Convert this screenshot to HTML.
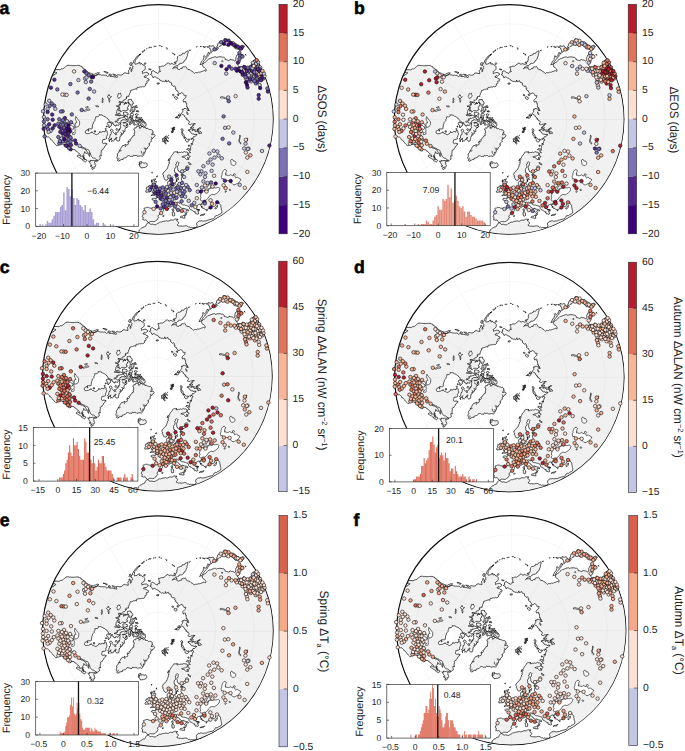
<!DOCTYPE html>
<html><head><meta charset="utf-8"><title>fig</title>
<style>html,body{margin:0;padding:0;background:#fff}svg{display:block}text{font-family:"Liberation Sans",sans-serif;fill:#222;text-rendering:geometricPrecision}</style></head>
<body>
<svg width="685" height="751" viewBox="0 0 685 751">
<rect width="685" height="751" fill="#fff"/>
<defs>
<clipPath id="cc"><circle r="115.00"/></clipPath>
<clipPath id="ce"><circle cx="-0.42" cy="-0.42" r="115.62"/></clipPath>
<g id="base">
<circle r="115.00" fill="#fff"/>
<g clip-path="url(#cc)">
<path d="M-128.6,-17.6L-135.9,-24.0L-128.4,-36.1L-122.8,-36.1L-116.4,-41.0L-111.2,-42.5L-108.2,-44.2L-104.4,-44.3L-103.7,-45.4L-102.5,-45.9L-101.5,-46.7L-102.2,-46.9L-102.7,-47.4L-107.2,-46.6L-112.0,-45.2L-114.3,-44.6L-118.3,-43.8L-120.7,-42.7L-120.9,-43.8L-115.7,-47.2L-110.0,-49.2L-107.9,-50.5L-107.3,-48.2L-103.6,-49.9L-99.7,-49.9L-98.6,-49.7L-97.7,-50.2L-96.8,-50.8L-95.7,-50.7L-94.8,-51.2L-94.0,-51.9L-93.1,-52.5L-92.4,-53.2L-91.7,-54.0L-90.5,-54.2L-89.3,-54.3L-88.1,-53.9L-86.9,-54.1L-85.7,-53.8L-84.4,-53.8L-83.2,-53.9L-82.0,-54.0L-80.8,-54.1L-79.6,-54.1L-78.4,-53.7L-77.7,-53.2L-76.6,-53.1L-76.4,-51.9L-75.5,-51.5L-74.6,-51.2L-74.0,-50.2L-72.8,-49.9L-72.2,-48.9L-71.4,-48.2L-70.5,-47.5L-69.6,-46.9L-68.6,-46.6L-67.6,-46.1L-66.6,-45.6L-65.6,-45.4L-66.4,-44.6L-67.0,-43.5L-68.1,-43.8L-69.1,-43.9L-68.5,-43.5L-68.0,-43.0L-67.2,-42.8L-66.2,-42.8L-65.3,-42.6L-64.7,-43.3L-63.8,-43.5L-63.0,-43.8L-61.8,-44.2L-60.8,-44.7L-59.7,-45.3L-58.9,-44.8L-57.9,-44.7L-57.0,-44.4L-55.9,-44.3L-54.8,-44.4L-53.9,-44.2L-53.1,-44.4L-52.2,-44.3L-51.7,-43.5L-51.0,-43.0L-50.1,-43.5L-49.3,-44.1L-48.6,-43.2L-47.4,-43.0L-46.4,-43.0L-45.5,-43.1L-44.5,-42.6L-43.4,-42.5L-42.3,-42.5L-41.4,-41.8L-40.9,-43.1L-41.8,-44.1L-41.3,-44.6L-40.6,-44.7L-39.6,-44.8L-38.7,-44.4L-37.7,-44.4L-36.4,-44.6L-35.4,-45.3L-34.6,-46.4L-33.3,-46.7L-32.3,-46.3L-31.2,-46.2L-29.6,-45.8L-29.7,-47.5L-30.0,-48.2L-30.0,-49.0L-29.2,-49.8L-28.6,-50.4L-29.0,-51.7L-27.9,-52.0L-27.5,-50.8L-27.0,-49.7L-27.5,-48.9L-27.4,-47.9L-26.7,-48.3L-26.5,-49.1L-27.0,-49.8L-26.4,-50.4L-25.4,-51.1L-26.0,-52.1L-25.5,-52.8L-25.9,-53.5L-26.9,-53.9L-26.7,-54.6L-26.6,-55.3L-25.9,-55.9L-25.2,-56.5L-25.3,-57.6L-24.7,-58.3L-24.5,-59.3L-23.9,-60.0L-23.1,-60.9L-22.6,-62.0L-21.5,-62.6L-21.0,-63.7L-20.0,-64.0L-19.4,-64.8L-18.5,-65.0L-17.8,-65.7L-18.8,-64.8L-19.5,-63.8L-20.1,-63.1L-20.6,-62.3L-21.2,-61.6L-21.7,-60.7L-22.4,-60.0L-23.5,-59.1L-23.3,-57.8L-23.8,-56.5L-23.4,-55.2L-22.7,-55.4L-21.9,-55.6L-21.0,-55.6L-20.5,-56.4L-19.5,-56.9L-18.5,-57.3L-18.8,-56.1L-18.1,-55.2L-17.5,-56.3L-16.4,-55.5L-15.7,-54.6L-14.6,-54.4L-13.9,-53.6L-13.2,-52.8L-13.3,-51.9L-13.2,-51.0L-13.4,-50.3L-13.8,-49.7L-14.6,-49.4L-15.1,-48.7L-15.7,-48.1L-16.5,-47.8L-16.0,-47.0L-16.0,-46.0L-15.3,-46.2L-14.8,-46.8L-13.9,-46.8L-13.1,-47.1L-12.2,-47.1L-11.4,-47.3L-10.8,-46.2L-9.6,-45.8L-9.9,-44.9L-10.6,-44.4L-11.3,-43.8L-12.0,-43.4L-12.9,-44.0L-13.3,-43.2L-14.2,-43.3L-14.4,-42.4L-13.5,-42.2L-12.2,-42.0L-11.5,-41.2L-10.6,-40.8L-9.5,-40.4L-9.6,-39.3L-10.1,-38.3L-11.1,-38.7L-11.9,-38.1L-11.4,-37.2L-11.3,-36.5L-11.7,-35.9L-12.9,-35.7L-12.9,-34.5L-13.3,-33.4L-14.2,-32.8L-15.0,-32.7L-15.8,-33.0L-16.4,-32.6L-17.3,-32.5L-18.0,-32.7L-18.7,-32.4L-19.4,-32.3L-20.0,-32.0L-21.0,-32.3L-21.6,-31.4L-21.5,-30.2L-22.7,-30.7L-23.6,-30.3L-24.5,-30.3L-25.1,-29.8L-25.8,-29.7L-26.6,-29.2L-27.5,-29.5L-27.9,-28.4L-28.1,-27.2L-28.8,-26.4L-28.9,-25.1L-29.6,-24.4L-29.4,-23.1L-30.1,-23.1L-30.9,-23.1L-31.8,-23.1L-32.2,-22.5L-31.4,-21.5L-32.6,-21.6L-32.1,-20.7L-33.0,-20.2L-33.5,-19.5L-34.4,-19.5L-35.3,-19.0L-35.9,-18.3L-36.5,-17.8L-36.7,-17.1L-37.5,-18.0L-38.0,-16.9L-38.4,-18.1L-39.5,-17.8L-39.3,-16.7L-37.9,-15.5L-39.7,-14.8L-40.2,-13.9L-41.1,-13.2L-42.1,-13.8L-41.7,-12.9L-40.9,-13.4L-40.1,-12.9L-39.4,-12.3L-39.8,-11.4L-39.9,-10.5L-40.8,-10.6L-41.0,-9.6L-41.6,-8.8L-41.6,-8.1L-41.8,-7.4L-42.1,-6.3L-41.0,-5.8L-41.3,-5.1L-42.3,-5.1L-43.3,-4.5L-42.7,-4.0L-42.0,-3.9L-41.3,-4.0L-40.6,-4.1L-39.9,-4.7L-39.1,-4.3L-38.2,-3.7L-37.5,-4.5L-36.6,-4.2L-35.4,-3.9L-34.7,-3.6L-34.4,-2.9L-35.0,-2.1L-35.6,-1.7L-36.4,-1.8L-37.1,-1.6L-37.7,-1.2L-38.9,-1.6L-39.3,-0.5L-40.3,-0.8L-41.2,-0.4L-40.6,0.2L-39.9,0.5L-40.6,0.6L-40.8,1.4L-41.8,1.5L-42.7,1.5L-43.7,2.1L-42.7,2.6L-41.6,2.1L-40.9,3.1L-39.8,3.6L-38.8,3.1L-37.9,3.6L-38.7,4.4L-39.2,4.9L-39.5,5.5L-40.6,6.1L-41.2,5.4L-42.3,5.4L-42.4,6.5L-43.5,6.6L-44.0,5.5L-44.9,5.3L-45.4,4.2L-45.3,3.2L-46.3,3.2L-47.0,2.9L-47.3,2.2L-48.5,2.8L-49.4,1.7L-49.5,0.8L-50.0,0.0L-51.0,-0.7L-51.3,-1.5L-52.1,-1.8L-52.9,-2.5L-53.8,-3.1L-54.9,-3.2L-55.6,-4.1L-56.5,-4.3L-57.3,-4.7L-58.4,-4.6L-59.4,-4.8L-59.3,-4.0L-59.8,-3.3L-60.6,-2.5L-61.7,-2.9L-62.6,-2.6L-63.2,-2.4L-62.6,-1.7L-62.9,-0.9L-63.5,0.0L-63.5,1.1L-64.3,2.0L-65.1,2.8L-65.3,4.1L-65.9,5.2L-66.1,6.4L-66.2,7.5L-66.3,8.2L-66.2,8.9L-67.2,9.4L-68.4,9.4L-69.3,9.3L-70.3,9.5L-71.0,10.1L-71.7,10.7L-72.7,11.1L-73.2,12.1L-73.2,13.3L-72.6,13.7L-72.2,14.3L-71.2,14.2L-70.3,14.0L-69.3,14.1L-68.6,13.5L-67.7,13.2L-66.8,13.1L-66.5,12.2L-66.0,13.2L-65.2,13.9L-64.0,14.1L-63.0,14.9L-61.9,15.1L-60.9,14.6L-60.0,14.2L-59.5,13.2L-58.7,12.8L-58.6,11.9L-57.9,12.9L-56.7,12.6L-55.9,12.0L-54.9,12.0L-53.6,12.5L-53.1,10.9L-52.0,10.9L-51.3,11.5L-51.4,12.4L-51.4,13.3L-50.7,13.9L-50.8,14.8L-51.3,15.7L-51.6,16.8L-52.3,17.5L-51.8,18.4L-52.0,19.3L-52.8,19.6L-53.5,19.9L-54.7,19.9L-55.8,20.3L-55.7,21.2L-56.1,22.2L-56.1,23.3L-55.5,23.7L-54.7,24.1L-53.6,23.6L-52.5,23.9L-51.3,24.4L-52.3,24.8L-52.5,25.8L-53.2,26.4L-54.0,27.0L-54.1,28.1L-55.2,28.9L-55.6,30.2L-56.3,30.3L-56.9,30.5L-57.4,31.4L-57.1,32.3L-57.3,33.0L-57.5,33.9L-57.5,34.7L-57.3,35.6L-57.2,36.5L-57.9,36.3L-58.5,35.9L-58.8,36.9L-58.4,37.9L-58.4,38.7L-58.2,39.5L-59.1,40.0L-59.9,40.8L-60.6,40.7L-61.4,40.6L-62.3,40.0L-63.1,39.3L-63.9,38.7L-65.0,38.6L-66.0,38.1L-66.8,37.2L-67.4,36.1L-67.8,35.3L-67.9,34.4L-68.3,33.6L-68.8,32.6L-69.2,31.6L-69.6,30.9L-70.0,30.3L-70.9,30.0L-71.8,29.9L-72.4,29.2L-73.2,28.7L-74.1,28.5L-74.8,28.1L-75.6,27.7L-76.4,27.3L-77.4,27.5L-78.1,26.9L-77.5,27.9L-76.6,28.5L-75.5,28.6L-74.5,29.0L-73.6,29.8L-72.5,30.2L-71.9,31.3L-71.4,32.1L-70.9,33.0L-71.2,34.2L-72.1,33.8L-73.1,33.6L-73.6,32.9L-73.8,32.1L-73.9,33.0L-74.3,33.9L-74.5,34.7L-75.1,35.3L-75.8,35.7L-75.6,36.4L-75.7,37.2L-75.3,38.2L-75.0,39.1L-74.7,40.0L-73.5,39.9L-72.3,40.0L-71.7,40.7L-72.1,41.7L-72.9,42.4L-73.9,41.9L-74.9,41.5L-75.8,41.0L-76.1,39.8L-77.2,39.5L-77.9,38.8L-79.0,38.3L-80.1,37.6L-81.2,37.0L-81.1,36.3L-80.8,35.7L-80.1,35.5L-79.4,35.7L-78.4,36.5L-77.3,37.0L-77.8,36.0L-78.4,34.9L-78.9,34.2L-79.7,33.9L-80.5,33.2L-81.1,32.5L-81.7,31.7L-83.0,31.3L-83.7,30.1L-84.6,30.2L-85.6,30.0L-86.6,30.0L-86.8,30.8L-86.9,31.6L-87.7,30.8L-88.1,29.8L-88.6,29.1L-88.9,28.3L-89.4,27.5L-90.1,26.8L-90.8,26.0L-91.6,26.3L-92.5,25.9L-93.4,26.1L-94.5,25.5L-94.2,24.9L-93.9,24.3L-94.0,25.1L-94.8,25.2L-96.0,24.7L-97.3,25.0L-98.3,24.5L-97.6,24.0L-96.8,23.6L-95.8,23.1L-94.6,22.9L-95.6,22.7L-96.5,22.5L-97.4,22.8L-98.0,23.5L-98.7,24.1L-99.3,24.9L-100.0,25.5L-100.7,26.1L-101.7,26.3L-102.4,25.5L-103.2,24.8L-103.9,24.1L-104.6,23.3L-105.1,22.5L-105.8,21.9L-106.3,21.1L-106.9,20.4L-107.9,20.1L-108.2,19.1L-109.1,18.2L-110.0,17.4L-111.0,17.5L-111.9,17.1L-112.9,17.1L-116.3,19.3L-121.2,21.2L-122.9,19.5L-121.2,17.5L-118.3,15.1L-116.0,14.7L-114.3,12.6L-115.2,10.1L-114.0,7.4L-114.2,5.6L-114.4,4.0L-114.6,1.2L-116.7,1.4L-116.6,-1.0L-115.7,-4.0L-115.3,-7.7L-115.9,-9.7L-118.3,-14.9L-121.9,-15.4ZM-40.1,41.6L-41.1,41.0L-40.7,40.0L-41.2,39.2L-41.6,38.3L-41.4,37.3L-40.7,36.5L-41.3,35.5L-41.1,34.4L-40.4,33.5L-39.6,32.6L-39.4,31.4L-38.4,31.1L-38.3,30.0L-37.7,28.9L-37.1,27.8L-36.5,26.8L-35.6,26.0L-34.2,25.9L-33.3,24.9L-32.4,25.6L-31.3,25.3L-30.5,25.1L-30.1,24.4L-30.2,23.3L-31.0,22.5L-29.8,22.5L-30.2,21.4L-29.5,21.7L-28.9,22.2L-28.1,21.2L-28.9,20.2L-27.6,19.7L-27.1,18.4L-26.5,17.7L-25.6,17.2L-25.4,16.2L-24.1,15.9L-24.1,14.6L-24.4,13.5L-23.6,12.8L-23.9,11.7L-23.9,10.8L-24.7,10.5L-24.3,9.3L-24.1,8.6L-23.6,8.1L-22.5,8.7L-22.1,8.1L-22.0,7.4L-21.4,6.6L-20.7,7.1L-19.8,7.2L-18.9,7.2L-18.8,8.2L-18.1,8.5L-17.4,8.1L-16.8,7.0L-15.9,6.7L-15.2,7.4L-14.6,8.4L-13.7,7.6L-13.2,7.9L-12.5,8.1L-12.6,9.1L-11.6,9.1L-10.8,8.8L-10.2,9.5L-9.5,10.1L-8.7,9.7L-8.1,10.3L-7.3,10.0L-6.2,10.7L-5.5,11.8L-6.1,12.8L-5.1,13.2L-5.8,13.6L-6.5,13.9L-6.9,15.2L-5.5,15.1L-4.5,14.5L-3.8,15.4L-3.4,16.1L-3.7,17.0L-4.4,17.5L-4.9,17.8L-5.5,18.1L-5.7,19.0L-6.5,19.4L-7.3,19.9L-7.5,20.7L-6.9,21.7L-7.7,22.5L-8.4,23.0L-9.1,23.6L-9.1,24.5L-9.0,25.3L-9.2,26.2L-9.8,27.0L-10.3,27.6L-11.0,28.0L-11.1,29.1L-12.0,29.7L-12.9,29.8L-13.6,30.5L-12.9,30.9L-13.0,31.7L-13.3,32.9L-14.1,32.7L-14.9,32.6L-14.2,33.6L-14.3,34.8L-15.0,34.5L-15.6,35.0L-15.3,36.0L-16.2,37.0L-17.3,36.3L-18.4,36.4L-19.4,36.6L-20.7,36.9L-21.6,36.0L-22.6,35.9L-23.6,36.3L-25.1,35.6L-25.9,37.1L-26.9,36.8L-27.9,37.0L-28.8,36.4L-29.9,36.2L-31.0,36.3L-31.6,37.3L-32.3,38.1L-33.3,38.3L-34.3,38.6L-35.3,38.8L-35.5,40.2L-36.8,39.9L-37.5,40.5L-38.7,40.5L-39.2,41.6ZM-19.4,42.7L-18.5,42.4L-17.9,41.8L-17.0,42.0L-17.3,42.9L-17.1,43.8L-16.5,43.4L-15.9,43.1L-15.2,43.5L-14.5,43.4L-13.6,43.8L-12.8,43.2L-12.1,43.5L-11.7,44.1L-11.3,45.0L-11.2,46.0L-11.8,46.7L-12.3,47.5L-13.3,47.7L-14.2,48.1L-15.3,48.1L-16.3,48.3L-17.4,48.4L-17.7,47.4L-18.5,46.9L-19.3,46.3L-18.9,45.7L-18.2,45.3L-19.6,45.3L-19.4,44.0L-18.7,44.0L-18.0,43.8L-19.1,43.7ZM-7.6,76.1L-6.6,75.9L-5.6,75.8L-4.5,75.8L-3.8,75.8L-3.2,75.5L-2.3,75.1L-1.3,75.2L-0.5,75.1L0.4,75.2L1.0,74.6L1.8,74.4L0.9,73.9L1.4,73.2L2.0,72.8L1.9,72.1L2.1,71.5L1.2,71.5L0.4,71.0L0.2,70.0L-0.1,68.8L-0.9,68.4L-1.4,67.7L-1.7,66.9L-1.8,66.1L-2.4,65.3L-3.4,65.1L-2.9,64.1L-2.7,63.4L-2.2,62.8L-2.1,62.0L-2.9,62.0L-3.7,61.8L-4.4,61.9L-4.1,61.0L-3.3,60.4L-3.2,60.0L-4.2,59.7L-5.2,60.0L-5.5,60.6L-5.7,61.3L-6.3,62.2L-6.6,63.0L-6.3,63.9L-6.5,64.9L-6.6,66.0L-5.6,65.5L-5.8,66.3L-6.0,67.2L-5.1,67.0L-4.2,67.1L-4.2,68.1L-3.6,69.1L-3.8,70.0L-4.7,70.1L-5.5,70.1L-5.4,70.9L-5.1,71.7L-6.0,72.1L-6.6,72.7L-5.9,73.1L-5.3,73.4L-4.6,73.6L-3.9,74.0L-4.8,74.0L-5.6,74.3L-6.1,75.0L-6.6,75.6ZM-8.6,65.9L-7.9,66.3L-7.1,66.3L-6.9,67.0L-6.5,67.5L-7.0,68.1L-7.4,68.8L-7.5,69.5L-7.5,70.1L-7.4,71.1L-7.9,71.9L-9.0,72.4L-10.2,72.5L-11.4,72.5L-12.6,72.8L-12.8,72.2L-13.0,71.5L-12.4,70.9L-11.7,70.5L-11.4,69.7L-12.3,68.9L-11.8,68.3L-11.8,67.5L-10.9,67.6L-10.1,67.6L-10.1,66.5L-9.5,66.0ZM-38.7,126.5L-34.9,121.6L-30.7,118.8L-26.8,116.0L-23.5,115.5L-20.1,114.2L-19.1,112.6L-19.6,112.2L-19.5,111.3L-19.1,110.5L-18.3,109.9L-17.7,109.2L-16.9,108.5L-15.9,108.4L-15.2,107.5L-14.3,107.2L-13.4,107.1L-12.7,106.6L-12.4,105.4L-11.7,104.4L-10.9,103.5L-9.8,103.2L-8.8,103.8L-8.2,104.7L-7.3,104.9L-6.4,104.6L-5.5,104.7L-4.6,105.0L-3.7,105.2L-2.6,105.2L-1.8,104.7L-1.1,103.9L-0.0,103.6L0.8,102.9L1.8,102.5L3.1,102.5L4.3,102.0L5.5,101.7L6.7,101.6L7.9,101.2L9.1,101.6L10.4,101.5L11.5,100.8L12.6,100.4L13.8,100.7L15.0,100.5L16.1,99.7L17.4,99.5L18.4,99.8L19.4,99.6L19.1,100.4L18.2,100.4L18.4,101.4L19.1,102.1L19.8,102.4L20.2,103.1L20.2,103.8L19.7,104.3L19.0,105.0L18.9,105.9L20.0,106.3L21.1,106.6L22.4,106.5L23.7,106.7L25.0,106.6L26.0,106.4L27.0,106.2L28.0,106.3L28.9,106.5L29.5,107.2L30.1,107.8L31.1,107.4L32.1,108.2L33.1,107.8L34.1,108.0L37.6,108.1L38.7,106.3L38.3,105.3L38.0,104.3L38.4,103.4L39.0,102.6L39.8,102.1L40.6,101.4L41.7,101.8L42.5,101.1L43.4,101.3L44.3,101.6L45.2,101.6L46.3,101.3L47.3,101.4L48.4,101.2L49.3,100.6L50.4,100.4L51.4,100.0L52.6,99.7L53.8,99.5L55.0,99.2L55.6,98.4L56.2,97.7L56.7,96.7L57.7,96.0L59.0,96.1L60.0,95.2L61.1,94.7L62.3,94.1L63.0,93.6L63.3,92.8L63.3,92.0L63.3,91.1L63.0,90.5L62.8,89.7L62.7,88.6L62.4,87.5L62.3,86.8L62.3,86.0L61.9,85.1L61.0,84.6L60.5,83.6L60.4,82.6L59.6,83.2L58.8,83.7L57.9,83.9L57.3,84.8L57.1,85.9L56.4,86.6L55.7,87.1L54.8,87.1L53.9,87.0L52.9,87.2L52.0,87.5L51.9,88.2L51.9,88.9L50.8,89.0L49.7,89.3L49.0,89.8L48.2,89.9L47.5,90.2L46.7,90.2L46.2,89.5L45.6,88.8L44.9,88.8L44.1,88.8L43.7,88.0L44.1,87.3L43.4,87.1L42.7,86.8L42.3,85.9L42.6,85.2L43.1,84.6L43.9,84.4L44.6,83.9L45.3,83.4L46.0,83.1L46.9,82.7L47.1,81.8L46.3,81.9L45.6,82.0L45.4,82.2L44.4,82.8L43.4,83.3L42.8,84.0L42.7,84.8L41.9,85.5L41.6,84.9L41.1,84.7L40.3,84.9L39.6,85.3L38.8,85.9L38.5,86.6L38.5,87.3L38.2,87.9L37.5,87.7L36.9,87.3L36.8,88.5L37.4,88.9L37.9,89.4L38.3,90.2L39.3,90.7L40.4,90.8L40.6,91.6L40.0,91.5L39.3,91.7L39.8,92.8L40.0,93.5L40.2,94.3L39.3,94.8L38.2,94.1L37.7,94.7L37.3,93.8L36.4,93.4L36.7,92.2L35.6,92.4L34.6,91.6L34.0,91.1L33.4,90.7L32.4,90.2L31.6,89.7L30.9,88.9L30.9,87.9L30.5,87.0L29.7,86.6L28.9,86.4L28.0,86.1L27.1,85.9L26.2,85.5L25.2,85.5L24.0,85.3L23.0,84.7L22.7,84.0L22.2,83.5L21.3,83.0L20.8,84.0L20.6,83.3L20.1,82.9L19.2,82.6L18.6,83.0L18.2,83.5L18.6,84.4L18.7,85.1L18.9,85.7L19.9,85.8L20.8,86.5L21.6,87.0L21.9,88.0L22.8,88.4L23.7,88.9L24.6,89.0L25.6,88.6L25.6,89.4L26.6,89.4L27.4,89.7L28.4,89.8L29.3,90.0L30.3,90.6L30.2,91.4L29.1,91.2L28.1,90.7L27.8,91.4L27.4,92.0L28.2,92.6L28.7,93.3L27.9,93.9L28.1,94.8L27.7,95.4L27.3,95.9L26.8,95.8L26.9,94.6L27.0,93.5L26.4,92.9L25.8,92.3L25.0,92.0L24.3,91.5L23.1,91.4L22.4,91.3L21.8,90.9L21.0,91.2L20.3,90.8L19.3,90.2L18.5,89.9L17.7,89.5L17.0,89.2L16.4,88.7L15.9,87.7L15.4,87.2L15.0,86.7L14.2,86.7L13.5,86.3L13.2,87.1L12.4,87.5L11.4,88.0L10.8,88.5L10.3,89.1L9.4,89.0L8.4,89.1L7.2,89.0L6.1,88.9L5.4,89.4L4.9,90.0L5.0,90.6L5.1,91.3L4.3,92.1L3.6,93.1L2.4,93.5L1.5,94.3L0.7,95.0L-0.0,95.8L-0.5,96.8L-0.2,97.6L0.3,98.2L-0.2,98.7L-0.9,99.1L-1.1,99.8L-1.4,100.4L-2.3,100.9L-3.1,101.4L-3.7,102.1L-5.0,102.2L-6.2,102.0L-7.0,102.0L-7.8,101.9L-8.7,102.4L-9.6,102.9L-10.1,103.0L-10.9,102.6L-11.2,101.8L-11.8,101.2L-12.2,100.5L-13.1,100.4L-14.0,100.6L-14.8,100.3L-15.7,100.4L-15.5,99.1L-15.2,97.9L-15.9,97.6L-16.2,96.9L-15.7,95.7L-15.3,94.8L-14.6,94.1L-14.7,93.2L-14.1,92.5L-14.2,91.5L-14.2,90.5L-14.1,89.7L-14.6,89.0L-13.8,88.6L-13.0,88.4L-12.4,88.2L-11.9,87.8L-10.9,87.9L-9.9,87.9L-9.0,88.5L-8.0,88.6L-6.9,88.7L-5.9,89.0L-4.9,89.3L-4.0,89.6L-3.0,89.4L-2.3,88.9L-2.1,87.9L-1.8,87.0L-1.6,86.1L-1.6,85.1L-1.8,83.9L-2.5,83.0L-3.1,82.0L-3.7,81.6L-4.4,81.2L-5.2,80.6L-6.2,80.5L-6.5,79.5L-5.8,78.7L-4.8,78.8L-3.8,78.8L-2.8,79.2L-2.2,79.2L-2.2,78.0L-2.6,77.2L-1.8,77.2L-1.5,77.9L-0.3,78.0L0.3,77.4L1.1,77.4L1.6,76.7L2.1,76.1L2.1,75.0L3.3,74.5L3.8,74.1L4.4,73.9L4.5,73.2L5.1,72.8L5.7,72.2L5.7,71.3L5.9,70.8L6.6,70.0L7.6,70.1L8.4,69.6L9.1,69.4L9.7,68.9L10.4,69.0L10.6,68.0L10.2,67.3L10.0,66.3L9.4,65.3L9.4,64.6L9.1,63.9L9.1,63.0L9.4,62.3L9.8,61.7L10.5,61.4L11.4,60.8L11.4,61.6L11.3,62.4L12.2,63.2L11.6,63.9L11.3,65.2L11.1,66.2L11.8,66.8L12.8,67.2L13.2,67.7L13.9,67.7L14.4,67.2L14.7,66.5L15.8,66.0L16.4,66.5L16.9,67.0L17.7,66.5L18.5,66.1L18.7,65.0L19.8,64.6L20.4,64.2L21.2,64.0L21.9,64.6L23.0,64.1L22.9,63.2L23.1,62.2L23.7,61.3L23.2,60.6L22.9,59.8L23.0,58.9L23.0,58.1L23.8,57.1L24.7,57.1L25.0,58.0L25.8,57.6L25.7,56.8L25.4,56.0L25.1,55.1L23.9,55.0L23.4,54.2L23.8,53.5L24.4,53.1L25.2,53.1L25.5,52.4L26.5,51.9L27.4,51.6L27.9,51.0L28.1,50.2L29.0,49.8L27.7,50.0L26.8,49.4L26.1,49.8L25.7,50.4L24.6,50.7L24.1,51.8L23.4,52.5L22.6,53.2L21.5,52.5L20.9,52.3L20.3,52.0L19.9,51.4L19.9,50.6L19.1,50.2L19.2,49.3L19.4,48.5L18.9,48.0L18.7,47.1L19.5,46.5L19.9,45.3L20.1,44.1L20.5,43.1L20.0,42.6L19.3,42.3L18.2,42.8L17.6,43.3L18.2,44.1L17.4,44.6L17.0,45.4L17.7,46.0L17.6,46.6L17.5,47.3L17.4,48.1L16.6,48.6L16.3,49.2L16.1,50.0L15.8,50.9L16.6,51.4L16.1,52.2L16.5,52.9L16.6,53.6L17.3,53.4L17.9,53.8L18.7,54.8L18.8,55.8L18.3,56.7L17.5,57.0L17.3,57.8L17.7,58.5L17.8,59.3L17.9,60.3L18.0,61.2L17.8,62.4L17.2,62.8L16.5,62.8L16.3,63.9L15.8,64.4L14.8,64.6L14.8,64.1L14.1,63.2L14.2,62.3L13.3,61.6L12.8,60.6L11.8,60.4L11.9,59.4L11.4,58.3L11.0,57.6L10.7,56.9L10.6,57.9L10.2,58.6L9.5,59.0L9.4,59.8L8.5,60.5L7.5,60.9L6.9,60.4L6.2,60.1L5.8,59.1L5.4,58.0L4.9,57.3L5.1,56.5L4.8,55.4L4.0,54.8L4.7,54.0L4.9,53.1L5.8,52.3L6.4,51.9L6.8,51.3L7.2,50.6L7.8,50.2L8.6,49.6L8.8,48.5L9.2,47.9L9.3,47.2L9.8,46.6L9.9,45.9L10.1,44.7L11.0,44.0L10.2,43.3L10.9,43.0L10.8,42.1L11.0,40.9L11.4,40.3L11.5,39.6L11.5,38.9L11.8,38.3L12.4,37.8L12.5,37.1L13.1,36.0L13.9,35.3L14.6,34.4L14.9,33.8L15.1,33.1L15.8,32.6L16.9,32.2L17.7,32.5L18.6,32.2L19.5,32.2L18.8,32.7L19.0,33.5L19.7,33.4L20.5,32.8L21.2,32.9L21.8,33.0L23.0,32.5L24.0,32.9L25.0,32.5L25.8,31.9L26.8,32.5L28.1,32.5L28.9,32.7L29.3,33.5L29.4,34.5L28.8,35.6L28.1,36.0L27.4,36.4L26.5,36.4L25.7,36.7L24.8,36.6L24.2,37.3L23.5,37.0L24.1,37.8L25.1,37.9L25.9,37.9L26.6,38.4L27.2,39.2L27.8,40.0L28.7,39.7L29.6,40.1L30.7,39.5L29.7,39.0L28.7,38.6L29.1,37.9L29.9,38.5L30.6,37.8L31.7,37.1L31.3,36.4L30.6,36.4L29.7,36.0L30.0,35.1L30.1,34.3L30.3,33.4L30.9,32.8L31.6,33.1L32.2,33.1L31.4,32.3L31.0,31.7L30.4,31.4L29.5,30.7L29.0,30.0L28.1,29.9L28.7,29.3L29.4,28.9L30.4,29.2L31.1,29.3L30.7,30.3L31.4,30.9L32.5,30.3L32.0,29.6L32.0,28.9L32.1,27.9L32.3,26.6L32.6,25.9L32.7,25.1L32.6,24.4L32.6,23.8L33.8,24.3L33.6,24.9L34.3,24.5L33.4,23.9L34.2,23.0L34.4,21.9L34.7,20.8L35.5,20.5L35.1,19.6L34.6,18.9L33.8,19.2L34.4,18.3L34.8,17.2L36.0,17.2L36.8,16.9L37.4,16.3L37.6,15.2L38.6,15.4L37.8,14.5L36.8,14.9L35.6,15.2L35.1,14.3L34.1,14.5L33.3,14.3L32.6,13.7L32.5,12.8L31.7,12.3L31.0,11.9L30.4,11.1L31.1,10.7L31.2,10.0L31.9,9.8L32.6,10.1L33.3,10.8L34.3,11.0L35.4,10.4L36.3,11.2L36.8,12.1L37.9,11.9L38.7,12.1L39.3,11.6L39.5,12.8L40.7,12.4L40.3,14.2L42.1,13.8L43.1,13.8L43.0,13.0L42.5,12.4L41.6,12.1L41.0,11.4L40.0,11.8L39.6,10.8L39.8,9.7L40.8,9.4L41.8,9.0L42.3,8.5L41.2,8.2L40.2,8.9L39.7,9.8L38.7,9.6L39.5,10.6L38.3,11.0L37.6,10.2L36.8,10.8L36.1,10.1L35.1,9.8L34.5,10.1L33.8,10.2L33.5,8.8L32.0,8.7L32.4,7.5L33.5,8.1L34.0,8.7L34.8,8.7L35.0,7.8L34.2,7.1L33.2,6.9L34.0,6.0L35.2,6.1L34.9,4.9L35.9,4.4L36.9,4.3L36.2,4.3L35.6,4.0L34.8,4.3L34.0,4.6L32.9,4.5L32.2,5.2L31.1,5.1L29.8,4.4L30.7,3.2L30.9,2.6L30.8,1.9L30.3,1.3L29.5,1.3L29.1,0.2L28.0,0.0L28.2,-1.2L27.0,-1.4L27.1,-2.2L26.5,-2.8L25.7,-3.2L25.7,-4.1L25.3,-4.6L24.6,-4.8L23.7,-5.1L22.8,-5.8L23.3,-6.7L23.8,-7.2L24.2,-7.9L24.5,-8.8L23.8,-9.4L24.3,-10.5L25.2,-10.0L25.5,-11.1L26.8,-11.1L28.0,-10.5L29.0,-10.8L29.6,-9.9L30.2,-9.4L30.9,-9.1L29.0,-9.0L30.0,-10.6L29.7,-11.3L28.9,-11.4L29.0,-12.6L27.9,-12.7L28.2,-13.7L28.0,-14.8L28.2,-16.0L27.2,-16.4L27.5,-17.5L26.7,-18.5L25.9,-17.5L25.0,-17.4L24.8,-18.4L24.5,-19.2L25.0,-19.9L25.7,-20.6L26.4,-21.3L27.3,-22.0L27.3,-23.0L27.8,-23.8L26.8,-24.0L25.9,-23.7L25.4,-24.3L25.4,-25.0L24.9,-25.8L24.1,-26.3L22.9,-26.8L22.5,-26.2L21.9,-25.9L20.7,-25.5L20.2,-26.7L19.3,-27.6L19.0,-28.8L17.8,-29.1L17.1,-29.9L17.7,-30.7L16.6,-31.2L16.9,-32.5L16.1,-33.7L14.7,-33.1L14.1,-33.9L13.2,-34.4L13.1,-35.5L13.0,-36.7L11.9,-37.1L10.7,-37.4L10.2,-39.0L8.8,-38.1L7.7,-37.8L7.5,-38.7L7.3,-39.6L7.1,-38.5L6.3,-37.6L5.5,-37.9L4.7,-38.4L3.6,-38.0L2.7,-38.8L1.7,-38.9L1.3,-40.0L0.4,-40.3L-0.5,-41.3L-1.8,-41.6L-2.7,-42.3L-3.7,-42.8L-5.5,-41.8L-6.1,-43.7L-7.1,-44.4L-8.2,-45.1L-6.8,-45.8L-7.1,-47.4L-6.4,-48.5L-5.2,-48.9L-4.2,-48.1L-3.3,-47.6L-2.5,-46.9L-1.5,-46.7L-0.8,-46.0L-0.2,-47.0L0.4,-47.9L1.4,-47.6L2.1,-48.4L1.1,-48.8L1.3,-49.8L1.1,-50.8L0.7,-51.8L0.6,-52.9L1.8,-52.6L2.7,-53.2L3.7,-53.5L5.1,-53.3L6.2,-54.1L7.2,-54.7L7.9,-55.6L8.9,-56.2L9.7,-56.8L10.5,-55.8L11.8,-55.3L12.7,-56.0L13.9,-55.8L14.8,-55.2L15.9,-55.5L17.2,-55.6L17.1,-56.9L18.1,-57.6L18.5,-58.7L19.0,-59.9L18.6,-61.1L19.5,-61.8L18.8,-62.4L19.5,-63.0L20.1,-63.6L20.7,-64.2L21.8,-64.1L22.6,-64.7L23.6,-64.8L23.9,-65.5L24.1,-66.3L25.1,-66.2L26.0,-66.0L26.6,-66.8L27.0,-67.6L28.0,-67.9L28.8,-68.4L29.6,-68.8L29.7,-67.7L29.6,-66.7L29.2,-65.7L28.9,-64.7L29.0,-63.7L28.5,-62.8L28.1,-61.6L27.6,-60.4L26.9,-59.3L25.9,-58.9L25.6,-57.7L24.6,-57.2L24.0,-56.3L23.2,-56.1L22.1,-56.2L21.2,-56.0L20.8,-55.0L19.9,-54.8L19.0,-53.9L17.7,-53.9L16.9,-53.5L16.4,-52.7L15.5,-52.4L14.8,-51.6L14.1,-50.8L15.1,-51.6L16.3,-51.7L17.3,-51.8L18.2,-52.1L18.7,-52.9L18.8,-51.8L18.7,-50.7L19.5,-50.4L20.3,-50.0L21.3,-50.1L22.0,-51.0L23.6,-50.9L23.8,-52.3L24.5,-52.6L25.2,-52.8L26.1,-52.6L27.1,-53.2L27.9,-52.5L28.0,-51.7L28.5,-51.0L29.4,-50.1L30.6,-50.0L31.9,-49.6L32.8,-48.6L33.6,-48.0L34.5,-47.7L35.2,-47.0L36.1,-46.0L37.1,-47.0L38.0,-46.9L39.1,-46.8L40.0,-47.4L41.1,-47.3L42.0,-47.5L42.9,-47.9L43.9,-48.2L44.8,-48.5L45.8,-49.1L46.6,-48.6L47.4,-48.3L47.8,-49.5L47.2,-50.6L46.4,-51.3L45.8,-52.1L45.0,-52.4L44.4,-52.9L44.1,-53.9L44.1,-55.0L44.9,-55.7L45.3,-56.5L46.2,-57.1L47.2,-57.5L48.0,-58.2L48.6,-59.1L49.4,-59.8L50.1,-60.5L51.3,-61.0L52.5,-61.3L53.7,-61.8L54.6,-62.1L55.5,-62.4L56.4,-62.7L57.4,-62.7L58.4,-61.9L59.4,-62.6L60.5,-62.6L61.6,-62.7L62.7,-62.7L63.8,-62.3L65.1,-62.3L66.2,-61.7L66.7,-60.9L66.8,-59.9L67.9,-59.7L69.0,-59.4L70.0,-58.9L71.0,-59.1L71.4,-60.0L72.4,-60.1L73.3,-59.6L74.4,-59.6L75.3,-59.2L76.2,-58.6L77.3,-59.2L77.4,-60.3L77.4,-61.3L77.4,-62.3L77.9,-63.1L78.3,-64.2L79.0,-65.0L79.8,-65.6L80.6,-66.2L81.8,-66.2L82.4,-65.6L83.2,-65.0L84.3,-65.0L84.6,-63.8L85.6,-63.5L84.8,-62.6L84.2,-61.9L83.2,-61.8L82.9,-61.0L82.4,-60.3L81.7,-60.4L81.0,-60.4L81.0,-59.4L81.5,-58.6L81.8,-57.7L81.2,-56.8L80.1,-56.8L79.3,-56.2L79.3,-55.2L79.2,-54.3L80.2,-53.5L81.0,-52.6L81.7,-51.9L82.5,-51.5L83.4,-51.3L82.6,-50.4L81.4,-50.3L80.2,-50.3L80.1,-49.3L80.7,-48.5L81.8,-48.4L82.6,-47.9L83.5,-47.4L84.2,-46.7L85.0,-46.1L86.0,-45.7L87.2,-45.8L87.3,-47.0L87.5,-48.1L88.0,-48.6L88.5,-49.1L87.9,-49.7L87.1,-50.3L86.5,-51.4L85.8,-52.4L85.2,-53.3L85.1,-54.4L86.1,-53.9L86.9,-53.3L87.9,-52.8L88.5,-52.1L89.5,-52.1L90.6,-51.8L91.8,-51.5L92.6,-52.0L92.4,-53.1L92.7,-54.2L93.6,-55.1L94.1,-56.3L94.4,-57.2L94.6,-58.1L94.9,-59.0L95.6,-59.1L96.0,-59.8L98.0,-58.7L97.8,-60.9L100.4,-61.8L102.2,-60.9L106.7,-60.6L110.7,-59.1L114.2,-57.4L118.4,-53.2L123.9,-46.3L138.9,-37.2L143.2,-12.5L143.2,12.5L138.9,37.2L130.3,60.8L117.8,82.5L101.6,101.6L82.5,117.8L60.8,130.3L37.2,138.9L12.5,143.2L-12.5,143.2L-42.0,137.5ZM-69.9,41.5L-69.0,41.8L-68.1,41.9L-68.3,40.8L-67.3,40.9L-66.5,41.2L-65.3,40.9L-64.2,40.9L-63.3,41.0L-62.4,40.8L-61.4,41.0L-60.7,41.6L-61.5,41.5L-62.1,42.0L-63.1,41.9L-64.0,42.2L-64.0,42.9L-63.4,43.4L-63.7,44.6L-63.1,45.4L-62.8,46.3L-63.2,46.9L-63.3,47.5L-64.1,47.5L-64.9,47.7L-64.1,48.4L-64.8,49.4L-65.6,49.7L-66.4,49.9L-66.7,48.7L-66.3,48.2L-65.7,47.8L-66.9,47.5L-67.9,47.0L-68.2,46.2L-67.5,46.6L-66.8,46.3L-67.1,45.4L-67.8,44.9L-68.3,43.9L-68.8,43.0L-69.3,42.2ZM-69.4,33.1L-69.0,34.1L-68.8,35.2L-69.0,36.1L-69.0,37.0L-69.5,36.2L-69.8,35.4L-69.8,34.5L-69.7,33.8ZM-74.6,35.9L-74.8,36.9L-74.4,37.9L-74.1,38.6L-73.7,39.2L-74.8,38.8L-74.7,37.8L-75.3,37.1L-75.0,36.5ZM-66.6,-43.9L-65.9,-44.6L-65.2,-45.3L-64.1,-45.3L-63.1,-45.9L-62.2,-46.1L-61.4,-46.6L-60.4,-46.9L-59.7,-46.7L-59.0,-46.6L-59.7,-46.1L-60.3,-45.4L-61.4,-44.9L-62.6,-44.3L-63.6,-43.8L-64.8,-43.7L-65.7,-43.5ZM-54.7,-47.8L-53.5,-47.7L-52.2,-47.7L-51.3,-47.2L-50.3,-46.9L-51.2,-46.7L-51.5,-45.9L-52.1,-46.7L-52.8,-47.4L-53.7,-47.7ZM-49.6,-45.1L-48.7,-45.4L-47.8,-45.4L-47.3,-44.9L-46.8,-44.5L-47.5,-44.0L-48.3,-44.1L-49.0,-44.4ZM-45.9,-45.4L-45.1,-45.3L-44.3,-45.1L-43.2,-45.1L-42.4,-44.3L-42.6,-43.6L-43.2,-43.2L-43.7,-44.0L-44.6,-44.3L-45.3,-44.8ZM-27.1,-57.1L-28.0,-56.8L-28.7,-56.4L-28.4,-55.5L-28.9,-54.8L-28.0,-53.9L-27.4,-54.9L-26.8,-56.0ZM-17.8,-65.5L-18.5,-64.9L-19.3,-64.8L-18.5,-64.5ZM-15.4,-68.4L-16.1,-68.2L-16.5,-67.6L-16.0,-67.1L-15.0,-67.7ZM-13.6,-69.8L-14.3,-69.5L-14.6,-68.8L-13.9,-68.6L-13.8,-69.2ZM-6.8,-72.3L-7.7,-72.0L-7.3,-71.8ZM-4.0,-73.3L-4.7,-73.0L-4.2,-72.7ZM9.1,-70.7L8.2,-70.6L8.6,-70.4ZM-7.4,-50.4L-8.2,-50.3L-8.9,-50.6L-10.0,-50.4L-9.3,-50.0L-8.2,-49.7L-7.4,-49.9ZM-12.6,-56.1L-13.3,-57.0L-14.0,-56.1L-14.1,-55.2L-13.0,-55.3ZM-2.3,-73.4L-3.1,-73.2L-2.8,-72.8ZM1.9,-74.0L0.8,-74.0L1.3,-73.4ZM3.7,-73.0L2.8,-73.0L3.3,-72.5ZM8.3,-71.8L7.7,-71.7L8.0,-71.3ZM16.5,-64.3L15.8,-64.8L15.6,-65.8L16.1,-65.4ZM14.8,-65.6L14.4,-65.9L14.0,-66.6L14.5,-66.3ZM-8.1,-72.4L-9.0,-72.2L-8.6,-71.9ZM-9.2,-71.8L-9.8,-71.6L-9.5,-71.3ZM-11.4,-70.9L-12.0,-70.7L-11.6,-70.4ZM-49.0,22.3L-49.4,21.2L-48.7,20.2L-50.2,19.3L-48.8,18.3L-48.8,17.2L-48.5,16.2L-48.5,15.2L-47.5,15.0L-47.3,14.1L-47.3,13.1L-47.1,12.1L-47.9,11.5L-48.1,10.6L-47.7,9.9L-46.9,9.7L-46.3,10.0L-45.4,10.8L-45.8,11.9L-45.4,12.5L-44.9,13.1L-44.0,14.0L-43.1,13.2L-42.3,13.6L-41.5,13.1L-40.7,12.7L-40.2,11.9L-40.0,10.7L-38.6,10.5L-39.5,9.5L-38.3,9.6L-38.5,8.6L-37.7,8.0L-38.1,7.1L-38.1,6.3L-37.7,5.6L-37.8,4.6L-38.2,3.7L-37.4,3.2L-37.7,2.3L-37.8,1.6L-37.4,1.0L-36.5,1.1L-36.2,0.3L-35.3,0.3L-34.5,0.0L-33.5,0.6L-32.4,0.3L-31.5,0.4L-31.0,1.1L-31.0,2.2L-31.8,2.2L-32.5,2.8L-33.4,2.9L-34.4,2.9L-35.3,2.8L-35.7,3.4L-34.7,3.7L-33.7,3.3L-32.8,3.4L-31.9,3.8L-31.0,4.1L-30.9,4.9L-31.6,5.4L-32.5,5.7L-32.1,6.5L-32.0,5.4L-30.8,5.2L-30.7,5.8L-30.7,6.5L-30.7,7.4L-31.4,7.8L-32.2,7.7L-32.6,8.7L-33.4,9.3L-33.6,10.1L-33.5,10.9L-33.4,11.9L-34.3,12.2L-35.3,12.7L-34.8,13.7L-35.8,14.0L-36.1,15.0L-36.9,15.3L-37.7,15.2L-37.2,16.2L-38.1,16.6L-38.6,17.7L-38.6,18.8L-38.9,19.7L-38.8,20.6L-39.4,21.5L-40.3,21.6L-41.3,21.5L-41.9,20.9L-42.4,20.2L-42.3,19.1L-41.7,18.1L-42.1,17.5L-42.5,18.3L-42.6,19.3L-43.8,19.5L-44.1,20.7L-45.0,21.5L-46.1,21.3L-46.8,22.0L-46.7,21.2L-46.9,20.4L-47.2,19.4L-46.8,18.4L-47.6,19.4L-48.2,20.4L-49.2,21.1ZM-50.5,2.6L-51.0,3.3L-51.2,4.0L-50.8,5.1L-49.7,5.7L-49.6,6.6L-50.0,7.5L-49.4,7.7L-49.1,8.4L-49.1,7.6L-48.3,7.2L-47.3,6.5L-47.0,5.4L-46.7,4.6L-46.2,4.0L-47.2,4.1L-47.8,3.3L-48.5,2.8L-49.4,3.0ZM-52.1,6.4L-52.2,7.5L-51.3,7.3L-51.3,6.5ZM-53.5,9.2L-53.1,10.0L-52.1,9.4L-52.7,9.0ZM-70.2,9.9L-70.3,10.6L-70.5,11.4L-69.8,11.6L-69.7,10.4ZM-64.2,11.3L-64.3,12.5L-63.7,12.5L-63.0,12.5L-63.0,11.3ZM-42.6,9.8L-42.2,10.7L-41.2,10.8L-40.5,10.1L-41.1,9.3L-42.0,9.0ZM-34.3,-17.5L-35.2,-17.3L-36.0,-16.8L-37.1,-17.0L-37.9,-16.1L-38.1,-15.0L-38.5,-14.0L-39.9,-13.0L-38.7,-11.8L-39.0,-11.2L-39.1,-10.5L-39.8,-9.6L-39.7,-8.4L-38.3,-9.7L-38.3,-7.8L-37.3,-7.6L-36.6,-8.3L-36.1,-8.7L-35.6,-9.2L-34.9,-9.0L-34.1,-9.0L-32.9,-8.7L-31.8,-8.8L-31.4,-9.6L-30.5,-9.6L-30.1,-10.6L-31.1,-11.0L-31.1,-12.0L-30.4,-12.5L-30.1,-13.4L-29.8,-14.4L-29.1,-15.1L-29.9,-15.6L-29.7,-16.9L-30.8,-17.1L-31.8,-16.5L-32.0,-15.6L-32.7,-16.4L-32.8,-17.5L-32.5,-16.3L-33.7,-16.1L-34.3,-15.6L-34.3,-14.9L-33.8,-15.9L-34.5,-16.8ZM-28.2,-20.1L-29.3,-20.0L-30.4,-19.7L-30.4,-19.0L-30.6,-18.4L-30.1,-17.7L-30.0,-17.0L-29.3,-16.3L-28.5,-15.6L-28.1,-14.6L-28.2,-13.8L-27.7,-13.2L-26.8,-13.2L-26.4,-14.0L-26.5,-15.2L-25.3,-15.5L-25.1,-16.6L-25.6,-17.6L-26.1,-18.5L-27.0,-18.9L-27.0,-20.1ZM-33.3,-7.4L-34.9,-7.4L-35.0,-5.9L-34.8,-5.1L-34.8,-4.3L-33.6,-4.2L-32.3,-4.0L-31.6,-4.9L-30.6,-4.3L-30.5,-5.0L-30.3,-5.6L-30.6,-6.7L-31.7,-6.7L-32.4,-7.4ZM-34.3,-3.3L-34.4,-2.1L-33.3,-1.6L-32.6,-0.6L-31.9,0.2L-30.9,-0.2L-30.4,-1.3L-30.9,-2.1L-30.9,-3.0L-31.8,-2.8L-32.6,-3.3L-33.5,-3.2ZM-39.7,-6.6L-40.0,-5.7L-40.7,-5.0L-40.3,-3.9L-39.6,-3.7L-38.9,-3.7L-38.3,-4.3L-38.2,-5.0L-38.6,-6.1ZM-25.3,-12.9L-25.5,-11.9L-26.5,-12.1L-27.3,-11.9L-27.5,-11.1L-27.4,-10.1L-28.0,-9.4L-28.9,-8.4L-27.6,-7.9L-27.1,-6.7L-26.0,-7.4L-24.9,-7.4L-24.8,-8.5L-24.2,-8.1L-24.1,-8.9L-24.2,-9.8L-23.2,-10.1L-23.6,-11.0L-24.2,-11.7L-24.1,-12.6ZM-22.3,-14.2L-22.6,-13.1L-23.7,-13.4L-23.4,-12.6L-23.0,-11.9L-22.0,-12.5L-21.4,-11.6L-21.6,-12.4L-21.4,-13.1L-22.0,-13.6ZM-26.9,-6.0L-28.1,-5.8L-28.4,-4.7L-28.4,-3.9L-27.6,-3.6L-26.6,-3.7L-25.6,-3.6L-25.1,-4.6L-25.1,-5.4L-25.6,-5.9L-26.2,-6.5ZM-28.2,-3.2L-28.9,-2.8L-29.3,-2.0L-28.4,-2.5L-27.9,-1.7L-27.5,-2.6ZM-25.5,-2.7L-25.8,-1.8L-25.9,-0.9L-27.2,-0.7L-27.8,0.5L-26.9,1.3L-27.5,2.4L-27.3,3.4L-27.1,4.3L-27.9,4.5L-28.3,5.2L-29.1,4.9L-28.9,3.6L-29.6,2.6L-29.5,1.7L-29.7,0.8L-29.9,-0.2L-29.3,-1.0L-28.7,-1.9L-27.8,-1.5L-27.2,-2.0L-26.7,-2.6ZM-26.1,0.2L-25.4,1.1L-26.2,1.8L-25.8,2.7L-25.8,3.6L-25.3,4.0L-24.9,4.6L-24.4,5.9L-23.4,5.0L-22.7,5.3L-22.0,5.3L-21.2,5.4L-20.4,5.5L-19.6,6.0L-18.8,6.1L-18.0,6.1L-17.2,6.4L-16.7,7.3L-15.8,7.0L-14.8,6.4L-13.8,7.0L-12.8,6.6L-12.4,5.5L-12.5,4.3L-12.7,3.6L-13.1,3.0L-13.6,2.5L-14.0,2.0L-15.3,2.0L-15.1,0.8L-16.1,0.7L-16.1,-0.3L-16.9,1.1L-18.0,0.0L-18.1,0.7L-18.4,1.3L-19.1,1.5L-19.9,1.6L-20.7,1.7L-21.1,0.9L-21.9,1.0L-22.4,1.8L-23.2,0.8L-23.8,1.1L-24.5,1.3L-25.0,0.3ZM-22.3,-2.0L-22.4,-0.8L-22.9,-0.1L-22.4,0.6L-21.3,2.0L-19.9,0.9L-19.5,-0.2L-18.4,0.0L-17.5,-0.2L-16.8,-0.9L-16.7,-2.1L-17.9,-1.7L-19.1,-1.9L-20.3,-1.6L-21.2,-2.1ZM-21.7,-5.8L-22.8,-5.6L-23.0,-4.5L-22.4,-4.0L-21.7,-3.6L-21.0,-4.2L-20.2,-4.7L-20.7,-5.4ZM-22.6,-3.2L-23.1,-2.0L-22.4,-2.7L-21.6,-2.1L-21.3,-2.8L-22.0,-2.8ZM-22.2,-9.0L-22.2,-7.9L-21.4,-8.0L-20.8,-8.8L-21.6,-8.1ZM-20.6,-8.9L-21.0,-7.9L-20.2,-7.3L-19.7,-8.1ZM3.9,19.3L4.0,20.4L4.5,21.3L5.3,22.0L6.2,22.2L6.0,23.2L6.6,24.0L7.3,24.6L7.6,24.1L7.2,23.2L7.4,22.2L7.3,21.2L8.0,20.3L7.8,19.2L6.7,19.6L6.7,18.5L5.7,18.5L4.7,19.0ZM6.0,17.8L6.3,18.5L6.9,18.9L7.6,18.5L8.3,18.7L9.3,18.2L8.8,17.2L8.3,16.4L7.5,16.8L6.5,17.0ZM8.5,21.6L9.3,21.6L9.7,22.3L9.7,21.3L8.7,20.9ZM12.7,12.7L13.4,13.0L14.1,12.7L14.6,12.1L13.9,11.2L13.0,11.7ZM14.6,10.6L15.1,9.5L15.9,10.3L15.9,9.2L15.6,8.3L14.8,7.7L14.3,8.6L14.3,9.6ZM14.7,11.7L15.3,11.3L14.5,11.0L14.3,11.3ZM13.9,10.9L14.5,10.4L14.0,9.8L13.5,10.4ZM14.6,9.5L15.5,9.1L15.0,8.5L14.3,8.9ZM13.7,9.2L13.9,8.5L13.3,8.3L13.3,8.8ZM13.6,12.9L14.5,12.8L14.0,12.2ZM16.1,8.5L16.1,7.7L15.4,7.8ZM7.7,20.5L8.7,20.9L8.1,20.1ZM9.9,16.2L10.3,15.8L10.0,15.7ZM9.9,19.0L10.5,18.6L10.1,18.5ZM4.0,21.7L4.5,22.2L4.4,21.2ZM27.4,21.8L28.2,22.3L29.0,22.3L29.8,21.8L30.5,21.3L30.3,20.3L31.3,20.1L30.7,19.4L29.9,19.8L28.8,19.8L28.0,19.2L27.5,18.2L26.5,18.0L25.9,18.8L26.4,19.4L27.0,20.0L26.9,20.7ZM25.7,18.4L26.7,17.7L25.8,17.1L25.7,16.0L25.3,15.0L24.7,14.0L23.6,13.1L24.3,11.8L24.6,10.7L24.3,9.6L23.4,9.1L22.5,9.9L23.3,10.9L23.4,11.8L23.0,12.7L23.7,13.6L23.4,14.6L23.8,15.7L24.3,16.7L25.2,17.4ZM30.1,26.8L31.0,26.5L30.8,25.6L29.7,25.7ZM33.0,20.2L33.7,19.5L33.0,18.8L32.2,19.3ZM30.2,11.3L30.7,10.3L29.9,10.3L29.7,10.8ZM20.8,-1.8L21.3,-2.5L21.2,-3.4L20.1,-3.9L19.4,-3.7L18.9,-3.2L18.7,-2.0L19.5,-1.2L20.2,-1.5ZM22.7,-4.0L21.7,-4.3L22.0,-5.3L20.7,-5.6L20.1,-5.1L19.8,-4.4L20.3,-3.7L21.1,-3.9L21.9,-4.1ZM18.5,-1.5L18.6,-2.5L17.5,-2.5L16.8,-1.6L17.7,-2.0ZM19.3,-21.1L18.8,-21.7L18.8,-22.5L17.8,-22.4L17.1,-23.1L16.0,-22.5L16.0,-21.4L16.8,-20.7L17.8,-20.1L18.6,-20.4ZM15.7,-24.1L15.2,-25.0L14.3,-25.2L13.8,-24.4L14.7,-23.6ZM20.5,-24.4L19.6,-24.8L19.4,-25.7L18.7,-25.0L19.3,-24.7L19.4,-24.0ZM1.0,-36.4L-0.3,-36.6L-1.5,-36.2L-1.2,-35.4L0.0,-35.4L0.6,-35.6ZM17.1,-57.7L16.2,-57.6L15.7,-56.9L16.5,-56.9ZM52.0,-66.6L51.2,-66.5L50.3,-66.3L49.8,-67.3L49.5,-66.2L48.8,-65.2L48.8,-64.0L47.8,-63.3L46.8,-62.6L46.1,-63.2L45.6,-64.0L45.2,-63.1L45.5,-62.2L45.0,-61.3L44.8,-60.1L44.1,-59.2L43.2,-58.3L42.7,-57.1L42.2,-56.3L42.0,-55.3L41.4,-54.5L42.0,-55.0L42.8,-55.1L43.8,-55.5L44.4,-56.5L44.8,-57.4L45.2,-58.3L45.9,-59.0L46.4,-59.8L47.2,-60.4L47.7,-61.3L48.5,-62.0L49.3,-62.9L49.7,-63.9L50.4,-64.7L51.0,-65.9ZM59.8,-71.2L59.0,-71.6L58.1,-71.8L58.1,-71.0L58.2,-70.3L57.1,-70.4L56.4,-71.2L56.2,-72.2L55.5,-72.9L55.0,-73.8L53.9,-73.7L52.8,-73.2L51.7,-73.6L50.6,-73.9L50.5,-72.9L50.1,-72.1L50.7,-71.6L51.4,-71.6L51.4,-70.3L52.4,-69.5L52.3,-68.3L52.6,-67.1L53.6,-67.6L54.0,-68.4L55.2,-68.9L56.0,-69.9L56.7,-69.5L57.3,-69.0L58.2,-69.3L59.0,-69.8L59.4,-70.5ZM81.1,-70.3L80.5,-71.1L79.9,-71.9L79.3,-72.4L78.6,-72.3L77.7,-73.1L76.8,-73.9L75.8,-74.4L75.0,-75.2L75.4,-75.9L75.8,-76.4L76.3,-76.8L75.6,-77.7L74.7,-77.8L73.8,-77.7L72.9,-78.0L72.4,-77.4L71.5,-78.2L70.7,-79.1L69.7,-79.9L68.8,-80.1L67.9,-80.1L68.0,-80.7L66.8,-80.8L65.6,-80.8L65.3,-80.0L65.1,-79.2L64.2,-78.7L63.3,-78.2L62.4,-78.1L61.7,-77.5L60.6,-76.9L59.6,-76.3L59.2,-75.3L59.1,-74.2L58.8,-73.4L58.1,-72.8L58.9,-72.4L59.7,-72.0L60.5,-72.9L61.6,-73.4L62.6,-73.8L63.1,-74.7L64.0,-74.8L64.9,-74.8L65.8,-75.1L66.6,-74.8L67.5,-74.4L68.2,-74.0L68.9,-73.8L69.5,-74.1L70.0,-74.6L70.6,-74.9L71.4,-75.1L72.3,-74.9L73.3,-74.1L74.6,-73.7L75.1,-72.6L76.1,-71.7L76.9,-70.7L78.2,-70.6L79.4,-70.2L80.1,-70.2L80.7,-69.9ZM83.9,-69.9L84.0,-71.0L85.0,-71.8L85.9,-72.6L85.7,-73.7L85.0,-74.0L84.2,-74.3L83.4,-73.7L82.5,-73.4L81.6,-73.2L81.0,-72.6L80.8,-71.8L81.3,-71.2L81.3,-70.4L82.2,-70.1L83.0,-69.6ZM80.0,-73.0L80.4,-73.6L80.6,-74.3L79.8,-74.3L79.1,-74.5L78.4,-75.0L77.9,-75.8L77.2,-76.2L76.6,-75.8L76.7,-74.9L76.7,-74.1L77.8,-74.0L78.5,-73.2L79.2,-73.0ZM49.8,-72.7L49.0,-72.7L48.2,-72.9L48.8,-72.3ZM47.2,-72.7L46.2,-72.2L45.3,-72.9L44.3,-72.9L45.3,-72.5L46.2,-72.5ZM42.9,-73.1L42.2,-73.0L41.5,-73.0L42.1,-72.9ZM38.8,-72.9L37.9,-72.5L38.5,-72.4ZM32.2,-69.6L31.6,-69.1L30.8,-69.2L31.3,-68.7ZM87.7,-64.2L87.3,-64.7L86.9,-65.3L86.9,-64.5ZM21.6,97.5L22.3,96.9L23.2,96.6L24.4,96.7L25.3,95.6L26.5,95.6L26.2,96.5L26.3,97.5L26.6,98.6L25.6,98.6L24.6,98.6L23.4,98.2L22.1,98.1ZM13.4,93.1L14.2,92.7L15.0,92.3L15.6,92.9L16.1,93.5L16.2,94.7L16.2,96.0L15.3,96.5L14.2,96.3L13.9,95.3L13.9,94.2ZM13.6,90.2L14.1,89.4L14.7,88.9L14.9,89.8L15.2,90.7L14.9,92.0L14.0,91.5L13.9,90.8ZM41.8,95.7L42.6,95.6L43.4,95.2L44.4,94.8L45.5,94.7L46.5,94.2L46.2,94.7L45.3,95.5L44.1,95.9L43.0,95.6L42.0,96.2ZM56.3,89.0L56.7,88.5L57.0,87.8L57.6,87.1L58.4,86.5L59.1,85.8L59.0,86.6L58.9,87.4L58.5,88.3L57.8,89.1L56.7,89.4ZM4.0,96.6L4.6,96.2L5.2,95.9L5.7,96.4L5.1,97.0ZM38.2,90.0L39.3,89.9L40.4,90.0L41.4,90.4L40.4,90.3L39.7,89.9L38.9,89.8ZM48.0,91.4L48.5,90.5L48.7,91.2ZM42.5,87.5L43.3,86.9L43.5,87.6ZM12.8,64.5L13.5,63.6L14.3,63.8L14.3,65.0L14.0,65.7L13.1,65.4ZM11.3,65.3L12.0,64.9L12.5,65.5L11.9,65.9ZM12.9,66.2L13.9,65.7L14.2,66.2L13.4,66.4ZM19.5,59.6L19.2,58.8L19.8,58.2L20.2,58.1L19.5,58.8L20.2,59.5L19.8,60.2ZM18.3,62.1L18.2,60.8L18.4,59.8L18.4,61.1ZM22.7,56.4L22.7,55.9L23.7,55.3L23.7,55.9L23.2,56.8ZM22.4,55.2L22.8,54.7L23.3,55.0L23.0,55.4ZM16.9,64.6L17.4,64.3L17.5,64.8ZM-6.9,53.2L-6.1,52.7L-6.3,53.7ZM-1.5,57.7L-1.8,56.8L-1.0,56.3L-1.4,56.5ZM-3.4,59.5L-2.8,59.2L-3.0,59.6ZM-7.5,61.3L-6.7,61.0L-6.5,60.1L-6.7,61.0ZM-7.2,62.1L-6.7,61.6L-6.4,62.5ZM9.5,41.3L10.2,41.0L10.4,40.3L10.4,39.6L10.8,39.0L10.3,39.7L9.8,40.6ZM128.7,-44.3L127.9,-46.5L126.1,-45.9Z" fill="#f1f1f1" stroke="#000" stroke-width="0.68" stroke-linejoin="round"/>
<path d="M45.5,81.7L44.4,81.5L43.3,81.4L42.6,81.3L42.0,80.8L41.9,80.0L42.0,79.3L42.7,78.3L42.1,77.7L42.0,76.9L42.2,75.7L42.5,74.6L42.5,73.7L42.5,72.7L42.7,71.8L43.5,70.9L44.2,70.8L45.4,71.0L46.1,70.7L46.6,70.1L46.2,71.1L45.9,72.1L46.7,72.2L47.3,71.7L48.0,72.6L48.7,72.5L49.6,71.5L49.9,70.2L50.8,69.8L50.9,68.8L50.0,69.3L49.2,69.7L48.6,69.3L48.2,68.8L48.5,67.8L49.3,67.3L49.7,66.4L50.1,65.2L50.7,64.4L51.5,63.8L52.1,63.6L51.7,64.3L51.4,65.1L51.8,66.3L51.9,67.4L52.0,68.1L51.3,68.8L52.4,68.8L53.2,68.6L54.4,68.6L55.5,68.3L56.2,68.2L56.8,68.4L58.0,68.3L59.1,68.0L60.1,68.0L61.0,68.5L61.5,69.3L61.0,70.2L60.9,71.3L60.4,71.7L60.0,72.3L59.2,73.0L58.4,73.7L57.7,74.1L56.9,74.6L56.2,75.1L55.3,75.2L54.4,74.9L53.6,74.9L52.9,75.1L51.9,75.6L51.2,76.5L50.6,77.0L50.0,77.6L49.8,78.5L49.0,79.1L48.2,80.0L47.2,80.8L46.3,81.2ZM63.3,56.0L63.6,55.2L63.5,54.3L63.9,53.1L64.2,52.0L64.8,51.1L65.5,50.3L66.8,49.9L67.6,50.6L68.3,51.4L67.6,51.9L67.4,52.6L67.2,53.5L67.0,54.3L67.8,54.5L67.0,54.9L67.1,55.7L67.8,55.6L68.6,55.7L69.3,56.0L70.0,56.1L71.1,55.9L71.9,55.2L72.8,55.6L73.6,56.1L74.8,56.5L75.1,55.6L75.0,54.5L75.8,54.3L76.6,54.3L77.0,55.3L76.3,56.1L76.4,56.9L76.5,57.7L77.4,58.5L78.1,57.9L79.0,57.6L79.7,58.4L80.6,59.0L81.5,59.3L82.3,59.8L82.2,60.8L81.4,61.4L80.9,62.1L80.3,62.8L80.1,63.7L78.8,63.9L77.7,64.5L77.0,64.8L76.5,65.4L75.4,65.2L74.5,65.0L73.9,64.4L73.3,63.8L72.7,63.1L72.6,62.2L72.9,61.4L73.3,60.7L72.2,61.2L71.4,61.4L70.6,61.1L69.6,61.3L68.6,61.1L67.5,61.3L66.5,60.8L65.9,60.4L65.4,60.0L65.1,59.2L64.2,59.2L63.4,59.6L63.3,58.6L63.0,58.0L62.9,57.3L62.9,56.6ZM74.0,45.7L73.2,45.2L72.5,44.6L72.6,43.8L72.5,43.1L72.3,42.4L72.2,41.7L72.2,40.9L72.6,40.2L73.7,39.7L74.4,40.4L74.6,41.4L75.5,41.6L76.5,41.5L76.9,42.3L77.4,42.9L77.3,43.9L77.0,44.8L76.5,45.3L76.0,45.8L75.0,45.9ZM82.3,24.5L81.4,23.9L80.7,23.1L80.7,22.1L80.5,21.1L80.3,20.0L80.9,19.0L81.1,17.8L81.1,16.7L81.3,15.5L81.7,16.1L82.1,16.7L81.6,17.7L81.4,18.8L81.2,19.8L80.9,20.7L80.7,21.6L81.5,22.6L82.5,23.2L82.4,23.9ZM71.5,-17.4L71.7,-18.2L71.4,-18.9L70.8,-19.5L70.0,-20.1L69.2,-20.9L68.0,-21.2L67.1,-21.8L66.1,-22.1L65.1,-22.4L64.1,-22.8L62.9,-22.8L61.8,-22.4L62.2,-21.4L63.3,-21.6L64.5,-21.6L65.6,-21.1L66.7,-21.0L67.6,-20.3L68.5,-19.7L69.7,-19.2L70.5,-18.2ZM29.7,49.4L30.3,48.4L30.6,47.3L29.7,46.5L28.7,46.4L27.8,46.6L27.4,47.3L27.5,48.1L28.2,48.2L28.8,48.7ZM32.4,45.4L32.6,44.3L31.4,44.1L30.9,43.0L29.7,42.9L30.2,43.7L30.5,44.6L31.6,45.1ZM13.0,59.0L13.8,59.0L14.4,57.8L13.8,57.1L13.2,57.5L13.0,58.2ZM-82.8,-3.0L-82.9,-1.9L-83.2,-0.7L-82.9,0.3L-82.4,1.2L-82.0,2.1L-81.5,3.0L-82.4,3.2L-83.3,3.6L-83.1,4.8L-83.3,6.1L-82.9,7.2L-83.0,8.0L-82.1,7.6L-81.1,7.4L-80.3,7.2L-79.7,6.4L-79.3,5.7L-78.9,4.8L-79.0,3.6L-78.7,2.5L-79.2,1.7L-79.7,1.1L-80.4,0.2L-81.1,-0.7L-81.5,-1.6L-82.4,-2.2ZM-92.6,3.9L-92.2,4.6L-92.0,5.5L-91.0,5.6L-89.9,5.8L-88.9,5.8L-88.0,5.4L-86.8,5.9L-85.8,6.8L-85.1,7.2L-84.4,7.7L-84.1,6.5L-84.1,5.8L-84.4,5.2L-84.8,4.4L-85.6,4.1L-86.4,3.6L-87.1,3.0L-86.4,3.9L-87.0,3.9L-87.7,3.7L-88.9,3.6L-90.0,3.3L-90.9,3.4L-91.7,3.9ZM-84.4,7.8L-84.8,8.7L-85.1,9.7L-85.9,9.9L-87.0,9.3L-88.2,9.4L-87.9,10.3L-87.5,11.1L-88.2,11.8L-89.3,11.9L-88.6,12.9L-87.7,12.9L-86.9,12.7L-85.8,12.6L-84.9,13.0L-85.9,13.8L-86.1,14.5L-85.9,15.1L-85.1,14.9L-84.3,15.0L-83.4,14.3L-83.3,13.2L-83.6,12.1L-83.3,11.0L-83.5,9.9L-83.7,8.8ZM-92.0,10.6L-91.8,11.5L-92.4,12.2L-92.1,12.8L-92.0,13.4L-91.5,14.2L-90.7,14.8L-90.3,15.8L-89.5,16.6L-88.7,17.4L-89.0,16.5L-89.5,15.6L-90.0,14.6L-89.9,13.4L-90.6,12.8L-91.2,12.0L-91.3,11.1ZM-88.1,15.9L-87.3,16.3L-86.9,17.4L-86.3,18.4L-85.9,19.4L-85.4,20.5L-86.4,21.2L-86.9,20.2L-87.5,19.2L-87.8,18.1L-88.0,17.0ZM-75.4,-9.0L-74.7,-8.6L-74.1,-8.2L-73.2,-8.2L-72.3,-8.6L-71.3,-9.0L-70.3,-9.1L-69.5,-9.3L-68.7,-9.5L-68.8,-10.2L-69.3,-10.7L-70.4,-10.4L-71.5,-10.3L-72.6,-10.0L-73.4,-9.3L-74.4,-9.0ZM-73.0,-12.1L-71.9,-11.4L-71.0,-11.9L-70.0,-12.3L-70.5,-13.1L-71.3,-12.6L-72.3,-12.5ZM-49.6,-25.1L-49.6,-24.0L-50.6,-23.6L-51.5,-22.8L-50.6,-22.0L-49.5,-21.4L-49.9,-20.2L-49.5,-19.1L-49.3,-18.0L-49.1,-17.2L-48.9,-18.2L-48.5,-19.1L-49.1,-20.3L-48.8,-21.5L-48.1,-21.8L-47.6,-22.4L-46.9,-22.9L-47.7,-22.5L-48.4,-23.1L-49.1,-23.6L-48.9,-24.4ZM-37.7,-26.4L-38.7,-25.7L-39.8,-26.3L-40.6,-25.5L-40.0,-24.5L-40.8,-24.1L-41.2,-23.3L-40.5,-22.5L-40.3,-21.4L-39.7,-20.9L-39.3,-21.6L-38.5,-21.8L-38.0,-22.4L-37.6,-23.0L-37.2,-23.9L-37.6,-24.9L-38.3,-25.6ZM-55.9,-21.7L-56.3,-20.5L-56.0,-19.3L-56.7,-18.5L-56.1,-17.5L-56.4,-16.7L-55.7,-17.2L-55.4,-18.0L-55.7,-19.1L-55.3,-20.1L-55.6,-20.9ZM-62.7,-13.9L-62.5,-13.2L-62.0,-12.6L-61.0,-12.8L-60.0,-12.5L-60.1,-13.4L-60.7,-13.8L-61.7,-13.6ZM-43.3,14.5L-42.7,15.5L-41.7,14.9L-42.2,14.0ZM29.5,-4.9L29.6,-5.8L29.2,-6.5L28.5,-7.0L28.3,-7.8L28.4,-6.6L28.8,-5.3ZM64.7,-58.2L63.8,-59.1L63.1,-58.2L63.7,-57.6ZM88.6,21.8L88.5,20.6L89.4,19.8L89.2,19.1L89.0,18.4L88.7,19.2L88.3,19.9L88.7,20.8ZM66.7,72.8L67.6,72.5L68.1,71.7L67.4,71.0L66.7,71.7ZM71.7,71.2L72.3,70.3L71.7,69.9L71.1,69.6L70.5,70.5L71.2,70.7Z" fill="#fff" stroke="#000" stroke-width="0.6" stroke-linejoin="round"/>
<path d="M4.7,19.0L5.2,19.6L5.5,20.4L6.2,21.0L6.4,20.3M5.3,22.0L6.0,21.6L6.5,21.3M6.0,23.2L6.6,22.8L6.8,22.2M7.3,21.2L6.4,21.0L6.5,20.1L5.6,19.5M6.9,18.9L7.3,17.9L8.0,17.9M15.9,10.3L15.4,9.6L15.0,9.0M14.1,12.7L13.7,11.9L13.5,11.3M-25.9,0.9L-24.7,0.7L-23.9,1.7L-23.0,1.8L-22.3,2.3L-21.5,2.8L-21.1,3.7L-20.5,4.4L-19.6,4.5M-19.9,1.6L-19.8,2.8L-18.6,2.6L-18.0,3.3L-17.2,3.7L-16.6,4.3L-15.9,4.9L-15.4,5.4L-14.9,6.0M-18.4,1.3L-17.9,2.4L-16.7,2.1L-16.2,3.0L-15.2,3.2L-13.7,3.0L-13.9,4.5M-25.8,3.6L-25.0,3.5L-24.2,3.8L-23.3,4.5M-24.5,1.3L-24.8,1.9L-24.8,2.6L-24.2,2.9L-23.9,3.6M-16.1,-0.3L-16.3,0.6L-17.2,0.6L-16.6,1.5L-15.6,2.2M-20.4,5.5L-19.9,4.8L-19.5,4.1L-19.3,3.1L-20.2,2.1M-17.2,6.4L-17.2,5.3L-18.2,5.1L-17.9,4.1M-21.1,-1.1L-20.1,-0.4L-20.7,0.4M-20.3,-1.6L-19.3,-1.4L-18.8,-0.7L-18.0,-0.8L-17.4,-0.2M-25.9,-0.9L-26.8,-0.9L-26.8,0.0L-27.0,0.9L-27.7,1.2L-28.1,2.0M-27.5,2.4L-28.6,3.0L-27.9,3.7M-28.0,-9.4L-27.2,-9.2L-26.4,-9.3L-25.6,-9.8L-25.6,-10.5L-25.8,-11.2M-26.0,-7.4L-25.9,-8.4L-25.2,-9.2M-31.4,7.8L-32.3,8.0L-32.9,7.3L-33.6,7.2L-34.1,6.6L-34.5,5.5L-35.5,5.9M-34.3,12.2L-34.7,11.5L-35.5,11.5L-35.7,10.6M-37.7,15.2L-36.8,14.6L-37.1,13.5L-37.8,12.6M-40.0,40.0L-39.6,39.2L-39.7,38.3M-39.4,31.4L-38.6,31.0L-37.8,31.5L-36.9,30.9M-33.3,24.9L-33.5,25.9L-32.8,26.5L-33.4,27.6M-15.6,35.0L-16.2,34.3L-16.8,33.6L-16.9,32.8L-17.6,32.3L-17.0,32.0L-16.5,31.6M-12.0,29.7L-12.5,28.5L-13.6,29.2L-14.4,28.8L-14.3,28.0M-9.2,25.2L-10.1,24.4M-6.5,19.4L-7.0,18.3L-7.3,17.3M-18.8,8.2L-19.1,9.3" fill="none" stroke="#000" stroke-width="0.6" stroke-linejoin="round"/>
<g fill="none" stroke="#000" stroke-opacity="0.07" stroke-width="0.5"><circle r="95.83"/><circle r="57.50"/><circle r="19.17"/><path d="M0.0,0.0L0.0,115.0"/><path d="M9.6,16.6L57.5,99.6"/><path d="M16.6,9.6L99.6,57.5"/><path d="M0.0,0.0L115.0,0.0"/><path d="M16.6,-9.6L99.6,-57.5"/><path d="M9.6,-16.6L57.5,-99.6"/><path d="M0.0,0.0L0.0,-115.0"/><path d="M-9.6,-16.6L-57.5,-99.6"/><path d="M-16.6,-9.6L-99.6,-57.5"/><path d="M0.0,0.0L-115.0,-0.0"/><path d="M-16.6,9.6L-99.6,57.5"/><path d="M-9.6,16.6L-57.5,99.6"/></g>
</g>
</g>
<g id="rim" clip-path="url(#ce)"><circle r="115.00" fill="none" stroke="#111" stroke-width="1.25"/></g>
</defs>
<g transform="translate(158.5,119.5)">
<g transform="scale(1.0000)"><use href="#base"/></g>
<g transform="scale(1.0000)"><use href="#rim"/></g>
<g stroke="#111" stroke-width="0.6"><circle cx="96.1" cy="-45.6" r="1.75" fill="#fee0d2"/><circle cx="2.2" cy="79.2" r="1.75" fill="#54278f"/><circle cx="-91.0" cy="16.4" r="1.75" fill="#54278f"/><circle cx="52.1" cy="87.9" r="1.75" fill="#3f007d"/><circle cx="101.1" cy="-42.8" r="1.75" fill="#e2735b"/><circle cx="102.8" cy="-43.9" r="1.75" fill="#54278f"/><circle cx="21.0" cy="64.5" r="1.75" fill="#c5c5e6"/><circle cx="-92.1" cy="8.8" r="1.75" fill="#3f007d"/><circle cx="-82.4" cy="24.1" r="1.75" fill="#54278f"/><circle cx="4.2" cy="80.2" r="1.75" fill="#7c70b6"/><circle cx="54.1" cy="67.0" r="1.75" fill="#fee0d2"/><circle cx="-105.8" cy="0.2" r="1.75" fill="#54278f"/><circle cx="-80.1" cy="-39.4" r="1.75" fill="#c5c5e6"/><circle cx="-92.6" cy="21.5" r="1.75" fill="#7c70b6"/><circle cx="83.4" cy="-72.2" r="1.75" fill="#54278f"/><circle cx="91.2" cy="-50.0" r="1.75" fill="#c5c5e6"/><circle cx="-72.0" cy="-46.1" r="1.75" fill="#7c70b6"/><circle cx="94.1" cy="-44.5" r="1.75" fill="#7c70b6"/><circle cx="10.9" cy="85.3" r="1.75" fill="#7c70b6"/><circle cx="-107.6" cy="-31.8" r="1.75" fill="#54278f"/><circle cx="1.2" cy="72.1" r="1.75" fill="#54278f"/><circle cx="73.3" cy="-50.8" r="1.75" fill="#7c70b6"/><circle cx="17.5" cy="69.1" r="1.75" fill="#7c70b6"/><circle cx="-96.1" cy="13.9" r="1.75" fill="#54278f"/><circle cx="69.7" cy="-22.0" r="1.75" fill="#c5c5e6"/><circle cx="12.4" cy="83.3" r="1.75" fill="#7c70b6"/><circle cx="-93.9" cy="-24.8" r="1.75" fill="#c5c5e6"/><circle cx="-66.9" cy="-42.5" r="1.75" fill="#54278f"/><circle cx="-91.0" cy="26.6" r="1.75" fill="#54278f"/><circle cx="23.4" cy="91.4" r="1.75" fill="#e2735b"/><circle cx="-91.0" cy="12.4" r="1.75" fill="#3f007d"/><circle cx="55.6" cy="56.3" r="1.75" fill="#fee0d2"/><circle cx="106.0" cy="-43.3" r="1.75" fill="#fee0d2"/><circle cx="-64.4" cy="-28.0" r="1.75" fill="#c5c5e6"/><circle cx="-110.9" cy="-10.5" r="1.75" fill="#c5c5e6"/><circle cx="-105.8" cy="8.8" r="1.75" fill="#54278f"/><circle cx="50.9" cy="34.0" r="1.75" fill="#c5c5e6"/><circle cx="95.3" cy="-43.7" r="1.75" fill="#f9b596"/><circle cx="70.2" cy="-78.8" r="1.75" fill="#54278f"/><circle cx="26.6" cy="77.2" r="1.75" fill="#c5c5e6"/><circle cx="-93.1" cy="4.2" r="1.75" fill="#7c70b6"/><circle cx="68.0" cy="-50.3" r="1.75" fill="#3f007d"/><circle cx="1.7" cy="69.1" r="1.75" fill="#7c70b6"/><circle cx="65.1" cy="-3.1" r="1.75" fill="#7c70b6"/><circle cx="22.6" cy="68.5" r="1.75" fill="#7c70b6"/><circle cx="63.3" cy="38.8" r="1.75" fill="#c5c5e6"/><circle cx="86.0" cy="-45.2" r="1.75" fill="#54278f"/><circle cx="9.3" cy="82.3" r="1.75" fill="#7c70b6"/><circle cx="92.5" cy="-52.8" r="1.75" fill="#7c70b6"/><circle cx="-100.2" cy="4.2" r="1.75" fill="#7c70b6"/><circle cx="88.5" cy="-34.5" r="1.75" fill="#3f007d"/><circle cx="44.9" cy="69.6" r="1.75" fill="#fee0d2"/><circle cx="-88.0" cy="29.7" r="1.75" fill="#54278f"/><circle cx="13.9" cy="79.7" r="1.75" fill="#c5c5e6"/><circle cx="-80.9" cy="-27.0" r="1.75" fill="#7c70b6"/><circle cx="13.9" cy="75.2" r="1.75" fill="#c5c5e6"/><circle cx="-91.8" cy="-24.6" r="1.75" fill="#fee0d2"/><circle cx="-87.5" cy="2.7" r="1.75" fill="#7c70b6"/><circle cx="-95.6" cy="22.0" r="1.75" fill="#7c70b6"/><circle cx="29.2" cy="67.5" r="1.75" fill="#7c70b6"/><circle cx="92.9" cy="-42.8" r="1.75" fill="#7c70b6"/><circle cx="-89.5" cy="28.6" r="1.75" fill="#7c70b6"/><circle cx="89.0" cy="-32.0" r="1.75" fill="#54278f"/><circle cx="24.6" cy="74.1" r="1.75" fill="#7c70b6"/><circle cx="87.3" cy="20.3" r="1.75" fill="#fee0d2"/><circle cx="-99.2" cy="-0.3" r="1.75" fill="#7c70b6"/><circle cx="67.7" cy="-45.9" r="1.75" fill="#c5c5e6"/><circle cx="99.1" cy="-46.8" r="1.75" fill="#54278f"/><circle cx="81.4" cy="-64.1" r="1.75" fill="#7c70b6"/><circle cx="-109.3" cy="-18.7" r="1.75" fill="#c5c5e6"/><circle cx="80.9" cy="-66.6" r="1.75" fill="#7c70b6"/><circle cx="11.9" cy="69.1" r="1.75" fill="#7c70b6"/><circle cx="84.2" cy="-44.8" r="1.75" fill="#54278f"/><circle cx="100.2" cy="-20.8" r="1.75" fill="#54278f"/><circle cx="-78.8" cy="26.4" r="1.75" fill="#c5c5e6"/><circle cx="16.5" cy="78.7" r="1.75" fill="#c5c5e6"/><circle cx="88.6" cy="-41.9" r="1.75" fill="#54278f"/><circle cx="88.0" cy="-40.1" r="1.75" fill="#c5c5e6"/><circle cx="-94.6" cy="8.3" r="1.75" fill="#7c70b6"/><circle cx="21.5" cy="71.6" r="1.75" fill="#7c70b6"/><circle cx="100.2" cy="-24.4" r="1.75" fill="#54278f"/><circle cx="92.4" cy="-38.1" r="1.75" fill="#c5c5e6"/><circle cx="-7.2" cy="68.0" r="1.75" fill="#54278f"/><circle cx="10.6" cy="57.1" r="1.75" fill="#c5c5e6"/><circle cx="42.9" cy="51.8" r="1.75" fill="#c5c5e6"/><circle cx="9.3" cy="71.1" r="1.75" fill="#fee0d2"/><circle cx="-69.9" cy="-20.9" r="1.75" fill="#7c70b6"/><circle cx="66.4" cy="61.2" r="1.75" fill="#54278f"/><circle cx="-92.1" cy="5.8" r="1.75" fill="#7c70b6"/><circle cx="-90.0" cy="5.8" r="1.75" fill="#3f007d"/><circle cx="93.0" cy="-45.2" r="1.75" fill="#f9b596"/><circle cx="87.5" cy="-50.8" r="1.75" fill="#54278f"/><circle cx="17.0" cy="84.3" r="1.75" fill="#f9b596"/><circle cx="13.9" cy="64.5" r="1.75" fill="#54278f"/><circle cx="81.9" cy="-70.7" r="1.75" fill="#54278f"/><circle cx="96.4" cy="-57.3" r="1.75" fill="#fee0d2"/><circle cx="72.2" cy="61.5" r="1.75" fill="#3f007d"/><circle cx="5.8" cy="77.7" r="1.75" fill="#7c70b6"/><circle cx="70.7" cy="23.9" r="1.75" fill="#7c70b6"/><circle cx="14.9" cy="76.7" r="1.75" fill="#7c70b6"/><circle cx="80.9" cy="-60.5" r="1.75" fill="#7c70b6"/><circle cx="77.3" cy="-73.2" r="1.75" fill="#3f007d"/><circle cx="18.0" cy="75.2" r="1.75" fill="#fee0d2"/><circle cx="33.2" cy="85.8" r="1.75" fill="#7c70b6"/><circle cx="74.8" cy="13.0" r="1.75" fill="#c5c5e6"/><circle cx="60.0" cy="36.1" r="1.75" fill="#c5c5e6"/><circle cx="95.9" cy="-52.8" r="1.75" fill="#54278f"/><circle cx="-93.6" cy="-1.4" r="1.75" fill="#54278f"/><circle cx="-1.4" cy="86.9" r="1.75" fill="#3f007d"/><circle cx="97.0" cy="-45.7" r="1.75" fill="#7c70b6"/><circle cx="5.3" cy="72.6" r="1.75" fill="#7c70b6"/><circle cx="98.9" cy="-47.6" r="1.75" fill="#7c70b6"/><circle cx="100.4" cy="-45.5" r="1.75" fill="#7c70b6"/><circle cx="80.4" cy="-50.8" r="1.75" fill="#54278f"/><circle cx="46.5" cy="66.0" r="1.75" fill="#fee0d2"/><circle cx="-2.9" cy="82.3" r="1.75" fill="#7c70b6"/><circle cx="-99.2" cy="24.1" r="1.75" fill="#7c70b6"/><circle cx="6.8" cy="84.3" r="1.75" fill="#7c70b6"/><circle cx="-0.3" cy="76.2" r="1.75" fill="#7c70b6"/><circle cx="67.1" cy="-79.0" r="1.75" fill="#54278f"/><circle cx="5.3" cy="87.4" r="1.75" fill="#54278f"/><circle cx="-0.6" cy="72.0" r="1.75" fill="#54278f"/><circle cx="-94.6" cy="16.4" r="1.75" fill="#7c70b6"/><circle cx="92.4" cy="-46.2" r="1.75" fill="#c5c5e6"/><circle cx="58.7" cy="82.8" r="1.75" fill="#3f007d"/><circle cx="-3.5" cy="70.2" r="1.75" fill="#7c70b6"/><circle cx="104.6" cy="-41.0" r="1.75" fill="#7c70b6"/><circle cx="62.6" cy="-77.3" r="1.75" fill="#7c70b6"/><circle cx="41.9" cy="54.8" r="1.75" fill="#c5c5e6"/><circle cx="-88.5" cy="11.4" r="1.75" fill="#3f007d"/><circle cx="100.5" cy="-48.0" r="1.75" fill="#c5c5e6"/><circle cx="-90.5" cy="23.1" r="1.75" fill="#7c70b6"/><circle cx="30.2" cy="81.3" r="1.75" fill="#c5c5e6"/><circle cx="7.3" cy="69.6" r="1.75" fill="#7c70b6"/><circle cx="80.7" cy="-50.6" r="1.75" fill="#54278f"/><circle cx="103.4" cy="-41.6" r="1.75" fill="#54278f"/><circle cx="-101.2" cy="-30.1" r="1.75" fill="#7c70b6"/><circle cx="10.9" cy="80.2" r="1.75" fill="#c5c5e6"/><circle cx="53.6" cy="84.3" r="1.75" fill="#f9b596"/><circle cx="97.9" cy="-48.6" r="1.75" fill="#e2735b"/><circle cx="66.6" cy="8.3" r="1.75" fill="#c5c5e6"/><circle cx="47.0" cy="53.8" r="1.75" fill="#c5c5e6"/><circle cx="39.9" cy="51.8" r="1.75" fill="#c5c5e6"/><circle cx="-109.3" cy="4.7" r="1.75" fill="#54278f"/><circle cx="81.9" cy="-48.6" r="1.75" fill="#c5c5e6"/><circle cx="-92.6" cy="26.1" r="1.75" fill="#54278f"/><circle cx="52.6" cy="63.0" r="1.75" fill="#7c70b6"/><circle cx="12.4" cy="73.6" r="1.75" fill="#c5c5e6"/><circle cx="14.9" cy="70.1" r="1.75" fill="#c5c5e6"/><circle cx="64.1" cy="19.3" r="1.75" fill="#7c70b6"/><circle cx="79.4" cy="-56.9" r="1.75" fill="#54278f"/><circle cx="83.6" cy="-47.3" r="1.75" fill="#54278f"/><circle cx="9.8" cy="75.2" r="1.75" fill="#fee0d2"/><circle cx="35.8" cy="83.3" r="1.75" fill="#c5c5e6"/><circle cx="-98.2" cy="12.4" r="1.75" fill="#54278f"/><circle cx="-93.6" cy="11.4" r="1.75" fill="#54278f"/><circle cx="38.3" cy="65.5" r="1.75" fill="#c5c5e6"/><circle cx="95.3" cy="-41.0" r="1.75" fill="#fee0d2"/><circle cx="70.7" cy="-52.9" r="1.75" fill="#54278f"/><circle cx="102.4" cy="-45.5" r="1.75" fill="#54278f"/><circle cx="-73.5" cy="-41.0" r="1.75" fill="#c5c5e6"/><circle cx="-96.1" cy="-25.0" r="1.75" fill="#fee0d2"/><circle cx="88.0" cy="-37.5" r="1.75" fill="#7c70b6"/><circle cx="-97.1" cy="19.0" r="1.75" fill="#c5c5e6"/><circle cx="99.6" cy="-40.1" r="1.75" fill="#c5c5e6"/><circle cx="27.6" cy="65.5" r="1.75" fill="#c5c5e6"/><circle cx="90.0" cy="29.2" r="1.75" fill="#fee0d2"/><circle cx="78.3" cy="-48.8" r="1.75" fill="#3f007d"/><circle cx="-84.4" cy="-48.1" r="1.75" fill="#fee0d2"/><circle cx="57.2" cy="64.0" r="1.75" fill="#3f007d"/><circle cx="52.1" cy="80.8" r="1.75" fill="#fee0d2"/><circle cx="98.2" cy="-53.5" r="1.75" fill="#7c70b6"/><circle cx="-96.6" cy="3.2" r="1.75" fill="#7c70b6"/><circle cx="-103.2" cy="-10.7" r="1.75" fill="#c5c5e6"/><circle cx="101.7" cy="-52.1" r="1.75" fill="#c5c5e6"/><circle cx="23.6" cy="51.8" r="1.75" fill="#c5c5e6"/><circle cx="-91.5" cy="1.7" r="1.75" fill="#c5c5e6"/><circle cx="-65.6" cy="-42.3" r="1.75" fill="#3f007d"/><circle cx="90.0" cy="-48.9" r="1.75" fill="#54278f"/><circle cx="85.5" cy="-52.3" r="1.75" fill="#7c70b6"/><circle cx="96.4" cy="-49.4" r="1.75" fill="#c5c5e6"/><circle cx="38.3" cy="78.7" r="1.75" fill="#fee0d2"/><circle cx="98.2" cy="-52.2" r="1.75" fill="#c5c5e6"/><circle cx="-104.3" cy="-13.9" r="1.75" fill="#7c70b6"/><circle cx="100.6" cy="-42.5" r="1.75" fill="#c5c5e6"/><circle cx="86.3" cy="68.3" r="1.75" fill="#fee0d2"/><circle cx="75.3" cy="-74.7" r="1.75" fill="#54278f"/><circle cx="87.5" cy="-37.1" r="1.75" fill="#3f007d"/><circle cx="26.1" cy="72.1" r="1.75" fill="#7c70b6"/><circle cx="98.9" cy="-49.2" r="1.75" fill="#54278f"/><circle cx="7.3" cy="74.1" r="1.75" fill="#7c70b6"/><circle cx="-74.2" cy="-48.1" r="1.75" fill="#54278f"/><circle cx="79.4" cy="-72.7" r="1.75" fill="#54278f"/><circle cx="44.9" cy="46.7" r="1.75" fill="#c5c5e6"/><circle cx="39.3" cy="72.1" r="1.75" fill="#c5c5e6"/><circle cx="101.4" cy="-40.4" r="1.75" fill="#54278f"/><circle cx="7.3" cy="81.3" r="1.75" fill="#7c70b6"/><circle cx="54.1" cy="45.1" r="1.75" fill="#c5c5e6"/><circle cx="102.2" cy="-46.2" r="1.75" fill="#fee0d2"/><circle cx="-87.5" cy="25.6" r="1.75" fill="#54278f"/><circle cx="31.2" cy="70.6" r="1.75" fill="#7c70b6"/><circle cx="99.9" cy="-45.1" r="1.75" fill="#f9b596"/><circle cx="-4.6" cy="65.1" r="1.75" fill="#7c70b6"/><circle cx="23.6" cy="63.5" r="1.75" fill="#7c70b6"/><circle cx="2.7" cy="93.5" r="1.75" fill="#f9b596"/><circle cx="99.6" cy="-57.3" r="1.75" fill="#c5c5e6"/><circle cx="-104.1" cy="-39.8" r="1.75" fill="#54278f"/><circle cx="-100.2" cy="17.5" r="1.75" fill="#7c70b6"/><circle cx="-90.0" cy="13.9" r="1.75" fill="#54278f"/><circle cx="96.3" cy="-53.9" r="1.75" fill="#7c70b6"/><circle cx="8.8" cy="85.8" r="1.75" fill="#7c70b6"/><circle cx="98.2" cy="-42.2" r="1.75" fill="#c5c5e6"/><circle cx="-88.1" cy="-35.4" r="1.75" fill="#7c70b6"/><circle cx="102.5" cy="-39.3" r="1.75" fill="#54278f"/><circle cx="42.4" cy="72.1" r="1.75" fill="#3f007d"/><circle cx="103.5" cy="31.5" r="1.75" fill="#c5c5e6"/><circle cx="88.8" cy="38.1" r="1.75" fill="#fee0d2"/><circle cx="-113.9" cy="16.9" r="1.75" fill="#7c70b6"/><circle cx="-67.3" cy="-37.9" r="1.75" fill="#7c70b6"/><circle cx="-111.4" cy="7.3" r="1.75" fill="#7c70b6"/><circle cx="-99.2" cy="7.3" r="1.75" fill="#54278f"/><circle cx="-8.6" cy="70.5" r="1.75" fill="#7c70b6"/><circle cx="86.8" cy="-44.8" r="1.75" fill="#54278f"/><circle cx="-94.1" cy="19.5" r="1.75" fill="#3f007d"/><circle cx="2.2" cy="88.9" r="1.75" fill="#7c70b6"/><circle cx="44.9" cy="61.9" r="1.75" fill="#c5c5e6"/><circle cx="109.4" cy="-27.9" r="1.75" fill="#54278f"/><circle cx="70.0" cy="-74.7" r="1.75" fill="#3f007d"/><circle cx="110.9" cy="26.1" r="1.75" fill="#54278f"/><circle cx="12.9" cy="60.4" r="1.75" fill="#54278f"/><circle cx="70.0" cy="7.9" r="1.75" fill="#fee0d2"/><circle cx="94.4" cy="-39.8" r="1.75" fill="#c5c5e6"/><circle cx="56.0" cy="38.1" r="1.75" fill="#c5c5e6"/><circle cx="-88.0" cy="18.0" r="1.75" fill="#7c70b6"/><circle cx="25.6" cy="68.5" r="1.75" fill="#c5c5e6"/><circle cx="-14.1" cy="92.7" r="1.75" fill="#fee0d2"/><circle cx="101.1" cy="-50.3" r="1.75" fill="#7c70b6"/><circle cx="-110.4" cy="9.8" r="1.75" fill="#7c70b6"/><circle cx="101.2" cy="-34.5" r="1.75" fill="#c5c5e6"/><circle cx="90.3" cy="-48.3" r="1.75" fill="#7c70b6"/><circle cx="58.8" cy="32.0" r="1.75" fill="#c5c5e6"/><circle cx="81.2" cy="65.3" r="1.75" fill="#c5c5e6"/><circle cx="-3.5" cy="73.8" r="1.75" fill="#54278f"/><circle cx="-0.3" cy="74.5" r="1.75" fill="#54278f"/><circle cx="95.9" cy="-43.0" r="1.75" fill="#c5c5e6"/><circle cx="46.0" cy="82.3" r="1.75" fill="#54278f"/><circle cx="81.9" cy="-48.3" r="1.75" fill="#3f007d"/><circle cx="97.3" cy="-36.1" r="1.75" fill="#7c70b6"/><circle cx="4.2" cy="68.0" r="1.75" fill="#7c70b6"/><circle cx="-95.6" cy="5.2" r="1.75" fill="#7c70b6"/><circle cx="-69.7" cy="-44.3" r="1.75" fill="#7c70b6"/><circle cx="8.8" cy="78.2" r="1.75" fill="#54278f"/><circle cx="94.3" cy="-40.2" r="1.75" fill="#7c70b6"/><circle cx="8.3" cy="89.4" r="1.75" fill="#b81d2f"/><circle cx="-107.8" cy="11.4" r="1.75" fill="#c5c5e6"/><circle cx="49.0" cy="63.5" r="1.75" fill="#c5c5e6"/><circle cx="56.0" cy="-70.2" r="1.75" fill="#7c70b6"/><circle cx="-68.7" cy="-30.5" r="1.75" fill="#7c70b6"/><circle cx="53.1" cy="51.3" r="1.75" fill="#c5c5e6"/><circle cx="8.3" cy="67.5" r="1.75" fill="#c5c5e6"/><circle cx="23.1" cy="76.7" r="1.75" fill="#7c70b6"/><circle cx="89.3" cy="29.4" r="1.75" fill="#c5c5e6"/><circle cx="19.5" cy="90.4" r="1.75" fill="#7c70b6"/><circle cx="97.3" cy="-55.5" r="1.75" fill="#c5c5e6"/><circle cx="-110.9" cy="-0.3" r="1.75" fill="#7c70b6"/><circle cx="72.7" cy="-76.3" r="1.75" fill="#3f007d"/><circle cx="19.5" cy="68.0" r="1.75" fill="#7c70b6"/><circle cx="-95.9" cy="-8.2" r="1.75" fill="#7c70b6"/><circle cx="94.6" cy="-48.2" r="1.75" fill="#7c70b6"/><circle cx="67.1" cy="68.6" r="1.75" fill="#f9b596"/><circle cx="90.3" cy="-44.2" r="1.75" fill="#c5c5e6"/><circle cx="46.5" cy="57.4" r="1.75" fill="#c5c5e6"/><circle cx="49.5" cy="43.1" r="1.75" fill="#c5c5e6"/><circle cx="96.7" cy="-51.5" r="1.75" fill="#54278f"/><circle cx="-103.8" cy="5.8" r="1.75" fill="#54278f"/><circle cx="-72.7" cy="-37.4" r="1.75" fill="#c5c5e6"/><circle cx="85.7" cy="28.9" r="1.75" fill="#c5c5e6"/><circle cx="83.9" cy="-63.0" r="1.75" fill="#7c70b6"/><circle cx="97.8" cy="-47.3" r="1.75" fill="#c5c5e6"/><circle cx="89.2" cy="-51.8" r="1.75" fill="#7c70b6"/><circle cx="-83.4" cy="21.0" r="1.75" fill="#54278f"/><circle cx="100.9" cy="-48.8" r="1.75" fill="#54278f"/><circle cx="82.4" cy="-51.3" r="1.75" fill="#7c70b6"/><circle cx="98.8" cy="-37.8" r="1.75" fill="#54278f"/><circle cx="94.8" cy="-48.2" r="1.75" fill="#7c70b6"/><circle cx="21.5" cy="74.1" r="1.75" fill="#c5c5e6"/><circle cx="88.8" cy="52.4" r="1.75" fill="#fee0d2"/><circle cx="52.1" cy="40.1" r="1.75" fill="#c5c5e6"/><circle cx="56.2" cy="-56.4" r="1.75" fill="#c5c5e6"/><circle cx="108.9" cy="-31.0" r="1.75" fill="#7c70b6"/><circle cx="94.7" cy="-54.7" r="1.75" fill="#7c70b6"/><circle cx="-114.9" cy="9.3" r="1.75" fill="#54278f"/><circle cx="3.2" cy="75.7" r="1.75" fill="#54278f"/><circle cx="91.5" cy="-39.8" r="1.75" fill="#54278f"/><circle cx="11.9" cy="77.7" r="1.75" fill="#c5c5e6"/><circle cx="14.4" cy="83.8" r="1.75" fill="#54278f"/><circle cx="43.4" cy="68.0" r="1.75" fill="#c5c5e6"/><circle cx="65.1" cy="65.8" r="1.75" fill="#fee0d2"/><circle cx="65.6" cy="-75.8" r="1.75" fill="#3f007d"/><circle cx="23.1" cy="81.8" r="1.75" fill="#7c70b6"/><circle cx="91.9" cy="35.8" r="1.75" fill="#f9b596"/><circle cx="77.1" cy="-23.4" r="1.75" fill="#fee0d2"/><circle cx="62.9" cy="-53.6" r="1.75" fill="#3f007d"/><circle cx="-4.9" cy="89.4" r="1.75" fill="#fee0d2"/><circle cx="105.4" cy="-46.0" r="1.75" fill="#c5c5e6"/><circle cx="92.4" cy="-52.1" r="1.75" fill="#7c70b6"/><circle cx="-114.6" cy="-2.4" r="1.75" fill="#c5c5e6"/><circle cx="87.0" cy="-42.2" r="1.75" fill="#7c70b6"/><circle cx="-76.8" cy="-9.5" r="1.75" fill="#7c70b6"/><circle cx="46.3" cy="84.0" r="1.75" fill="#7c70b6"/><circle cx="-2.1" cy="67.6" r="1.75" fill="#54278f"/><circle cx="95.9" cy="-38.4" r="1.75" fill="#7c70b6"/><circle cx="99.3" cy="-50.3" r="1.75" fill="#54278f"/><circle cx="-95.6" cy="0.7" r="1.75" fill="#7c70b6"/><circle cx="-90.0" cy="20.0" r="1.75" fill="#7c70b6"/><circle cx="86.0" cy="-52.3" r="1.75" fill="#54278f"/><circle cx="16.5" cy="86.9" r="1.75" fill="#7c70b6"/><circle cx="82.8" cy="-50.9" r="1.75" fill="#c5c5e6"/><circle cx="-97.1" cy="9.3" r="1.75" fill="#54278f"/><circle cx="101.7" cy="-31.5" r="1.75" fill="#3f007d"/><circle cx="-98.7" cy="21.5" r="1.75" fill="#7c70b6"/><circle cx="95.2" cy="-49.0" r="1.75" fill="#c5c5e6"/><circle cx="4.2" cy="84.8" r="1.75" fill="#7c70b6"/><circle cx="-93.1" cy="14.4" r="1.75" fill="#54278f"/><circle cx="94.4" cy="-56.7" r="1.75" fill="#c5c5e6"/><circle cx="-106.8" cy="-16.1" r="1.75" fill="#7c70b6"/><circle cx="28.7" cy="49.2" r="1.75" fill="#7c70b6"/><circle cx="-108.8" cy="-13.6" r="1.75" fill="#7c70b6"/><circle cx="18.0" cy="78.2" r="1.75" fill="#7c70b6"/><circle cx="83.6" cy="-47.4" r="1.75" fill="#54278f"/><circle cx="93.5" cy="-48.9" r="1.75" fill="#54278f"/><circle cx="-106.3" cy="-4.9" r="1.75" fill="#54278f"/><circle cx="97.8" cy="-43.5" r="1.75" fill="#54278f"/><circle cx="94.1" cy="-51.5" r="1.75" fill="#c5c5e6"/><circle cx="95.9" cy="-47.4" r="1.75" fill="#7c70b6"/><circle cx="25.6" cy="57.4" r="1.75" fill="#c5c5e6"/><circle cx="-89.5" cy="9.3" r="1.75" fill="#3f007d"/><circle cx="95.3" cy="-53.5" r="1.75" fill="#fee0d2"/><circle cx="-110.9" cy="-7.5" r="1.75" fill="#54278f"/><circle cx="87.3" cy="33.0" r="1.75" fill="#fee0d2"/><circle cx="98.2" cy="-59.3" r="1.75" fill="#e2735b"/><circle cx="-97.6" cy="-8.0" r="1.75" fill="#7c70b6"/><circle cx="15.9" cy="73.1" r="1.75" fill="#fee0d2"/><circle cx="-114.6" cy="2.2" r="1.75" fill="#7c70b6"/><circle cx="87.0" cy="24.2" r="1.75" fill="#c5c5e6"/><circle cx="55.2" cy="31.3" r="1.75" fill="#c5c5e6"/><circle cx="-109.9" cy="12.4" r="1.75" fill="#c5c5e6"/><circle cx="-72.0" cy="-42.0" r="1.75" fill="#c5c5e6"/><circle cx="18.0" cy="55.8" r="1.75" fill="#54278f"/><circle cx="77.1" cy="-50.8" r="1.75" fill="#54278f"/><circle cx="-115.5" cy="-8.2" r="1.75" fill="#c5c5e6"/><circle cx="104.0" cy="-48.6" r="1.75" fill="#f9b596"/><circle cx="48.0" cy="72.1" r="1.75" fill="#fee0d2"/><circle cx="-86.7" cy="-5.1" r="1.75" fill="#7c70b6"/><circle cx="70.2" cy="-18.3" r="1.75" fill="#7c70b6"/><circle cx="-114.4" cy="5.8" r="1.75" fill="#c5c5e6"/><circle cx="-112.9" cy="-15.1" r="1.75" fill="#c5c5e6"/><circle cx="88.3" cy="-48.6" r="1.75" fill="#54278f"/><circle cx="18.5" cy="72.1" r="1.75" fill="#c5c5e6"/><circle cx="-88.0" cy="22.0" r="1.75" fill="#7c70b6"/><circle cx="36.8" cy="87.4" r="1.75" fill="#fee0d2"/></g>
</g>
<g transform="translate(509.3,119.6)">
<g transform="scale(1.0000)"><use href="#base"/></g>
<g transform="scale(1.0000)"><use href="#rim"/></g>
<g stroke="#111" stroke-width="0.6"><circle cx="96.1" cy="-45.6" r="1.75" fill="#f9b596"/><circle cx="2.2" cy="79.2" r="1.75" fill="#e2735b"/><circle cx="-91.0" cy="16.4" r="1.75" fill="#fee0d2"/><circle cx="52.1" cy="87.9" r="1.75" fill="#b81d2f"/><circle cx="101.1" cy="-42.8" r="1.75" fill="#b81d2f"/><circle cx="102.8" cy="-43.9" r="1.75" fill="#f9b596"/><circle cx="21.0" cy="64.5" r="1.75" fill="#f9b596"/><circle cx="-92.1" cy="8.8" r="1.75" fill="#f9b596"/><circle cx="-82.4" cy="24.1" r="1.75" fill="#f9b596"/><circle cx="4.2" cy="80.2" r="1.75" fill="#f9b596"/><circle cx="54.1" cy="67.0" r="1.75" fill="#b81d2f"/><circle cx="-105.8" cy="0.2" r="1.75" fill="#fee0d2"/><circle cx="-80.1" cy="-39.4" r="1.75" fill="#b81d2f"/><circle cx="-92.6" cy="21.5" r="1.75" fill="#f9b596"/><circle cx="83.4" cy="-72.2" r="1.75" fill="#c5c5e6"/><circle cx="91.2" cy="-50.0" r="1.75" fill="#fee0d2"/><circle cx="-72.0" cy="-46.1" r="1.75" fill="#fee0d2"/><circle cx="94.1" cy="-44.5" r="1.75" fill="#b81d2f"/><circle cx="10.9" cy="85.3" r="1.75" fill="#f9b596"/><circle cx="-107.6" cy="-31.8" r="1.75" fill="#fee0d2"/><circle cx="1.2" cy="72.1" r="1.75" fill="#f9b596"/><circle cx="73.3" cy="-50.8" r="1.75" fill="#fee0d2"/><circle cx="17.5" cy="69.1" r="1.75" fill="#fee0d2"/><circle cx="-96.1" cy="13.9" r="1.75" fill="#f9b596"/><circle cx="69.7" cy="-22.0" r="1.75" fill="#fee0d2"/><circle cx="12.4" cy="83.3" r="1.75" fill="#fee0d2"/><circle cx="-93.9" cy="-24.8" r="1.75" fill="#b81d2f"/><circle cx="-66.9" cy="-42.5" r="1.75" fill="#c5c5e6"/><circle cx="-91.0" cy="26.6" r="1.75" fill="#f9b596"/><circle cx="23.4" cy="91.4" r="1.75" fill="#7c70b6"/><circle cx="-91.0" cy="12.4" r="1.75" fill="#f9b596"/><circle cx="55.6" cy="56.3" r="1.75" fill="#fee0d2"/><circle cx="106.0" cy="-43.3" r="1.75" fill="#b81d2f"/><circle cx="-64.4" cy="-28.0" r="1.75" fill="#f9b596"/><circle cx="-110.9" cy="-10.5" r="1.75" fill="#e2735b"/><circle cx="-105.8" cy="8.8" r="1.75" fill="#fee0d2"/><circle cx="50.9" cy="34.0" r="1.75" fill="#f9b596"/><circle cx="95.3" cy="-43.7" r="1.75" fill="#f9b596"/><circle cx="70.2" cy="-78.8" r="1.75" fill="#fee0d2"/><circle cx="26.6" cy="77.2" r="1.75" fill="#f9b596"/><circle cx="-93.1" cy="4.2" r="1.75" fill="#e2735b"/><circle cx="68.0" cy="-50.3" r="1.75" fill="#c5c5e6"/><circle cx="1.7" cy="69.1" r="1.75" fill="#e2735b"/><circle cx="65.1" cy="-3.1" r="1.75" fill="#f9b596"/><circle cx="22.6" cy="68.5" r="1.75" fill="#c5c5e6"/><circle cx="63.3" cy="38.8" r="1.75" fill="#f9b596"/><circle cx="86.0" cy="-45.2" r="1.75" fill="#c5c5e6"/><circle cx="9.3" cy="82.3" r="1.75" fill="#f9b596"/><circle cx="92.5" cy="-52.8" r="1.75" fill="#e2735b"/><circle cx="-100.2" cy="4.2" r="1.75" fill="#fee0d2"/><circle cx="88.5" cy="-34.5" r="1.75" fill="#fee0d2"/><circle cx="44.9" cy="69.6" r="1.75" fill="#e2735b"/><circle cx="-88.0" cy="29.7" r="1.75" fill="#f9b596"/><circle cx="13.9" cy="79.7" r="1.75" fill="#fee0d2"/><circle cx="-80.9" cy="-27.0" r="1.75" fill="#e2735b"/><circle cx="13.9" cy="75.2" r="1.75" fill="#fee0d2"/><circle cx="-91.8" cy="-24.6" r="1.75" fill="#e2735b"/><circle cx="-87.5" cy="2.7" r="1.75" fill="#f9b596"/><circle cx="-95.6" cy="22.0" r="1.75" fill="#f9b596"/><circle cx="29.2" cy="67.5" r="1.75" fill="#fee0d2"/><circle cx="92.9" cy="-42.8" r="1.75" fill="#fee0d2"/><circle cx="-89.5" cy="28.6" r="1.75" fill="#f9b596"/><circle cx="89.0" cy="-32.0" r="1.75" fill="#c5c5e6"/><circle cx="24.6" cy="74.1" r="1.75" fill="#f9b596"/><circle cx="87.3" cy="20.3" r="1.75" fill="#b81d2f"/><circle cx="-99.2" cy="-0.3" r="1.75" fill="#fee0d2"/><circle cx="67.7" cy="-45.9" r="1.75" fill="#fee0d2"/><circle cx="99.1" cy="-46.8" r="1.75" fill="#fee0d2"/><circle cx="81.4" cy="-64.1" r="1.75" fill="#c5c5e6"/><circle cx="-109.3" cy="-18.7" r="1.75" fill="#f9b596"/><circle cx="80.9" cy="-66.6" r="1.75" fill="#c5c5e6"/><circle cx="11.9" cy="69.1" r="1.75" fill="#f9b596"/><circle cx="84.2" cy="-44.8" r="1.75" fill="#fee0d2"/><circle cx="100.2" cy="-20.8" r="1.75" fill="#f9b596"/><circle cx="-78.8" cy="26.4" r="1.75" fill="#f9b596"/><circle cx="16.5" cy="78.7" r="1.75" fill="#fee0d2"/><circle cx="88.6" cy="-41.9" r="1.75" fill="#fee0d2"/><circle cx="88.0" cy="-40.1" r="1.75" fill="#fee0d2"/><circle cx="-94.6" cy="8.3" r="1.75" fill="#f9b596"/><circle cx="21.5" cy="71.6" r="1.75" fill="#f9b596"/><circle cx="100.2" cy="-24.4" r="1.75" fill="#c5c5e6"/><circle cx="92.4" cy="-38.1" r="1.75" fill="#f9b596"/><circle cx="-7.2" cy="68.0" r="1.75" fill="#e2735b"/><circle cx="10.6" cy="57.1" r="1.75" fill="#e2735b"/><circle cx="42.9" cy="51.8" r="1.75" fill="#fee0d2"/><circle cx="9.3" cy="71.1" r="1.75" fill="#fee0d2"/><circle cx="-69.9" cy="-20.9" r="1.75" fill="#fee0d2"/><circle cx="66.4" cy="61.2" r="1.75" fill="#b81d2f"/><circle cx="-92.1" cy="5.8" r="1.75" fill="#f9b596"/><circle cx="-90.0" cy="5.8" r="1.75" fill="#b81d2f"/><circle cx="93.0" cy="-45.2" r="1.75" fill="#f9b596"/><circle cx="87.5" cy="-50.8" r="1.75" fill="#fee0d2"/><circle cx="17.0" cy="84.3" r="1.75" fill="#f9b596"/><circle cx="13.9" cy="64.5" r="1.75" fill="#e2735b"/><circle cx="81.9" cy="-70.7" r="1.75" fill="#f9b596"/><circle cx="96.4" cy="-57.3" r="1.75" fill="#f9b596"/><circle cx="72.2" cy="61.5" r="1.75" fill="#b81d2f"/><circle cx="5.8" cy="77.7" r="1.75" fill="#fee0d2"/><circle cx="70.7" cy="23.9" r="1.75" fill="#c5c5e6"/><circle cx="14.9" cy="76.7" r="1.75" fill="#fee0d2"/><circle cx="80.9" cy="-60.5" r="1.75" fill="#fee0d2"/><circle cx="77.3" cy="-73.2" r="1.75" fill="#f9b596"/><circle cx="18.0" cy="75.2" r="1.75" fill="#e2735b"/><circle cx="33.2" cy="85.8" r="1.75" fill="#e2735b"/><circle cx="74.8" cy="13.0" r="1.75" fill="#c5c5e6"/><circle cx="60.0" cy="36.1" r="1.75" fill="#fee0d2"/><circle cx="95.9" cy="-52.8" r="1.75" fill="#fee0d2"/><circle cx="-93.6" cy="-1.4" r="1.75" fill="#e2735b"/><circle cx="-1.4" cy="86.9" r="1.75" fill="#7c70b6"/><circle cx="97.0" cy="-45.7" r="1.75" fill="#b81d2f"/><circle cx="5.3" cy="72.6" r="1.75" fill="#f9b596"/><circle cx="98.9" cy="-47.6" r="1.75" fill="#e2735b"/><circle cx="100.4" cy="-45.5" r="1.75" fill="#fee0d2"/><circle cx="80.4" cy="-50.8" r="1.75" fill="#fee0d2"/><circle cx="46.5" cy="66.0" r="1.75" fill="#fee0d2"/><circle cx="-2.9" cy="82.3" r="1.75" fill="#c5c5e6"/><circle cx="-99.2" cy="24.1" r="1.75" fill="#fee0d2"/><circle cx="6.8" cy="84.3" r="1.75" fill="#f9b596"/><circle cx="-0.3" cy="76.2" r="1.75" fill="#fee0d2"/><circle cx="67.1" cy="-79.0" r="1.75" fill="#fee0d2"/><circle cx="5.3" cy="87.4" r="1.75" fill="#b81d2f"/><circle cx="-0.6" cy="72.0" r="1.75" fill="#f9b596"/><circle cx="-94.6" cy="16.4" r="1.75" fill="#b81d2f"/><circle cx="92.4" cy="-46.2" r="1.75" fill="#b81d2f"/><circle cx="58.7" cy="82.8" r="1.75" fill="#e2735b"/><circle cx="-3.5" cy="70.2" r="1.75" fill="#b81d2f"/><circle cx="104.6" cy="-41.0" r="1.75" fill="#e2735b"/><circle cx="62.6" cy="-77.3" r="1.75" fill="#f9b596"/><circle cx="41.9" cy="54.8" r="1.75" fill="#f9b596"/><circle cx="-88.5" cy="11.4" r="1.75" fill="#fee0d2"/><circle cx="100.5" cy="-48.0" r="1.75" fill="#f9b596"/><circle cx="-90.5" cy="23.1" r="1.75" fill="#e2735b"/><circle cx="30.2" cy="81.3" r="1.75" fill="#f9b596"/><circle cx="7.3" cy="69.6" r="1.75" fill="#f9b596"/><circle cx="80.7" cy="-50.6" r="1.75" fill="#fee0d2"/><circle cx="103.4" cy="-41.6" r="1.75" fill="#f9b596"/><circle cx="-101.2" cy="-30.1" r="1.75" fill="#f9b596"/><circle cx="10.9" cy="80.2" r="1.75" fill="#fee0d2"/><circle cx="53.6" cy="84.3" r="1.75" fill="#b81d2f"/><circle cx="97.9" cy="-48.6" r="1.75" fill="#b81d2f"/><circle cx="66.6" cy="8.3" r="1.75" fill="#fee0d2"/><circle cx="47.0" cy="53.8" r="1.75" fill="#fee0d2"/><circle cx="39.9" cy="51.8" r="1.75" fill="#e2735b"/><circle cx="-109.3" cy="4.7" r="1.75" fill="#f9b596"/><circle cx="81.9" cy="-48.6" r="1.75" fill="#f9b596"/><circle cx="-92.6" cy="26.1" r="1.75" fill="#f9b596"/><circle cx="52.6" cy="63.0" r="1.75" fill="#e2735b"/><circle cx="12.4" cy="73.6" r="1.75" fill="#e2735b"/><circle cx="14.9" cy="70.1" r="1.75" fill="#c5c5e6"/><circle cx="64.1" cy="19.3" r="1.75" fill="#f9b596"/><circle cx="79.4" cy="-56.9" r="1.75" fill="#c5c5e6"/><circle cx="83.6" cy="-47.3" r="1.75" fill="#fee0d2"/><circle cx="9.8" cy="75.2" r="1.75" fill="#f9b596"/><circle cx="35.8" cy="83.3" r="1.75" fill="#b81d2f"/><circle cx="-98.2" cy="12.4" r="1.75" fill="#e2735b"/><circle cx="-93.6" cy="11.4" r="1.75" fill="#fee0d2"/><circle cx="38.3" cy="65.5" r="1.75" fill="#fee0d2"/><circle cx="95.3" cy="-41.0" r="1.75" fill="#e2735b"/><circle cx="70.7" cy="-52.9" r="1.75" fill="#c5c5e6"/><circle cx="102.4" cy="-45.5" r="1.75" fill="#e2735b"/><circle cx="-73.5" cy="-41.0" r="1.75" fill="#b81d2f"/><circle cx="-96.1" cy="-25.0" r="1.75" fill="#f9b596"/><circle cx="88.0" cy="-37.5" r="1.75" fill="#f9b596"/><circle cx="-97.1" cy="19.0" r="1.75" fill="#fee0d2"/><circle cx="99.6" cy="-40.1" r="1.75" fill="#b81d2f"/><circle cx="27.6" cy="65.5" r="1.75" fill="#f9b596"/><circle cx="90.0" cy="29.2" r="1.75" fill="#7c70b6"/><circle cx="78.3" cy="-48.8" r="1.75" fill="#c5c5e6"/><circle cx="-84.4" cy="-48.1" r="1.75" fill="#b81d2f"/><circle cx="57.2" cy="64.0" r="1.75" fill="#fee0d2"/><circle cx="52.1" cy="80.8" r="1.75" fill="#b81d2f"/><circle cx="98.2" cy="-53.5" r="1.75" fill="#b81d2f"/><circle cx="-96.6" cy="3.2" r="1.75" fill="#e2735b"/><circle cx="-103.2" cy="-10.7" r="1.75" fill="#f9b596"/><circle cx="101.7" cy="-52.1" r="1.75" fill="#e2735b"/><circle cx="23.6" cy="51.8" r="1.75" fill="#f9b596"/><circle cx="-91.5" cy="1.7" r="1.75" fill="#f9b596"/><circle cx="-65.6" cy="-42.3" r="1.75" fill="#fee0d2"/><circle cx="90.0" cy="-48.9" r="1.75" fill="#fee0d2"/><circle cx="85.5" cy="-52.3" r="1.75" fill="#fee0d2"/><circle cx="96.4" cy="-49.4" r="1.75" fill="#b81d2f"/><circle cx="38.3" cy="78.7" r="1.75" fill="#e2735b"/><circle cx="98.2" cy="-52.2" r="1.75" fill="#b81d2f"/><circle cx="-104.3" cy="-13.9" r="1.75" fill="#f9b596"/><circle cx="100.6" cy="-42.5" r="1.75" fill="#f9b596"/><circle cx="86.3" cy="68.3" r="1.75" fill="#f9b596"/><circle cx="75.3" cy="-74.7" r="1.75" fill="#c5c5e6"/><circle cx="87.5" cy="-37.1" r="1.75" fill="#c5c5e6"/><circle cx="26.1" cy="72.1" r="1.75" fill="#f9b596"/><circle cx="98.9" cy="-49.2" r="1.75" fill="#fee0d2"/><circle cx="7.3" cy="74.1" r="1.75" fill="#c5c5e6"/><circle cx="-74.2" cy="-48.1" r="1.75" fill="#c5c5e6"/><circle cx="79.4" cy="-72.7" r="1.75" fill="#f9b596"/><circle cx="44.9" cy="46.7" r="1.75" fill="#e2735b"/><circle cx="39.3" cy="72.1" r="1.75" fill="#e2735b"/><circle cx="101.4" cy="-40.4" r="1.75" fill="#b81d2f"/><circle cx="7.3" cy="81.3" r="1.75" fill="#f9b596"/><circle cx="54.1" cy="45.1" r="1.75" fill="#fee0d2"/><circle cx="102.2" cy="-46.2" r="1.75" fill="#b81d2f"/><circle cx="-87.5" cy="25.6" r="1.75" fill="#f9b596"/><circle cx="31.2" cy="70.6" r="1.75" fill="#c5c5e6"/><circle cx="99.9" cy="-45.1" r="1.75" fill="#b81d2f"/><circle cx="-4.6" cy="65.1" r="1.75" fill="#e2735b"/><circle cx="23.6" cy="63.5" r="1.75" fill="#e2735b"/><circle cx="2.7" cy="93.5" r="1.75" fill="#b81d2f"/><circle cx="99.6" cy="-57.3" r="1.75" fill="#e2735b"/><circle cx="-104.1" cy="-39.8" r="1.75" fill="#b81d2f"/><circle cx="-100.2" cy="17.5" r="1.75" fill="#f9b596"/><circle cx="-90.0" cy="13.9" r="1.75" fill="#f9b596"/><circle cx="96.3" cy="-53.9" r="1.75" fill="#fee0d2"/><circle cx="8.8" cy="85.8" r="1.75" fill="#fee0d2"/><circle cx="98.2" cy="-42.2" r="1.75" fill="#e2735b"/><circle cx="-88.1" cy="-35.4" r="1.75" fill="#b81d2f"/><circle cx="102.5" cy="-39.3" r="1.75" fill="#b81d2f"/><circle cx="42.4" cy="72.1" r="1.75" fill="#b81d2f"/><circle cx="103.5" cy="31.5" r="1.75" fill="#e2735b"/><circle cx="88.8" cy="38.1" r="1.75" fill="#f9b596"/><circle cx="-113.9" cy="16.9" r="1.75" fill="#fee0d2"/><circle cx="-67.3" cy="-37.9" r="1.75" fill="#fee0d2"/><circle cx="-111.4" cy="7.3" r="1.75" fill="#f9b596"/><circle cx="-99.2" cy="7.3" r="1.75" fill="#fee0d2"/><circle cx="-8.6" cy="70.5" r="1.75" fill="#fee0d2"/><circle cx="86.8" cy="-44.8" r="1.75" fill="#fee0d2"/><circle cx="-94.1" cy="19.5" r="1.75" fill="#f9b596"/><circle cx="2.2" cy="88.9" r="1.75" fill="#c5c5e6"/><circle cx="44.9" cy="61.9" r="1.75" fill="#f9b596"/><circle cx="109.4" cy="-27.9" r="1.75" fill="#f9b596"/><circle cx="70.0" cy="-74.7" r="1.75" fill="#f9b596"/><circle cx="110.9" cy="26.1" r="1.75" fill="#b81d2f"/><circle cx="12.9" cy="60.4" r="1.75" fill="#f9b596"/><circle cx="70.0" cy="7.9" r="1.75" fill="#fee0d2"/><circle cx="94.4" cy="-39.8" r="1.75" fill="#e2735b"/><circle cx="56.0" cy="38.1" r="1.75" fill="#f9b596"/><circle cx="-88.0" cy="18.0" r="1.75" fill="#fee0d2"/><circle cx="25.6" cy="68.5" r="1.75" fill="#c5c5e6"/><circle cx="-14.1" cy="92.7" r="1.75" fill="#c5c5e6"/><circle cx="101.1" cy="-50.3" r="1.75" fill="#b81d2f"/><circle cx="-110.4" cy="9.8" r="1.75" fill="#f9b596"/><circle cx="101.2" cy="-34.5" r="1.75" fill="#b81d2f"/><circle cx="90.3" cy="-48.3" r="1.75" fill="#fee0d2"/><circle cx="58.8" cy="32.0" r="1.75" fill="#fee0d2"/><circle cx="81.2" cy="65.3" r="1.75" fill="#f9b596"/><circle cx="-3.5" cy="73.8" r="1.75" fill="#f9b596"/><circle cx="-0.3" cy="74.5" r="1.75" fill="#f9b596"/><circle cx="95.9" cy="-43.0" r="1.75" fill="#f9b596"/><circle cx="46.0" cy="82.3" r="1.75" fill="#b81d2f"/><circle cx="81.9" cy="-48.3" r="1.75" fill="#c5c5e6"/><circle cx="97.3" cy="-36.1" r="1.75" fill="#b81d2f"/><circle cx="4.2" cy="68.0" r="1.75" fill="#fee0d2"/><circle cx="-95.6" cy="5.2" r="1.75" fill="#f9b596"/><circle cx="-69.7" cy="-44.3" r="1.75" fill="#fee0d2"/><circle cx="8.8" cy="78.2" r="1.75" fill="#e2735b"/><circle cx="94.3" cy="-40.2" r="1.75" fill="#e2735b"/><circle cx="8.3" cy="89.4" r="1.75" fill="#f9b596"/><circle cx="-107.8" cy="11.4" r="1.75" fill="#e2735b"/><circle cx="49.0" cy="63.5" r="1.75" fill="#e2735b"/><circle cx="56.0" cy="-70.2" r="1.75" fill="#f9b596"/><circle cx="-68.7" cy="-30.5" r="1.75" fill="#fee0d2"/><circle cx="53.1" cy="51.3" r="1.75" fill="#e2735b"/><circle cx="8.3" cy="67.5" r="1.75" fill="#e2735b"/><circle cx="23.1" cy="76.7" r="1.75" fill="#f9b596"/><circle cx="89.3" cy="29.4" r="1.75" fill="#7c70b6"/><circle cx="19.5" cy="90.4" r="1.75" fill="#fee0d2"/><circle cx="97.3" cy="-55.5" r="1.75" fill="#e2735b"/><circle cx="-110.9" cy="-0.3" r="1.75" fill="#e2735b"/><circle cx="72.7" cy="-76.3" r="1.75" fill="#c5c5e6"/><circle cx="19.5" cy="68.0" r="1.75" fill="#f9b596"/><circle cx="-95.9" cy="-8.2" r="1.75" fill="#f9b596"/><circle cx="94.6" cy="-48.2" r="1.75" fill="#f9b596"/><circle cx="67.1" cy="68.6" r="1.75" fill="#b81d2f"/><circle cx="90.3" cy="-44.2" r="1.75" fill="#fee0d2"/><circle cx="46.5" cy="57.4" r="1.75" fill="#fee0d2"/><circle cx="49.5" cy="43.1" r="1.75" fill="#e2735b"/><circle cx="96.7" cy="-51.5" r="1.75" fill="#b81d2f"/><circle cx="-103.8" cy="5.8" r="1.75" fill="#e2735b"/><circle cx="-72.7" cy="-37.4" r="1.75" fill="#b81d2f"/><circle cx="85.7" cy="28.9" r="1.75" fill="#54278f"/><circle cx="83.9" cy="-63.0" r="1.75" fill="#fee0d2"/><circle cx="97.8" cy="-47.3" r="1.75" fill="#b81d2f"/><circle cx="89.2" cy="-51.8" r="1.75" fill="#fee0d2"/><circle cx="-83.4" cy="21.0" r="1.75" fill="#e2735b"/><circle cx="100.9" cy="-48.8" r="1.75" fill="#e2735b"/><circle cx="82.4" cy="-51.3" r="1.75" fill="#fee0d2"/><circle cx="98.8" cy="-37.8" r="1.75" fill="#f9b596"/><circle cx="94.8" cy="-48.2" r="1.75" fill="#b81d2f"/><circle cx="21.5" cy="74.1" r="1.75" fill="#f9b596"/><circle cx="88.8" cy="52.4" r="1.75" fill="#f9b596"/><circle cx="52.1" cy="40.1" r="1.75" fill="#f9b596"/><circle cx="56.2" cy="-56.4" r="1.75" fill="#fee0d2"/><circle cx="108.9" cy="-31.0" r="1.75" fill="#f9b596"/><circle cx="94.7" cy="-54.7" r="1.75" fill="#f9b596"/><circle cx="-114.9" cy="9.3" r="1.75" fill="#f9b596"/><circle cx="3.2" cy="75.7" r="1.75" fill="#f9b596"/><circle cx="91.5" cy="-39.8" r="1.75" fill="#fee0d2"/><circle cx="11.9" cy="77.7" r="1.75" fill="#e2735b"/><circle cx="14.4" cy="83.8" r="1.75" fill="#fee0d2"/><circle cx="43.4" cy="68.0" r="1.75" fill="#e2735b"/><circle cx="65.1" cy="65.8" r="1.75" fill="#b81d2f"/><circle cx="65.6" cy="-75.8" r="1.75" fill="#c5c5e6"/><circle cx="23.1" cy="81.8" r="1.75" fill="#e2735b"/><circle cx="91.9" cy="35.8" r="1.75" fill="#f9b596"/><circle cx="77.1" cy="-23.4" r="1.75" fill="#c5c5e6"/><circle cx="62.9" cy="-53.6" r="1.75" fill="#c5c5e6"/><circle cx="-4.9" cy="89.4" r="1.75" fill="#c5c5e6"/><circle cx="105.4" cy="-46.0" r="1.75" fill="#e2735b"/><circle cx="92.4" cy="-52.1" r="1.75" fill="#fee0d2"/><circle cx="-114.6" cy="-2.4" r="1.75" fill="#f9b596"/><circle cx="87.0" cy="-42.2" r="1.75" fill="#fee0d2"/><circle cx="-76.8" cy="-9.5" r="1.75" fill="#f9b596"/><circle cx="46.3" cy="84.0" r="1.75" fill="#b81d2f"/><circle cx="-2.1" cy="67.6" r="1.75" fill="#b81d2f"/><circle cx="95.9" cy="-38.4" r="1.75" fill="#e2735b"/><circle cx="99.3" cy="-50.3" r="1.75" fill="#b81d2f"/><circle cx="-95.6" cy="0.7" r="1.75" fill="#fee0d2"/><circle cx="-90.0" cy="20.0" r="1.75" fill="#e2735b"/><circle cx="86.0" cy="-52.3" r="1.75" fill="#e2735b"/><circle cx="16.5" cy="86.9" r="1.75" fill="#b81d2f"/><circle cx="82.8" cy="-50.9" r="1.75" fill="#fee0d2"/><circle cx="-97.1" cy="9.3" r="1.75" fill="#f9b596"/><circle cx="101.7" cy="-31.5" r="1.75" fill="#b81d2f"/><circle cx="-98.7" cy="21.5" r="1.75" fill="#e2735b"/><circle cx="95.2" cy="-49.0" r="1.75" fill="#b81d2f"/><circle cx="4.2" cy="84.8" r="1.75" fill="#c5c5e6"/><circle cx="-93.1" cy="14.4" r="1.75" fill="#fee0d2"/><circle cx="94.4" cy="-56.7" r="1.75" fill="#f9b596"/><circle cx="-106.8" cy="-16.1" r="1.75" fill="#f9b596"/><circle cx="28.7" cy="49.2" r="1.75" fill="#f9b596"/><circle cx="-108.8" cy="-13.6" r="1.75" fill="#e2735b"/><circle cx="18.0" cy="78.2" r="1.75" fill="#f9b596"/><circle cx="83.6" cy="-47.4" r="1.75" fill="#f9b596"/><circle cx="93.5" cy="-48.9" r="1.75" fill="#b81d2f"/><circle cx="-106.3" cy="-4.9" r="1.75" fill="#fee0d2"/><circle cx="97.8" cy="-43.5" r="1.75" fill="#f9b596"/><circle cx="94.1" cy="-51.5" r="1.75" fill="#e2735b"/><circle cx="95.9" cy="-47.4" r="1.75" fill="#b81d2f"/><circle cx="25.6" cy="57.4" r="1.75" fill="#e2735b"/><circle cx="-89.5" cy="9.3" r="1.75" fill="#e2735b"/><circle cx="95.3" cy="-53.5" r="1.75" fill="#f9b596"/><circle cx="-110.9" cy="-7.5" r="1.75" fill="#e2735b"/><circle cx="87.3" cy="33.0" r="1.75" fill="#7c70b6"/><circle cx="98.2" cy="-59.3" r="1.75" fill="#e2735b"/><circle cx="-97.6" cy="-8.0" r="1.75" fill="#f9b596"/><circle cx="15.9" cy="73.1" r="1.75" fill="#fee0d2"/><circle cx="-114.6" cy="2.2" r="1.75" fill="#e2735b"/><circle cx="87.0" cy="24.2" r="1.75" fill="#fee0d2"/><circle cx="55.2" cy="31.3" r="1.75" fill="#fee0d2"/><circle cx="-109.9" cy="12.4" r="1.75" fill="#f9b596"/><circle cx="-72.0" cy="-42.0" r="1.75" fill="#b81d2f"/><circle cx="18.0" cy="55.8" r="1.75" fill="#e2735b"/><circle cx="77.1" cy="-50.8" r="1.75" fill="#fee0d2"/><circle cx="-115.5" cy="-8.2" r="1.75" fill="#c5c5e6"/><circle cx="104.0" cy="-48.6" r="1.75" fill="#b81d2f"/><circle cx="48.0" cy="72.1" r="1.75" fill="#b81d2f"/><circle cx="-86.7" cy="-5.1" r="1.75" fill="#f9b596"/><circle cx="70.2" cy="-18.3" r="1.75" fill="#fee0d2"/><circle cx="-114.4" cy="5.8" r="1.75" fill="#f9b596"/><circle cx="-112.9" cy="-15.1" r="1.75" fill="#c5c5e6"/><circle cx="88.3" cy="-48.6" r="1.75" fill="#f9b596"/><circle cx="18.5" cy="72.1" r="1.75" fill="#e2735b"/><circle cx="-88.0" cy="22.0" r="1.75" fill="#fee0d2"/><circle cx="36.8" cy="87.4" r="1.75" fill="#b81d2f"/></g>
</g>
<g transform="translate(157.5,376.4)">
<g transform="scale(1.0000)"><use href="#base"/></g>
<g transform="scale(1.0000)"><use href="#rim"/></g>
<g stroke="#111" stroke-width="0.6"><circle cx="96.1" cy="-45.6" r="1.75" fill="#fee0d2"/><circle cx="2.2" cy="79.2" r="1.75" fill="#f9b596"/><circle cx="-91.0" cy="16.4" r="1.75" fill="#f9b596"/><circle cx="52.1" cy="87.9" r="1.75" fill="#e2735b"/><circle cx="101.1" cy="-42.8" r="1.75" fill="#f9b596"/><circle cx="102.8" cy="-43.9" r="1.75" fill="#f9b596"/><circle cx="21.0" cy="64.5" r="1.75" fill="#b81d2f"/><circle cx="-92.1" cy="8.8" r="1.75" fill="#f9b596"/><circle cx="-82.4" cy="24.1" r="1.75" fill="#b81d2f"/><circle cx="4.2" cy="80.2" r="1.75" fill="#fee0d2"/><circle cx="54.1" cy="67.0" r="1.75" fill="#e2735b"/><circle cx="-105.8" cy="0.2" r="1.75" fill="#b81d2f"/><circle cx="-80.1" cy="-39.4" r="1.75" fill="#f9b596"/><circle cx="-92.6" cy="21.5" r="1.75" fill="#e2735b"/><circle cx="83.4" cy="-72.2" r="1.75" fill="#f9b596"/><circle cx="91.2" cy="-50.0" r="1.75" fill="#fee0d2"/><circle cx="-72.0" cy="-46.1" r="1.75" fill="#fee0d2"/><circle cx="94.1" cy="-44.5" r="1.75" fill="#f9b596"/><circle cx="10.9" cy="85.3" r="1.75" fill="#e2735b"/><circle cx="-107.6" cy="-31.8" r="1.75" fill="#f9b596"/><circle cx="1.2" cy="72.1" r="1.75" fill="#f9b596"/><circle cx="73.3" cy="-50.8" r="1.75" fill="#f9b596"/><circle cx="17.5" cy="69.1" r="1.75" fill="#f9b596"/><circle cx="-96.1" cy="13.9" r="1.75" fill="#e2735b"/><circle cx="69.7" cy="-22.0" r="1.75" fill="#f9b596"/><circle cx="12.4" cy="83.3" r="1.75" fill="#e2735b"/><circle cx="-93.9" cy="-24.8" r="1.75" fill="#f9b596"/><circle cx="-66.9" cy="-42.5" r="1.75" fill="#f9b596"/><circle cx="-91.0" cy="26.6" r="1.75" fill="#e2735b"/><circle cx="23.4" cy="91.4" r="1.75" fill="#f9b596"/><circle cx="-91.0" cy="12.4" r="1.75" fill="#b81d2f"/><circle cx="55.6" cy="56.3" r="1.75" fill="#b81d2f"/><circle cx="106.0" cy="-43.3" r="1.75" fill="#fee0d2"/><circle cx="-64.4" cy="-28.0" r="1.75" fill="#b81d2f"/><circle cx="-110.9" cy="-10.5" r="1.75" fill="#f9b596"/><circle cx="-105.8" cy="8.8" r="1.75" fill="#f9b596"/><circle cx="50.9" cy="34.0" r="1.75" fill="#b81d2f"/><circle cx="95.3" cy="-43.7" r="1.75" fill="#fee0d2"/><circle cx="70.2" cy="-78.8" r="1.75" fill="#f9b596"/><circle cx="26.6" cy="77.2" r="1.75" fill="#e2735b"/><circle cx="-93.1" cy="4.2" r="1.75" fill="#e2735b"/><circle cx="68.0" cy="-50.3" r="1.75" fill="#f9b596"/><circle cx="1.7" cy="69.1" r="1.75" fill="#e2735b"/><circle cx="65.1" cy="-3.1" r="1.75" fill="#b81d2f"/><circle cx="22.6" cy="68.5" r="1.75" fill="#e2735b"/><circle cx="63.3" cy="38.8" r="1.75" fill="#e2735b"/><circle cx="86.0" cy="-45.2" r="1.75" fill="#fee0d2"/><circle cx="9.3" cy="82.3" r="1.75" fill="#f9b596"/><circle cx="92.5" cy="-52.8" r="1.75" fill="#fee0d2"/><circle cx="-100.2" cy="4.2" r="1.75" fill="#f9b596"/><circle cx="88.5" cy="-34.5" r="1.75" fill="#e2735b"/><circle cx="44.9" cy="69.6" r="1.75" fill="#fee0d2"/><circle cx="-88.0" cy="29.7" r="1.75" fill="#e2735b"/><circle cx="13.9" cy="79.7" r="1.75" fill="#e2735b"/><circle cx="-80.9" cy="-27.0" r="1.75" fill="#e2735b"/><circle cx="13.9" cy="75.2" r="1.75" fill="#f9b596"/><circle cx="-91.8" cy="-24.6" r="1.75" fill="#e2735b"/><circle cx="-87.5" cy="2.7" r="1.75" fill="#e2735b"/><circle cx="-95.6" cy="22.0" r="1.75" fill="#f9b596"/><circle cx="29.2" cy="67.5" r="1.75" fill="#e2735b"/><circle cx="92.9" cy="-42.8" r="1.75" fill="#fee0d2"/><circle cx="-89.5" cy="28.6" r="1.75" fill="#e2735b"/><circle cx="89.0" cy="-32.0" r="1.75" fill="#f9b596"/><circle cx="24.6" cy="74.1" r="1.75" fill="#b81d2f"/><circle cx="87.3" cy="20.3" r="1.75" fill="#f9b596"/><circle cx="-99.2" cy="-0.3" r="1.75" fill="#f9b596"/><circle cx="67.7" cy="-45.9" r="1.75" fill="#f9b596"/><circle cx="99.1" cy="-46.8" r="1.75" fill="#f9b596"/><circle cx="81.4" cy="-64.1" r="1.75" fill="#e2735b"/><circle cx="-109.3" cy="-18.7" r="1.75" fill="#f9b596"/><circle cx="80.9" cy="-66.6" r="1.75" fill="#e2735b"/><circle cx="11.9" cy="69.1" r="1.75" fill="#f9b596"/><circle cx="84.2" cy="-44.8" r="1.75" fill="#fee0d2"/><circle cx="100.2" cy="-20.8" r="1.75" fill="#f9b596"/><circle cx="-78.8" cy="26.4" r="1.75" fill="#b81d2f"/><circle cx="16.5" cy="78.7" r="1.75" fill="#f9b596"/><circle cx="88.6" cy="-41.9" r="1.75" fill="#fee0d2"/><circle cx="88.0" cy="-40.1" r="1.75" fill="#fee0d2"/><circle cx="-94.6" cy="8.3" r="1.75" fill="#e2735b"/><circle cx="21.5" cy="71.6" r="1.75" fill="#e2735b"/><circle cx="100.2" cy="-24.4" r="1.75" fill="#f9b596"/><circle cx="92.4" cy="-38.1" r="1.75" fill="#f9b596"/><circle cx="-7.2" cy="68.0" r="1.75" fill="#f9b596"/><circle cx="10.6" cy="57.1" r="1.75" fill="#b81d2f"/><circle cx="42.9" cy="51.8" r="1.75" fill="#e2735b"/><circle cx="9.3" cy="71.1" r="1.75" fill="#f9b596"/><circle cx="-69.9" cy="-20.9" r="1.75" fill="#b81d2f"/><circle cx="66.4" cy="61.2" r="1.75" fill="#f9b596"/><circle cx="-92.1" cy="5.8" r="1.75" fill="#e2735b"/><circle cx="-90.0" cy="5.8" r="1.75" fill="#e2735b"/><circle cx="93.0" cy="-45.2" r="1.75" fill="#fee0d2"/><circle cx="87.5" cy="-50.8" r="1.75" fill="#fee0d2"/><circle cx="17.0" cy="84.3" r="1.75" fill="#e2735b"/><circle cx="13.9" cy="64.5" r="1.75" fill="#fee0d2"/><circle cx="81.9" cy="-70.7" r="1.75" fill="#f9b596"/><circle cx="96.4" cy="-57.3" r="1.75" fill="#f9b596"/><circle cx="72.2" cy="61.5" r="1.75" fill="#fee0d2"/><circle cx="5.8" cy="77.7" r="1.75" fill="#f9b596"/><circle cx="70.7" cy="23.9" r="1.75" fill="#b81d2f"/><circle cx="14.9" cy="76.7" r="1.75" fill="#fee0d2"/><circle cx="80.9" cy="-60.5" r="1.75" fill="#e2735b"/><circle cx="77.3" cy="-73.2" r="1.75" fill="#fee0d2"/><circle cx="18.0" cy="75.2" r="1.75" fill="#f9b596"/><circle cx="33.2" cy="85.8" r="1.75" fill="#b81d2f"/><circle cx="74.8" cy="13.0" r="1.75" fill="#fee0d2"/><circle cx="60.0" cy="36.1" r="1.75" fill="#b81d2f"/><circle cx="95.9" cy="-52.8" r="1.75" fill="#fee0d2"/><circle cx="-93.6" cy="-1.4" r="1.75" fill="#e2735b"/><circle cx="-1.4" cy="86.9" r="1.75" fill="#f9b596"/><circle cx="97.0" cy="-45.7" r="1.75" fill="#fee0d2"/><circle cx="5.3" cy="72.6" r="1.75" fill="#f9b596"/><circle cx="98.9" cy="-47.6" r="1.75" fill="#fee0d2"/><circle cx="100.4" cy="-45.5" r="1.75" fill="#fee0d2"/><circle cx="80.4" cy="-50.8" r="1.75" fill="#fee0d2"/><circle cx="46.5" cy="66.0" r="1.75" fill="#fee0d2"/><circle cx="-2.9" cy="82.3" r="1.75" fill="#f9b596"/><circle cx="-99.2" cy="24.1" r="1.75" fill="#e2735b"/><circle cx="6.8" cy="84.3" r="1.75" fill="#f9b596"/><circle cx="-0.3" cy="76.2" r="1.75" fill="#f9b596"/><circle cx="67.1" cy="-79.0" r="1.75" fill="#f9b596"/><circle cx="5.3" cy="87.4" r="1.75" fill="#e2735b"/><circle cx="-0.6" cy="72.0" r="1.75" fill="#f9b596"/><circle cx="-94.6" cy="16.4" r="1.75" fill="#e2735b"/><circle cx="92.4" cy="-46.2" r="1.75" fill="#fee0d2"/><circle cx="58.7" cy="82.8" r="1.75" fill="#e2735b"/><circle cx="-3.5" cy="70.2" r="1.75" fill="#f9b596"/><circle cx="104.6" cy="-41.0" r="1.75" fill="#fee0d2"/><circle cx="62.6" cy="-77.3" r="1.75" fill="#f9b596"/><circle cx="41.9" cy="54.8" r="1.75" fill="#f9b596"/><circle cx="-88.5" cy="11.4" r="1.75" fill="#e2735b"/><circle cx="100.5" cy="-48.0" r="1.75" fill="#fee0d2"/><circle cx="-90.5" cy="23.1" r="1.75" fill="#e2735b"/><circle cx="30.2" cy="81.3" r="1.75" fill="#b81d2f"/><circle cx="7.3" cy="69.6" r="1.75" fill="#f9b596"/><circle cx="80.7" cy="-50.6" r="1.75" fill="#f9b596"/><circle cx="103.4" cy="-41.6" r="1.75" fill="#fee0d2"/><circle cx="-101.2" cy="-30.1" r="1.75" fill="#f9b596"/><circle cx="10.9" cy="80.2" r="1.75" fill="#f9b596"/><circle cx="53.6" cy="84.3" r="1.75" fill="#f9b596"/><circle cx="97.9" cy="-48.6" r="1.75" fill="#fee0d2"/><circle cx="66.6" cy="8.3" r="1.75" fill="#f9b596"/><circle cx="47.0" cy="53.8" r="1.75" fill="#f9b596"/><circle cx="39.9" cy="51.8" r="1.75" fill="#b81d2f"/><circle cx="-109.3" cy="4.7" r="1.75" fill="#f9b596"/><circle cx="81.9" cy="-48.6" r="1.75" fill="#fee0d2"/><circle cx="-92.6" cy="26.1" r="1.75" fill="#e2735b"/><circle cx="52.6" cy="63.0" r="1.75" fill="#f9b596"/><circle cx="12.4" cy="73.6" r="1.75" fill="#e2735b"/><circle cx="14.9" cy="70.1" r="1.75" fill="#f9b596"/><circle cx="64.1" cy="19.3" r="1.75" fill="#e2735b"/><circle cx="79.4" cy="-56.9" r="1.75" fill="#fee0d2"/><circle cx="83.6" cy="-47.3" r="1.75" fill="#f9b596"/><circle cx="9.8" cy="75.2" r="1.75" fill="#f9b596"/><circle cx="35.8" cy="83.3" r="1.75" fill="#f9b596"/><circle cx="-98.2" cy="12.4" r="1.75" fill="#e2735b"/><circle cx="-93.6" cy="11.4" r="1.75" fill="#e2735b"/><circle cx="38.3" cy="65.5" r="1.75" fill="#f9b596"/><circle cx="95.3" cy="-41.0" r="1.75" fill="#f9b596"/><circle cx="70.7" cy="-52.9" r="1.75" fill="#f9b596"/><circle cx="102.4" cy="-45.5" r="1.75" fill="#fee0d2"/><circle cx="-73.5" cy="-41.0" r="1.75" fill="#f9b596"/><circle cx="-96.1" cy="-25.0" r="1.75" fill="#f9b596"/><circle cx="88.0" cy="-37.5" r="1.75" fill="#fee0d2"/><circle cx="-97.1" cy="19.0" r="1.75" fill="#b81d2f"/><circle cx="99.6" cy="-40.1" r="1.75" fill="#fee0d2"/><circle cx="27.6" cy="65.5" r="1.75" fill="#f9b596"/><circle cx="90.0" cy="29.2" r="1.75" fill="#fee0d2"/><circle cx="78.3" cy="-48.8" r="1.75" fill="#fee0d2"/><circle cx="-84.4" cy="-48.1" r="1.75" fill="#e2735b"/><circle cx="57.2" cy="64.0" r="1.75" fill="#f9b596"/><circle cx="52.1" cy="80.8" r="1.75" fill="#e2735b"/><circle cx="98.2" cy="-53.5" r="1.75" fill="#fee0d2"/><circle cx="-96.6" cy="3.2" r="1.75" fill="#f9b596"/><circle cx="-103.2" cy="-10.7" r="1.75" fill="#f9b596"/><circle cx="101.7" cy="-52.1" r="1.75" fill="#fee0d2"/><circle cx="23.6" cy="51.8" r="1.75" fill="#b81d2f"/><circle cx="-91.5" cy="1.7" r="1.75" fill="#e2735b"/><circle cx="-65.6" cy="-42.3" r="1.75" fill="#f9b596"/><circle cx="90.0" cy="-48.9" r="1.75" fill="#f9b596"/><circle cx="85.5" cy="-52.3" r="1.75" fill="#fee0d2"/><circle cx="96.4" cy="-49.4" r="1.75" fill="#fee0d2"/><circle cx="38.3" cy="78.7" r="1.75" fill="#e2735b"/><circle cx="98.2" cy="-52.2" r="1.75" fill="#fee0d2"/><circle cx="-104.3" cy="-13.9" r="1.75" fill="#b81d2f"/><circle cx="100.6" cy="-42.5" r="1.75" fill="#fee0d2"/><circle cx="86.3" cy="68.3" r="1.75" fill="#f9b596"/><circle cx="75.3" cy="-74.7" r="1.75" fill="#f9b596"/><circle cx="87.5" cy="-37.1" r="1.75" fill="#f9b596"/><circle cx="26.1" cy="72.1" r="1.75" fill="#f9b596"/><circle cx="98.9" cy="-49.2" r="1.75" fill="#fee0d2"/><circle cx="7.3" cy="74.1" r="1.75" fill="#f9b596"/><circle cx="-74.2" cy="-48.1" r="1.75" fill="#fee0d2"/><circle cx="79.4" cy="-72.7" r="1.75" fill="#fee0d2"/><circle cx="44.9" cy="46.7" r="1.75" fill="#e2735b"/><circle cx="39.3" cy="72.1" r="1.75" fill="#f9b596"/><circle cx="101.4" cy="-40.4" r="1.75" fill="#fee0d2"/><circle cx="7.3" cy="81.3" r="1.75" fill="#f9b596"/><circle cx="54.1" cy="45.1" r="1.75" fill="#e2735b"/><circle cx="102.2" cy="-46.2" r="1.75" fill="#fee0d2"/><circle cx="-87.5" cy="25.6" r="1.75" fill="#e2735b"/><circle cx="31.2" cy="70.6" r="1.75" fill="#e2735b"/><circle cx="99.9" cy="-45.1" r="1.75" fill="#fee0d2"/><circle cx="-4.6" cy="65.1" r="1.75" fill="#f9b596"/><circle cx="23.6" cy="63.5" r="1.75" fill="#e2735b"/><circle cx="2.7" cy="93.5" r="1.75" fill="#b81d2f"/><circle cx="99.6" cy="-57.3" r="1.75" fill="#fee0d2"/><circle cx="-104.1" cy="-39.8" r="1.75" fill="#f9b596"/><circle cx="-100.2" cy="17.5" r="1.75" fill="#f9b596"/><circle cx="-90.0" cy="13.9" r="1.75" fill="#f9b596"/><circle cx="96.3" cy="-53.9" r="1.75" fill="#fee0d2"/><circle cx="8.8" cy="85.8" r="1.75" fill="#f9b596"/><circle cx="98.2" cy="-42.2" r="1.75" fill="#fee0d2"/><circle cx="-88.1" cy="-35.4" r="1.75" fill="#f9b596"/><circle cx="102.5" cy="-39.3" r="1.75" fill="#fee0d2"/><circle cx="42.4" cy="72.1" r="1.75" fill="#f9b596"/><circle cx="103.5" cy="31.5" r="1.75" fill="#fee0d2"/><circle cx="88.8" cy="38.1" r="1.75" fill="#fee0d2"/><circle cx="-113.9" cy="16.9" r="1.75" fill="#f9b596"/><circle cx="-67.3" cy="-37.9" r="1.75" fill="#f9b596"/><circle cx="-111.4" cy="7.3" r="1.75" fill="#f9b596"/><circle cx="-99.2" cy="7.3" r="1.75" fill="#e2735b"/><circle cx="-8.6" cy="70.5" r="1.75" fill="#f9b596"/><circle cx="86.8" cy="-44.8" r="1.75" fill="#fee0d2"/><circle cx="-94.1" cy="19.5" r="1.75" fill="#e2735b"/><circle cx="2.2" cy="88.9" r="1.75" fill="#f9b596"/><circle cx="44.9" cy="61.9" r="1.75" fill="#f9b596"/><circle cx="109.4" cy="-27.9" r="1.75" fill="#f9b596"/><circle cx="70.0" cy="-74.7" r="1.75" fill="#f9b596"/><circle cx="110.9" cy="26.1" r="1.75" fill="#f9b596"/><circle cx="12.9" cy="60.4" r="1.75" fill="#e2735b"/><circle cx="70.0" cy="7.9" r="1.75" fill="#e2735b"/><circle cx="94.4" cy="-39.8" r="1.75" fill="#fee0d2"/><circle cx="56.0" cy="38.1" r="1.75" fill="#e2735b"/><circle cx="-88.0" cy="18.0" r="1.75" fill="#e2735b"/><circle cx="25.6" cy="68.5" r="1.75" fill="#f9b596"/><circle cx="-14.1" cy="92.7" r="1.75" fill="#b81d2f"/><circle cx="101.1" cy="-50.3" r="1.75" fill="#fee0d2"/><circle cx="-110.4" cy="9.8" r="1.75" fill="#f9b596"/><circle cx="101.2" cy="-34.5" r="1.75" fill="#fee0d2"/><circle cx="90.3" cy="-48.3" r="1.75" fill="#fee0d2"/><circle cx="58.8" cy="32.0" r="1.75" fill="#c5c5e6"/><circle cx="81.2" cy="65.3" r="1.75" fill="#f9b596"/><circle cx="-3.5" cy="73.8" r="1.75" fill="#fee0d2"/><circle cx="-0.3" cy="74.5" r="1.75" fill="#f9b596"/><circle cx="95.9" cy="-43.0" r="1.75" fill="#fee0d2"/><circle cx="46.0" cy="82.3" r="1.75" fill="#e2735b"/><circle cx="81.9" cy="-48.3" r="1.75" fill="#fee0d2"/><circle cx="97.3" cy="-36.1" r="1.75" fill="#f9b596"/><circle cx="4.2" cy="68.0" r="1.75" fill="#f9b596"/><circle cx="-95.6" cy="5.2" r="1.75" fill="#f9b596"/><circle cx="-69.7" cy="-44.3" r="1.75" fill="#fee0d2"/><circle cx="8.8" cy="78.2" r="1.75" fill="#f9b596"/><circle cx="94.3" cy="-40.2" r="1.75" fill="#fee0d2"/><circle cx="8.3" cy="89.4" r="1.75" fill="#f9b596"/><circle cx="-107.8" cy="11.4" r="1.75" fill="#b81d2f"/><circle cx="49.0" cy="63.5" r="1.75" fill="#fee0d2"/><circle cx="56.0" cy="-70.2" r="1.75" fill="#b81d2f"/><circle cx="-68.7" cy="-30.5" r="1.75" fill="#b81d2f"/><circle cx="53.1" cy="51.3" r="1.75" fill="#e2735b"/><circle cx="8.3" cy="67.5" r="1.75" fill="#f9b596"/><circle cx="23.1" cy="76.7" r="1.75" fill="#f9b596"/><circle cx="89.3" cy="29.4" r="1.75" fill="#fee0d2"/><circle cx="19.5" cy="90.4" r="1.75" fill="#f9b596"/><circle cx="97.3" cy="-55.5" r="1.75" fill="#fee0d2"/><circle cx="-110.9" cy="-0.3" r="1.75" fill="#b81d2f"/><circle cx="72.7" cy="-76.3" r="1.75" fill="#f9b596"/><circle cx="19.5" cy="68.0" r="1.75" fill="#f9b596"/><circle cx="-95.9" cy="-8.2" r="1.75" fill="#e2735b"/><circle cx="94.6" cy="-48.2" r="1.75" fill="#fee0d2"/><circle cx="67.1" cy="68.6" r="1.75" fill="#fee0d2"/><circle cx="90.3" cy="-44.2" r="1.75" fill="#f9b596"/><circle cx="46.5" cy="57.4" r="1.75" fill="#e2735b"/><circle cx="49.5" cy="43.1" r="1.75" fill="#b81d2f"/><circle cx="96.7" cy="-51.5" r="1.75" fill="#f9b596"/><circle cx="-103.8" cy="5.8" r="1.75" fill="#f9b596"/><circle cx="-72.7" cy="-37.4" r="1.75" fill="#e2735b"/><circle cx="85.7" cy="28.9" r="1.75" fill="#fee0d2"/><circle cx="83.9" cy="-63.0" r="1.75" fill="#e2735b"/><circle cx="97.8" cy="-47.3" r="1.75" fill="#fee0d2"/><circle cx="89.2" cy="-51.8" r="1.75" fill="#fee0d2"/><circle cx="-83.4" cy="21.0" r="1.75" fill="#b81d2f"/><circle cx="100.9" cy="-48.8" r="1.75" fill="#fee0d2"/><circle cx="82.4" cy="-51.3" r="1.75" fill="#fee0d2"/><circle cx="98.8" cy="-37.8" r="1.75" fill="#fee0d2"/><circle cx="94.8" cy="-48.2" r="1.75" fill="#fee0d2"/><circle cx="21.5" cy="74.1" r="1.75" fill="#e2735b"/><circle cx="88.8" cy="52.4" r="1.75" fill="#f9b596"/><circle cx="52.1" cy="40.1" r="1.75" fill="#b81d2f"/><circle cx="56.2" cy="-56.4" r="1.75" fill="#e2735b"/><circle cx="108.9" cy="-31.0" r="1.75" fill="#f9b596"/><circle cx="94.7" cy="-54.7" r="1.75" fill="#fee0d2"/><circle cx="-114.9" cy="9.3" r="1.75" fill="#e2735b"/><circle cx="3.2" cy="75.7" r="1.75" fill="#f9b596"/><circle cx="91.5" cy="-39.8" r="1.75" fill="#fee0d2"/><circle cx="11.9" cy="77.7" r="1.75" fill="#f9b596"/><circle cx="14.4" cy="83.8" r="1.75" fill="#f9b596"/><circle cx="43.4" cy="68.0" r="1.75" fill="#fee0d2"/><circle cx="65.1" cy="65.8" r="1.75" fill="#f9b596"/><circle cx="65.6" cy="-75.8" r="1.75" fill="#fee0d2"/><circle cx="23.1" cy="81.8" r="1.75" fill="#b81d2f"/><circle cx="91.9" cy="35.8" r="1.75" fill="#f9b596"/><circle cx="77.1" cy="-23.4" r="1.75" fill="#f9b596"/><circle cx="62.9" cy="-53.6" r="1.75" fill="#f9b596"/><circle cx="-4.9" cy="89.4" r="1.75" fill="#b81d2f"/><circle cx="105.4" cy="-46.0" r="1.75" fill="#fee0d2"/><circle cx="92.4" cy="-52.1" r="1.75" fill="#f9b596"/><circle cx="-114.6" cy="-2.4" r="1.75" fill="#b81d2f"/><circle cx="87.0" cy="-42.2" r="1.75" fill="#fee0d2"/><circle cx="-76.8" cy="-9.5" r="1.75" fill="#b81d2f"/><circle cx="46.3" cy="84.0" r="1.75" fill="#e2735b"/><circle cx="-2.1" cy="67.6" r="1.75" fill="#fee0d2"/><circle cx="95.9" cy="-38.4" r="1.75" fill="#fee0d2"/><circle cx="99.3" cy="-50.3" r="1.75" fill="#fee0d2"/><circle cx="-95.6" cy="0.7" r="1.75" fill="#e2735b"/><circle cx="-90.0" cy="20.0" r="1.75" fill="#e2735b"/><circle cx="86.0" cy="-52.3" r="1.75" fill="#f9b596"/><circle cx="16.5" cy="86.9" r="1.75" fill="#f9b596"/><circle cx="82.8" cy="-50.9" r="1.75" fill="#fee0d2"/><circle cx="-97.1" cy="9.3" r="1.75" fill="#e2735b"/><circle cx="101.7" cy="-31.5" r="1.75" fill="#fee0d2"/><circle cx="-98.7" cy="21.5" r="1.75" fill="#f9b596"/><circle cx="95.2" cy="-49.0" r="1.75" fill="#fee0d2"/><circle cx="4.2" cy="84.8" r="1.75" fill="#f9b596"/><circle cx="-93.1" cy="14.4" r="1.75" fill="#e2735b"/><circle cx="94.4" cy="-56.7" r="1.75" fill="#fee0d2"/><circle cx="-106.8" cy="-16.1" r="1.75" fill="#f9b596"/><circle cx="28.7" cy="49.2" r="1.75" fill="#b81d2f"/><circle cx="-108.8" cy="-13.6" r="1.75" fill="#f9b596"/><circle cx="18.0" cy="78.2" r="1.75" fill="#e2735b"/><circle cx="83.6" cy="-47.4" r="1.75" fill="#f9b596"/><circle cx="93.5" cy="-48.9" r="1.75" fill="#f9b596"/><circle cx="-106.3" cy="-4.9" r="1.75" fill="#f9b596"/><circle cx="97.8" cy="-43.5" r="1.75" fill="#fee0d2"/><circle cx="94.1" cy="-51.5" r="1.75" fill="#fee0d2"/><circle cx="95.9" cy="-47.4" r="1.75" fill="#fee0d2"/><circle cx="25.6" cy="57.4" r="1.75" fill="#e2735b"/><circle cx="-89.5" cy="9.3" r="1.75" fill="#b81d2f"/><circle cx="95.3" cy="-53.5" r="1.75" fill="#f9b596"/><circle cx="-110.9" cy="-7.5" r="1.75" fill="#f9b596"/><circle cx="87.3" cy="33.0" r="1.75" fill="#f9b596"/><circle cx="98.2" cy="-59.3" r="1.75" fill="#f9b596"/><circle cx="-97.6" cy="-8.0" r="1.75" fill="#e2735b"/><circle cx="15.9" cy="73.1" r="1.75" fill="#f9b596"/><circle cx="-114.6" cy="2.2" r="1.75" fill="#b81d2f"/><circle cx="87.0" cy="24.2" r="1.75" fill="#fee0d2"/><circle cx="55.2" cy="31.3" r="1.75" fill="#b81d2f"/><circle cx="-109.9" cy="12.4" r="1.75" fill="#f9b596"/><circle cx="-72.0" cy="-42.0" r="1.75" fill="#f9b596"/><circle cx="18.0" cy="55.8" r="1.75" fill="#b81d2f"/><circle cx="77.1" cy="-50.8" r="1.75" fill="#f9b596"/><circle cx="-115.5" cy="-8.2" r="1.75" fill="#f9b596"/><circle cx="104.0" cy="-48.6" r="1.75" fill="#fee0d2"/><circle cx="48.0" cy="72.1" r="1.75" fill="#fee0d2"/><circle cx="-86.7" cy="-5.1" r="1.75" fill="#e2735b"/><circle cx="70.2" cy="-18.3" r="1.75" fill="#b81d2f"/><circle cx="-114.4" cy="5.8" r="1.75" fill="#e2735b"/><circle cx="-112.9" cy="-15.1" r="1.75" fill="#e2735b"/><circle cx="88.3" cy="-48.6" r="1.75" fill="#fee0d2"/><circle cx="18.5" cy="72.1" r="1.75" fill="#f9b596"/><circle cx="-88.0" cy="22.0" r="1.75" fill="#e2735b"/><circle cx="36.8" cy="87.4" r="1.75" fill="#e2735b"/></g>
</g>
<g transform="translate(509.5,377.3)">
<g transform="scale(0.9991)"><use href="#base"/></g>
<g transform="scale(0.9991)"><use href="#rim"/></g>
<g stroke="#111" stroke-width="0.6"><circle cx="96.1" cy="-45.6" r="1.75" fill="#fee0d2"/><circle cx="2.2" cy="79.2" r="1.75" fill="#f9b596"/><circle cx="-91.0" cy="16.4" r="1.75" fill="#f9b596"/><circle cx="52.0" cy="87.8" r="1.75" fill="#e2735b"/><circle cx="101.0" cy="-42.7" r="1.75" fill="#fee0d2"/><circle cx="102.7" cy="-43.9" r="1.75" fill="#fee0d2"/><circle cx="21.0" cy="64.4" r="1.75" fill="#e2735b"/><circle cx="-92.0" cy="8.8" r="1.75" fill="#f9b596"/><circle cx="-82.3" cy="24.0" r="1.75" fill="#e2735b"/><circle cx="4.2" cy="80.2" r="1.75" fill="#f9b596"/><circle cx="54.1" cy="67.0" r="1.75" fill="#e2735b"/><circle cx="-105.7" cy="0.2" r="1.75" fill="#b81d2f"/><circle cx="-80.1" cy="-39.4" r="1.75" fill="#f9b596"/><circle cx="-92.5" cy="21.5" r="1.75" fill="#f9b596"/><circle cx="83.4" cy="-72.1" r="1.75" fill="#f9b596"/><circle cx="91.1" cy="-50.0" r="1.75" fill="#f9b596"/><circle cx="-71.9" cy="-46.0" r="1.75" fill="#fee0d2"/><circle cx="94.0" cy="-44.5" r="1.75" fill="#fee0d2"/><circle cx="10.8" cy="85.3" r="1.75" fill="#e2735b"/><circle cx="-107.5" cy="-31.8" r="1.75" fill="#f9b596"/><circle cx="1.2" cy="72.0" r="1.75" fill="#fee0d2"/><circle cx="73.2" cy="-50.8" r="1.75" fill="#f9b596"/><circle cx="17.5" cy="69.0" r="1.75" fill="#fee0d2"/><circle cx="-96.0" cy="13.9" r="1.75" fill="#f9b596"/><circle cx="69.6" cy="-22.0" r="1.75" fill="#fee0d2"/><circle cx="12.4" cy="83.2" r="1.75" fill="#e2735b"/><circle cx="-93.8" cy="-24.8" r="1.75" fill="#f9b596"/><circle cx="-66.9" cy="-42.5" r="1.75" fill="#f9b596"/><circle cx="-91.0" cy="26.6" r="1.75" fill="#f9b596"/><circle cx="23.4" cy="91.4" r="1.75" fill="#f9b596"/><circle cx="-91.0" cy="12.4" r="1.75" fill="#e2735b"/><circle cx="55.6" cy="56.3" r="1.75" fill="#fee0d2"/><circle cx="105.9" cy="-43.3" r="1.75" fill="#fee0d2"/><circle cx="-64.3" cy="-27.9" r="1.75" fill="#f9b596"/><circle cx="-110.8" cy="-10.5" r="1.75" fill="#e2735b"/><circle cx="-105.7" cy="8.8" r="1.75" fill="#f9b596"/><circle cx="50.8" cy="34.0" r="1.75" fill="#fee0d2"/><circle cx="95.2" cy="-43.7" r="1.75" fill="#fee0d2"/><circle cx="70.1" cy="-78.7" r="1.75" fill="#fee0d2"/><circle cx="26.6" cy="77.1" r="1.75" fill="#f9b596"/><circle cx="-93.0" cy="4.2" r="1.75" fill="#f9b596"/><circle cx="67.9" cy="-50.3" r="1.75" fill="#fee0d2"/><circle cx="1.7" cy="69.0" r="1.75" fill="#e2735b"/><circle cx="65.1" cy="-3.1" r="1.75" fill="#f9b596"/><circle cx="22.5" cy="68.5" r="1.75" fill="#f9b596"/><circle cx="63.2" cy="38.8" r="1.75" fill="#fee0d2"/><circle cx="85.9" cy="-45.2" r="1.75" fill="#fee0d2"/><circle cx="9.3" cy="82.2" r="1.75" fill="#f9b596"/><circle cx="92.4" cy="-52.7" r="1.75" fill="#fee0d2"/><circle cx="-100.1" cy="4.2" r="1.75" fill="#f9b596"/><circle cx="88.4" cy="-34.5" r="1.75" fill="#f9b596"/><circle cx="44.9" cy="69.5" r="1.75" fill="#fee0d2"/><circle cx="-87.9" cy="29.6" r="1.75" fill="#f9b596"/><circle cx="13.9" cy="79.7" r="1.75" fill="#f9b596"/><circle cx="-80.8" cy="-27.0" r="1.75" fill="#f9b596"/><circle cx="13.9" cy="75.1" r="1.75" fill="#e2735b"/><circle cx="-91.8" cy="-24.6" r="1.75" fill="#f9b596"/><circle cx="-87.4" cy="2.7" r="1.75" fill="#f9b596"/><circle cx="-95.5" cy="22.0" r="1.75" fill="#f9b596"/><circle cx="29.1" cy="67.5" r="1.75" fill="#e2735b"/><circle cx="92.9" cy="-42.7" r="1.75" fill="#fee0d2"/><circle cx="-89.4" cy="28.6" r="1.75" fill="#f9b596"/><circle cx="88.9" cy="-32.0" r="1.75" fill="#fee0d2"/><circle cx="24.6" cy="74.1" r="1.75" fill="#fee0d2"/><circle cx="87.2" cy="20.3" r="1.75" fill="#f9b596"/><circle cx="-99.1" cy="-0.3" r="1.75" fill="#f9b596"/><circle cx="67.6" cy="-45.9" r="1.75" fill="#fee0d2"/><circle cx="99.0" cy="-46.8" r="1.75" fill="#fee0d2"/><circle cx="81.3" cy="-64.0" r="1.75" fill="#f9b596"/><circle cx="-109.3" cy="-18.6" r="1.75" fill="#f9b596"/><circle cx="80.8" cy="-66.5" r="1.75" fill="#e2735b"/><circle cx="11.9" cy="69.0" r="1.75" fill="#f9b596"/><circle cx="84.2" cy="-44.8" r="1.75" fill="#f9b596"/><circle cx="100.1" cy="-20.8" r="1.75" fill="#f9b596"/><circle cx="-78.8" cy="26.4" r="1.75" fill="#f9b596"/><circle cx="16.4" cy="78.7" r="1.75" fill="#f9b596"/><circle cx="88.5" cy="-41.8" r="1.75" fill="#fee0d2"/><circle cx="87.9" cy="-40.1" r="1.75" fill="#fee0d2"/><circle cx="-94.5" cy="8.3" r="1.75" fill="#f9b596"/><circle cx="21.5" cy="71.5" r="1.75" fill="#fee0d2"/><circle cx="100.1" cy="-24.3" r="1.75" fill="#f9b596"/><circle cx="92.3" cy="-38.1" r="1.75" fill="#fee0d2"/><circle cx="-7.2" cy="67.9" r="1.75" fill="#f9b596"/><circle cx="10.5" cy="57.0" r="1.75" fill="#e2735b"/><circle cx="42.9" cy="51.7" r="1.75" fill="#f9b596"/><circle cx="9.3" cy="71.0" r="1.75" fill="#f9b596"/><circle cx="-69.8" cy="-20.9" r="1.75" fill="#f9b596"/><circle cx="66.4" cy="61.2" r="1.75" fill="#f9b596"/><circle cx="-92.0" cy="5.8" r="1.75" fill="#f9b596"/><circle cx="-89.9" cy="5.8" r="1.75" fill="#f9b596"/><circle cx="92.9" cy="-45.2" r="1.75" fill="#f9b596"/><circle cx="87.4" cy="-50.8" r="1.75" fill="#fee0d2"/><circle cx="16.9" cy="84.2" r="1.75" fill="#f9b596"/><circle cx="13.9" cy="64.4" r="1.75" fill="#fee0d2"/><circle cx="81.8" cy="-70.6" r="1.75" fill="#f9b596"/><circle cx="96.4" cy="-57.2" r="1.75" fill="#fee0d2"/><circle cx="72.2" cy="61.5" r="1.75" fill="#fee0d2"/><circle cx="5.8" cy="77.6" r="1.75" fill="#f9b596"/><circle cx="70.6" cy="23.8" r="1.75" fill="#f9b596"/><circle cx="14.9" cy="76.6" r="1.75" fill="#f9b596"/><circle cx="80.8" cy="-60.4" r="1.75" fill="#e2735b"/><circle cx="77.3" cy="-73.1" r="1.75" fill="#fee0d2"/><circle cx="18.0" cy="75.1" r="1.75" fill="#e2735b"/><circle cx="33.2" cy="85.8" r="1.75" fill="#b81d2f"/><circle cx="74.7" cy="13.0" r="1.75" fill="#fee0d2"/><circle cx="60.0" cy="36.0" r="1.75" fill="#b81d2f"/><circle cx="95.8" cy="-52.7" r="1.75" fill="#fee0d2"/><circle cx="-93.5" cy="-1.4" r="1.75" fill="#f9b596"/><circle cx="-1.4" cy="86.8" r="1.75" fill="#f9b596"/><circle cx="96.9" cy="-45.6" r="1.75" fill="#fee0d2"/><circle cx="5.3" cy="72.6" r="1.75" fill="#f9b596"/><circle cx="98.8" cy="-47.5" r="1.75" fill="#fee0d2"/><circle cx="100.3" cy="-45.4" r="1.75" fill="#fee0d2"/><circle cx="80.3" cy="-50.8" r="1.75" fill="#fee0d2"/><circle cx="46.4" cy="65.9" r="1.75" fill="#fee0d2"/><circle cx="-2.9" cy="82.2" r="1.75" fill="#e2735b"/><circle cx="-99.1" cy="24.0" r="1.75" fill="#f9b596"/><circle cx="6.8" cy="84.2" r="1.75" fill="#e2735b"/><circle cx="-0.3" cy="76.1" r="1.75" fill="#f9b596"/><circle cx="67.1" cy="-78.9" r="1.75" fill="#f9b596"/><circle cx="5.3" cy="87.3" r="1.75" fill="#f9b596"/><circle cx="-0.6" cy="71.9" r="1.75" fill="#f9b596"/><circle cx="-94.5" cy="16.4" r="1.75" fill="#e2735b"/><circle cx="92.3" cy="-46.2" r="1.75" fill="#fee0d2"/><circle cx="58.6" cy="82.7" r="1.75" fill="#e2735b"/><circle cx="-3.5" cy="70.1" r="1.75" fill="#f9b596"/><circle cx="104.5" cy="-41.0" r="1.75" fill="#fee0d2"/><circle cx="62.5" cy="-77.2" r="1.75" fill="#fee0d2"/><circle cx="41.9" cy="54.8" r="1.75" fill="#f9b596"/><circle cx="-88.4" cy="11.3" r="1.75" fill="#f9b596"/><circle cx="100.4" cy="-47.9" r="1.75" fill="#fee0d2"/><circle cx="-90.4" cy="23.0" r="1.75" fill="#f9b596"/><circle cx="30.2" cy="81.2" r="1.75" fill="#b81d2f"/><circle cx="7.3" cy="69.5" r="1.75" fill="#e2735b"/><circle cx="80.7" cy="-50.6" r="1.75" fill="#fee0d2"/><circle cx="103.3" cy="-41.6" r="1.75" fill="#fee0d2"/><circle cx="-101.1" cy="-30.1" r="1.75" fill="#f9b596"/><circle cx="10.8" cy="80.2" r="1.75" fill="#f9b596"/><circle cx="53.5" cy="84.2" r="1.75" fill="#f9b596"/><circle cx="97.8" cy="-48.5" r="1.75" fill="#fee0d2"/><circle cx="66.6" cy="8.3" r="1.75" fill="#fee0d2"/><circle cx="46.9" cy="53.7" r="1.75" fill="#fee0d2"/><circle cx="39.8" cy="51.7" r="1.75" fill="#e2735b"/><circle cx="-109.3" cy="4.7" r="1.75" fill="#f9b596"/><circle cx="81.8" cy="-48.5" r="1.75" fill="#f9b596"/><circle cx="-92.5" cy="26.1" r="1.75" fill="#f9b596"/><circle cx="52.5" cy="62.9" r="1.75" fill="#f9b596"/><circle cx="12.4" cy="73.6" r="1.75" fill="#e2735b"/><circle cx="14.9" cy="70.0" r="1.75" fill="#f9b596"/><circle cx="64.0" cy="19.3" r="1.75" fill="#f9b596"/><circle cx="79.3" cy="-56.9" r="1.75" fill="#fee0d2"/><circle cx="83.6" cy="-47.2" r="1.75" fill="#fee0d2"/><circle cx="9.8" cy="75.1" r="1.75" fill="#f9b596"/><circle cx="35.8" cy="83.2" r="1.75" fill="#f9b596"/><circle cx="-98.1" cy="12.4" r="1.75" fill="#e2735b"/><circle cx="-93.5" cy="11.3" r="1.75" fill="#f9b596"/><circle cx="38.3" cy="65.4" r="1.75" fill="#fee0d2"/><circle cx="95.2" cy="-41.0" r="1.75" fill="#f9b596"/><circle cx="70.6" cy="-52.8" r="1.75" fill="#f9b596"/><circle cx="102.3" cy="-45.5" r="1.75" fill="#f9b596"/><circle cx="-73.5" cy="-40.9" r="1.75" fill="#f9b596"/><circle cx="-96.0" cy="-25.0" r="1.75" fill="#f9b596"/><circle cx="87.9" cy="-37.5" r="1.75" fill="#fee0d2"/><circle cx="-97.1" cy="19.0" r="1.75" fill="#f9b596"/><circle cx="99.5" cy="-40.1" r="1.75" fill="#f9b596"/><circle cx="27.6" cy="65.4" r="1.75" fill="#e2735b"/><circle cx="90.0" cy="29.2" r="1.75" fill="#fee0d2"/><circle cx="78.3" cy="-48.7" r="1.75" fill="#fee0d2"/><circle cx="-84.3" cy="-48.1" r="1.75" fill="#e2735b"/><circle cx="57.1" cy="63.9" r="1.75" fill="#e2735b"/><circle cx="52.0" cy="80.7" r="1.75" fill="#e2735b"/><circle cx="98.1" cy="-53.5" r="1.75" fill="#fee0d2"/><circle cx="-96.5" cy="3.2" r="1.75" fill="#f9b596"/><circle cx="-103.2" cy="-10.7" r="1.75" fill="#f9b596"/><circle cx="101.6" cy="-52.0" r="1.75" fill="#f9b596"/><circle cx="23.6" cy="51.7" r="1.75" fill="#e2735b"/><circle cx="-91.5" cy="1.7" r="1.75" fill="#f9b596"/><circle cx="-65.5" cy="-42.3" r="1.75" fill="#f9b596"/><circle cx="90.0" cy="-48.9" r="1.75" fill="#fee0d2"/><circle cx="85.4" cy="-52.3" r="1.75" fill="#fee0d2"/><circle cx="96.4" cy="-49.4" r="1.75" fill="#fee0d2"/><circle cx="38.3" cy="78.7" r="1.75" fill="#f9b596"/><circle cx="98.1" cy="-52.2" r="1.75" fill="#fee0d2"/><circle cx="-104.2" cy="-13.9" r="1.75" fill="#e2735b"/><circle cx="100.5" cy="-42.5" r="1.75" fill="#fee0d2"/><circle cx="86.2" cy="68.3" r="1.75" fill="#f9b596"/><circle cx="75.2" cy="-74.7" r="1.75" fill="#f9b596"/><circle cx="87.4" cy="-37.1" r="1.75" fill="#f9b596"/><circle cx="26.1" cy="72.0" r="1.75" fill="#f9b596"/><circle cx="98.8" cy="-49.2" r="1.75" fill="#fee0d2"/><circle cx="7.3" cy="74.1" r="1.75" fill="#f9b596"/><circle cx="-74.2" cy="-48.1" r="1.75" fill="#fee0d2"/><circle cx="79.3" cy="-72.6" r="1.75" fill="#fee0d2"/><circle cx="44.9" cy="46.6" r="1.75" fill="#f9b596"/><circle cx="39.3" cy="72.0" r="1.75" fill="#fee0d2"/><circle cx="101.3" cy="-40.4" r="1.75" fill="#fee0d2"/><circle cx="7.3" cy="81.2" r="1.75" fill="#f9b596"/><circle cx="54.1" cy="45.1" r="1.75" fill="#e2735b"/><circle cx="102.2" cy="-46.2" r="1.75" fill="#fee0d2"/><circle cx="-87.4" cy="25.6" r="1.75" fill="#f9b596"/><circle cx="31.2" cy="70.5" r="1.75" fill="#e2735b"/><circle cx="99.8" cy="-45.0" r="1.75" fill="#fee0d2"/><circle cx="-4.6" cy="65.0" r="1.75" fill="#f9b596"/><circle cx="23.6" cy="63.4" r="1.75" fill="#f9b596"/><circle cx="2.7" cy="93.4" r="1.75" fill="#e2735b"/><circle cx="99.5" cy="-57.2" r="1.75" fill="#fee0d2"/><circle cx="-104.0" cy="-39.7" r="1.75" fill="#f9b596"/><circle cx="-100.1" cy="17.4" r="1.75" fill="#f9b596"/><circle cx="-89.9" cy="13.9" r="1.75" fill="#f9b596"/><circle cx="96.2" cy="-53.8" r="1.75" fill="#f9b596"/><circle cx="8.8" cy="85.8" r="1.75" fill="#f9b596"/><circle cx="98.1" cy="-42.1" r="1.75" fill="#fee0d2"/><circle cx="-88.0" cy="-35.3" r="1.75" fill="#f9b596"/><circle cx="102.5" cy="-39.2" r="1.75" fill="#fee0d2"/><circle cx="42.4" cy="72.0" r="1.75" fill="#fee0d2"/><circle cx="103.4" cy="31.5" r="1.75" fill="#fee0d2"/><circle cx="88.7" cy="38.1" r="1.75" fill="#fee0d2"/><circle cx="-113.8" cy="16.9" r="1.75" fill="#e2735b"/><circle cx="-67.3" cy="-37.9" r="1.75" fill="#f9b596"/><circle cx="-111.3" cy="7.3" r="1.75" fill="#e2735b"/><circle cx="-99.1" cy="7.3" r="1.75" fill="#e2735b"/><circle cx="-8.6" cy="70.5" r="1.75" fill="#f9b596"/><circle cx="86.8" cy="-44.8" r="1.75" fill="#fee0d2"/><circle cx="-94.0" cy="19.5" r="1.75" fill="#f9b596"/><circle cx="2.2" cy="88.8" r="1.75" fill="#e2735b"/><circle cx="44.9" cy="61.9" r="1.75" fill="#fee0d2"/><circle cx="109.3" cy="-27.9" r="1.75" fill="#f9b596"/><circle cx="69.9" cy="-74.7" r="1.75" fill="#f9b596"/><circle cx="110.8" cy="26.1" r="1.75" fill="#fee0d2"/><circle cx="12.9" cy="60.4" r="1.75" fill="#fee0d2"/><circle cx="69.9" cy="7.9" r="1.75" fill="#fee0d2"/><circle cx="94.3" cy="-39.8" r="1.75" fill="#fee0d2"/><circle cx="55.9" cy="38.1" r="1.75" fill="#f9b596"/><circle cx="-87.9" cy="17.9" r="1.75" fill="#f9b596"/><circle cx="25.6" cy="68.5" r="1.75" fill="#e2735b"/><circle cx="-14.1" cy="92.6" r="1.75" fill="#e2735b"/><circle cx="101.0" cy="-50.3" r="1.75" fill="#fee0d2"/><circle cx="-110.3" cy="9.8" r="1.75" fill="#f9b596"/><circle cx="101.1" cy="-34.5" r="1.75" fill="#f9b596"/><circle cx="90.3" cy="-48.2" r="1.75" fill="#f9b596"/><circle cx="58.8" cy="32.0" r="1.75" fill="#fee0d2"/><circle cx="81.1" cy="65.2" r="1.75" fill="#f9b596"/><circle cx="-3.5" cy="73.8" r="1.75" fill="#fee0d2"/><circle cx="-0.3" cy="74.5" r="1.75" fill="#fee0d2"/><circle cx="95.8" cy="-43.0" r="1.75" fill="#fee0d2"/><circle cx="45.9" cy="82.2" r="1.75" fill="#e2735b"/><circle cx="81.8" cy="-48.2" r="1.75" fill="#fee0d2"/><circle cx="97.2" cy="-36.0" r="1.75" fill="#fee0d2"/><circle cx="4.2" cy="68.0" r="1.75" fill="#f9b596"/><circle cx="-95.5" cy="5.2" r="1.75" fill="#f9b596"/><circle cx="-69.6" cy="-44.3" r="1.75" fill="#fee0d2"/><circle cx="8.8" cy="78.1" r="1.75" fill="#f9b596"/><circle cx="94.3" cy="-40.2" r="1.75" fill="#f9b596"/><circle cx="8.3" cy="89.3" r="1.75" fill="#e2735b"/><circle cx="-107.7" cy="11.3" r="1.75" fill="#f9b596"/><circle cx="49.0" cy="63.4" r="1.75" fill="#fee0d2"/><circle cx="55.9" cy="-70.1" r="1.75" fill="#f9b596"/><circle cx="-68.6" cy="-30.5" r="1.75" fill="#f9b596"/><circle cx="53.0" cy="51.2" r="1.75" fill="#f9b596"/><circle cx="8.3" cy="67.5" r="1.75" fill="#f9b596"/><circle cx="23.0" cy="76.6" r="1.75" fill="#f9b596"/><circle cx="89.2" cy="29.4" r="1.75" fill="#fee0d2"/><circle cx="19.5" cy="90.3" r="1.75" fill="#f9b596"/><circle cx="97.2" cy="-55.5" r="1.75" fill="#fee0d2"/><circle cx="-110.8" cy="-0.3" r="1.75" fill="#b81d2f"/><circle cx="72.7" cy="-76.2" r="1.75" fill="#f9b596"/><circle cx="19.5" cy="68.0" r="1.75" fill="#f9b596"/><circle cx="-95.8" cy="-8.2" r="1.75" fill="#f9b596"/><circle cx="94.6" cy="-48.2" r="1.75" fill="#fee0d2"/><circle cx="67.1" cy="68.6" r="1.75" fill="#fee0d2"/><circle cx="90.3" cy="-44.2" r="1.75" fill="#fee0d2"/><circle cx="46.4" cy="57.3" r="1.75" fill="#fee0d2"/><circle cx="49.5" cy="43.1" r="1.75" fill="#b81d2f"/><circle cx="96.6" cy="-51.4" r="1.75" fill="#fee0d2"/><circle cx="-103.7" cy="5.8" r="1.75" fill="#f9b596"/><circle cx="-72.7" cy="-37.4" r="1.75" fill="#f9b596"/><circle cx="85.6" cy="28.9" r="1.75" fill="#fee0d2"/><circle cx="83.9" cy="-63.0" r="1.75" fill="#f9b596"/><circle cx="97.7" cy="-47.3" r="1.75" fill="#fee0d2"/><circle cx="89.1" cy="-51.7" r="1.75" fill="#fee0d2"/><circle cx="-83.3" cy="21.0" r="1.75" fill="#f9b596"/><circle cx="100.8" cy="-48.8" r="1.75" fill="#f9b596"/><circle cx="82.3" cy="-51.3" r="1.75" fill="#fee0d2"/><circle cx="98.7" cy="-37.8" r="1.75" fill="#f9b596"/><circle cx="94.7" cy="-48.2" r="1.75" fill="#fee0d2"/><circle cx="21.5" cy="74.1" r="1.75" fill="#f9b596"/><circle cx="88.7" cy="52.3" r="1.75" fill="#f9b596"/><circle cx="52.0" cy="40.0" r="1.75" fill="#f9b596"/><circle cx="56.1" cy="-56.4" r="1.75" fill="#f9b596"/><circle cx="108.8" cy="-31.0" r="1.75" fill="#f9b596"/><circle cx="94.6" cy="-54.6" r="1.75" fill="#fee0d2"/><circle cx="-114.8" cy="9.3" r="1.75" fill="#f9b596"/><circle cx="3.2" cy="75.6" r="1.75" fill="#f9b596"/><circle cx="91.4" cy="-39.8" r="1.75" fill="#fee0d2"/><circle cx="11.9" cy="77.6" r="1.75" fill="#e2735b"/><circle cx="14.4" cy="83.7" r="1.75" fill="#f9b596"/><circle cx="43.4" cy="68.0" r="1.75" fill="#fee0d2"/><circle cx="65.1" cy="65.7" r="1.75" fill="#f9b596"/><circle cx="65.6" cy="-75.7" r="1.75" fill="#fee0d2"/><circle cx="23.0" cy="81.7" r="1.75" fill="#e2735b"/><circle cx="91.8" cy="35.7" r="1.75" fill="#f9b596"/><circle cx="77.1" cy="-23.3" r="1.75" fill="#fee0d2"/><circle cx="62.8" cy="-53.5" r="1.75" fill="#fee0d2"/><circle cx="-4.9" cy="89.3" r="1.75" fill="#b81d2f"/><circle cx="105.4" cy="-45.9" r="1.75" fill="#fee0d2"/><circle cx="92.3" cy="-52.0" r="1.75" fill="#fee0d2"/><circle cx="-114.5" cy="-2.4" r="1.75" fill="#b81d2f"/><circle cx="86.9" cy="-42.1" r="1.75" fill="#fee0d2"/><circle cx="-76.7" cy="-9.5" r="1.75" fill="#f9b596"/><circle cx="46.2" cy="83.9" r="1.75" fill="#e2735b"/><circle cx="-2.1" cy="67.6" r="1.75" fill="#fee0d2"/><circle cx="95.8" cy="-38.4" r="1.75" fill="#fee0d2"/><circle cx="99.3" cy="-50.3" r="1.75" fill="#fee0d2"/><circle cx="-95.5" cy="0.7" r="1.75" fill="#f9b596"/><circle cx="-89.9" cy="20.0" r="1.75" fill="#f9b596"/><circle cx="85.9" cy="-52.3" r="1.75" fill="#fee0d2"/><circle cx="16.4" cy="86.8" r="1.75" fill="#e2735b"/><circle cx="82.7" cy="-50.9" r="1.75" fill="#fee0d2"/><circle cx="-97.1" cy="9.3" r="1.75" fill="#e2735b"/><circle cx="101.7" cy="-31.5" r="1.75" fill="#fee0d2"/><circle cx="-98.6" cy="21.5" r="1.75" fill="#f9b596"/><circle cx="95.1" cy="-49.0" r="1.75" fill="#fee0d2"/><circle cx="4.2" cy="84.8" r="1.75" fill="#f9b596"/><circle cx="-93.0" cy="14.4" r="1.75" fill="#f9b596"/><circle cx="94.3" cy="-56.7" r="1.75" fill="#fee0d2"/><circle cx="-106.7" cy="-16.1" r="1.75" fill="#f9b596"/><circle cx="28.6" cy="49.2" r="1.75" fill="#e2735b"/><circle cx="-108.7" cy="-13.6" r="1.75" fill="#f9b596"/><circle cx="18.0" cy="78.1" r="1.75" fill="#f9b596"/><circle cx="83.6" cy="-47.4" r="1.75" fill="#fee0d2"/><circle cx="93.4" cy="-48.8" r="1.75" fill="#f9b596"/><circle cx="-106.2" cy="-4.9" r="1.75" fill="#e2735b"/><circle cx="97.7" cy="-43.4" r="1.75" fill="#fee0d2"/><circle cx="94.0" cy="-51.4" r="1.75" fill="#fee0d2"/><circle cx="95.8" cy="-47.4" r="1.75" fill="#fee0d2"/><circle cx="25.6" cy="57.3" r="1.75" fill="#e2735b"/><circle cx="-89.4" cy="9.3" r="1.75" fill="#f9b596"/><circle cx="95.2" cy="-53.5" r="1.75" fill="#f9b596"/><circle cx="-110.8" cy="-7.5" r="1.75" fill="#f9b596"/><circle cx="87.2" cy="33.0" r="1.75" fill="#f9b596"/><circle cx="98.1" cy="-59.3" r="1.75" fill="#fee0d2"/><circle cx="-97.6" cy="-8.0" r="1.75" fill="#f9b596"/><circle cx="15.9" cy="73.1" r="1.75" fill="#f9b596"/><circle cx="-114.5" cy="2.2" r="1.75" fill="#f9b596"/><circle cx="86.9" cy="24.1" r="1.75" fill="#fee0d2"/><circle cx="55.2" cy="31.3" r="1.75" fill="#f9b596"/><circle cx="-109.8" cy="12.4" r="1.75" fill="#e2735b"/><circle cx="-71.9" cy="-42.0" r="1.75" fill="#fee0d2"/><circle cx="18.0" cy="55.8" r="1.75" fill="#e2735b"/><circle cx="77.1" cy="-50.8" r="1.75" fill="#f9b596"/><circle cx="-115.4" cy="-8.2" r="1.75" fill="#e2735b"/><circle cx="103.9" cy="-48.5" r="1.75" fill="#fee0d2"/><circle cx="48.0" cy="72.0" r="1.75" fill="#fee0d2"/><circle cx="-86.6" cy="-5.1" r="1.75" fill="#f9b596"/><circle cx="70.1" cy="-18.2" r="1.75" fill="#e2735b"/><circle cx="-114.3" cy="5.8" r="1.75" fill="#f9b596"/><circle cx="-112.8" cy="-15.1" r="1.75" fill="#f9b596"/><circle cx="88.2" cy="-48.5" r="1.75" fill="#fee0d2"/><circle cx="18.5" cy="72.0" r="1.75" fill="#f9b596"/><circle cx="-87.9" cy="22.0" r="1.75" fill="#f9b596"/><circle cx="36.8" cy="87.3" r="1.75" fill="#e2735b"/></g>
</g>
<g transform="translate(158.0,631.3)">
<g transform="scale(1.0043)"><use href="#base"/></g>
<g transform="scale(1.0043)"><use href="#rim"/></g>
<g stroke="#111" stroke-width="0.6"><circle cx="96.6" cy="-45.8" r="1.75" fill="#fee0d2"/><circle cx="2.2" cy="79.6" r="1.75" fill="#fee0d2"/><circle cx="-91.4" cy="16.5" r="1.75" fill="#fee0d2"/><circle cx="52.3" cy="88.3" r="1.75" fill="#fee0d2"/><circle cx="101.5" cy="-42.9" r="1.75" fill="#fee0d2"/><circle cx="103.3" cy="-44.1" r="1.75" fill="#fee0d2"/><circle cx="21.1" cy="64.8" r="1.75" fill="#fee0d2"/><circle cx="-92.5" cy="8.8" r="1.75" fill="#fee0d2"/><circle cx="-82.7" cy="24.2" r="1.75" fill="#f6a98a"/><circle cx="4.3" cy="80.6" r="1.75" fill="#fee0d2"/><circle cx="54.3" cy="67.3" r="1.75" fill="#fee0d2"/><circle cx="-106.2" cy="0.2" r="1.75" fill="#fee0d2"/><circle cx="-80.5" cy="-39.6" r="1.75" fill="#fee0d2"/><circle cx="-93.0" cy="21.6" r="1.75" fill="#fee0d2"/><circle cx="83.8" cy="-72.5" r="1.75" fill="#f6a98a"/><circle cx="91.6" cy="-50.2" r="1.75" fill="#fee0d2"/><circle cx="-72.3" cy="-46.3" r="1.75" fill="#fee0d2"/><circle cx="94.5" cy="-44.7" r="1.75" fill="#fee0d2"/><circle cx="10.9" cy="85.7" r="1.75" fill="#f6a98a"/><circle cx="-108.1" cy="-32.0" r="1.75" fill="#fee0d2"/><circle cx="1.2" cy="72.4" r="1.75" fill="#fee0d2"/><circle cx="73.6" cy="-51.0" r="1.75" fill="#fee0d2"/><circle cx="17.5" cy="69.4" r="1.75" fill="#fee0d2"/><circle cx="-96.5" cy="14.0" r="1.75" fill="#fee0d2"/><circle cx="70.0" cy="-22.1" r="1.75" fill="#fee0d2"/><circle cx="12.4" cy="83.7" r="1.75" fill="#f6a98a"/><circle cx="-94.3" cy="-24.9" r="1.75" fill="#f6a98a"/><circle cx="-67.2" cy="-42.7" r="1.75" fill="#f6a98a"/><circle cx="-91.4" cy="26.7" r="1.75" fill="#c5c5e6"/><circle cx="23.5" cy="91.8" r="1.75" fill="#d9614c"/><circle cx="-91.4" cy="12.4" r="1.75" fill="#fee0d2"/><circle cx="55.9" cy="56.6" r="1.75" fill="#fee0d2"/><circle cx="106.5" cy="-43.5" r="1.75" fill="#fee0d2"/><circle cx="-64.7" cy="-28.1" r="1.75" fill="#fee0d2"/><circle cx="-111.4" cy="-10.6" r="1.75" fill="#fee0d2"/><circle cx="-106.2" cy="8.8" r="1.75" fill="#fee0d2"/><circle cx="51.1" cy="34.2" r="1.75" fill="#fee0d2"/><circle cx="95.7" cy="-43.9" r="1.75" fill="#fee0d2"/><circle cx="70.5" cy="-79.1" r="1.75" fill="#f6a98a"/><circle cx="26.7" cy="77.5" r="1.75" fill="#fee0d2"/><circle cx="-93.5" cy="4.2" r="1.75" fill="#fee0d2"/><circle cx="68.3" cy="-50.5" r="1.75" fill="#fee0d2"/><circle cx="1.7" cy="69.4" r="1.75" fill="#fee0d2"/><circle cx="65.4" cy="-3.1" r="1.75" fill="#fee0d2"/><circle cx="22.7" cy="68.8" r="1.75" fill="#fee0d2"/><circle cx="63.6" cy="39.0" r="1.75" fill="#fee0d2"/><circle cx="86.3" cy="-45.4" r="1.75" fill="#fee0d2"/><circle cx="9.4" cy="82.6" r="1.75" fill="#fee0d2"/><circle cx="92.9" cy="-53.0" r="1.75" fill="#fee0d2"/><circle cx="-100.6" cy="4.2" r="1.75" fill="#fee0d2"/><circle cx="88.9" cy="-34.7" r="1.75" fill="#fee0d2"/><circle cx="45.1" cy="69.9" r="1.75" fill="#fee0d2"/><circle cx="-88.4" cy="29.8" r="1.75" fill="#fee0d2"/><circle cx="14.0" cy="80.1" r="1.75" fill="#fee0d2"/><circle cx="-81.2" cy="-27.2" r="1.75" fill="#fee0d2"/><circle cx="14.0" cy="75.5" r="1.75" fill="#fee0d2"/><circle cx="-92.2" cy="-24.7" r="1.75" fill="#fee0d2"/><circle cx="-87.9" cy="2.7" r="1.75" fill="#fee0d2"/><circle cx="-96.0" cy="22.1" r="1.75" fill="#fee0d2"/><circle cx="29.3" cy="67.8" r="1.75" fill="#fee0d2"/><circle cx="93.4" cy="-42.9" r="1.75" fill="#fee0d2"/><circle cx="-89.9" cy="28.8" r="1.75" fill="#fee0d2"/><circle cx="89.4" cy="-32.1" r="1.75" fill="#fee0d2"/><circle cx="24.7" cy="74.5" r="1.75" fill="#fee0d2"/><circle cx="87.7" cy="20.4" r="1.75" fill="#f6a98a"/><circle cx="-99.6" cy="-0.4" r="1.75" fill="#fee0d2"/><circle cx="67.9" cy="-46.1" r="1.75" fill="#fee0d2"/><circle cx="99.5" cy="-47.0" r="1.75" fill="#fee0d2"/><circle cx="81.7" cy="-64.3" r="1.75" fill="#f6a98a"/><circle cx="-109.8" cy="-18.7" r="1.75" fill="#fee0d2"/><circle cx="81.2" cy="-66.9" r="1.75" fill="#f6a98a"/><circle cx="11.9" cy="69.4" r="1.75" fill="#fee0d2"/><circle cx="84.6" cy="-45.0" r="1.75" fill="#fee0d2"/><circle cx="100.6" cy="-20.9" r="1.75" fill="#f6a98a"/><circle cx="-79.2" cy="26.5" r="1.75" fill="#f6a98a"/><circle cx="16.5" cy="79.1" r="1.75" fill="#fee0d2"/><circle cx="89.0" cy="-42.1" r="1.75" fill="#fee0d2"/><circle cx="88.4" cy="-40.3" r="1.75" fill="#fee0d2"/><circle cx="-95.0" cy="8.3" r="1.75" fill="#fee0d2"/><circle cx="21.6" cy="71.9" r="1.75" fill="#fee0d2"/><circle cx="100.6" cy="-24.5" r="1.75" fill="#f6a98a"/><circle cx="92.8" cy="-38.3" r="1.75" fill="#f6a98a"/><circle cx="-7.2" cy="68.3" r="1.75" fill="#fee0d2"/><circle cx="10.6" cy="57.3" r="1.75" fill="#f6a98a"/><circle cx="43.1" cy="52.0" r="1.75" fill="#fee0d2"/><circle cx="9.4" cy="71.4" r="1.75" fill="#fee0d2"/><circle cx="-70.2" cy="-21.0" r="1.75" fill="#fee0d2"/><circle cx="66.7" cy="61.5" r="1.75" fill="#fee0d2"/><circle cx="-92.5" cy="5.8" r="1.75" fill="#fee0d2"/><circle cx="-90.4" cy="5.8" r="1.75" fill="#fee0d2"/><circle cx="93.4" cy="-45.4" r="1.75" fill="#fee0d2"/><circle cx="87.9" cy="-51.0" r="1.75" fill="#fee0d2"/><circle cx="17.0" cy="84.7" r="1.75" fill="#f6a98a"/><circle cx="14.0" cy="64.8" r="1.75" fill="#fee0d2"/><circle cx="82.3" cy="-71.0" r="1.75" fill="#fee0d2"/><circle cx="96.9" cy="-57.5" r="1.75" fill="#fee0d2"/><circle cx="72.5" cy="61.8" r="1.75" fill="#fee0d2"/><circle cx="5.8" cy="78.0" r="1.75" fill="#fee0d2"/><circle cx="71.0" cy="24.0" r="1.75" fill="#f6a98a"/><circle cx="15.0" cy="77.0" r="1.75" fill="#fee0d2"/><circle cx="81.2" cy="-60.8" r="1.75" fill="#f6a98a"/><circle cx="77.7" cy="-73.5" r="1.75" fill="#fee0d2"/><circle cx="18.1" cy="75.5" r="1.75" fill="#fee0d2"/><circle cx="33.4" cy="86.2" r="1.75" fill="#f6a98a"/><circle cx="75.1" cy="13.0" r="1.75" fill="#f6a98a"/><circle cx="60.3" cy="36.2" r="1.75" fill="#fee0d2"/><circle cx="96.3" cy="-53.0" r="1.75" fill="#fee0d2"/><circle cx="-94.0" cy="-1.4" r="1.75" fill="#fee0d2"/><circle cx="-1.4" cy="87.2" r="1.75" fill="#fee0d2"/><circle cx="97.4" cy="-45.9" r="1.75" fill="#fee0d2"/><circle cx="5.3" cy="72.9" r="1.75" fill="#fee0d2"/><circle cx="99.3" cy="-47.8" r="1.75" fill="#fee0d2"/><circle cx="100.8" cy="-45.7" r="1.75" fill="#fee0d2"/><circle cx="80.7" cy="-51.0" r="1.75" fill="#c5c5e6"/><circle cx="46.7" cy="66.3" r="1.75" fill="#fee0d2"/><circle cx="-2.9" cy="82.6" r="1.75" fill="#fee0d2"/><circle cx="-99.6" cy="24.2" r="1.75" fill="#fee0d2"/><circle cx="6.8" cy="84.7" r="1.75" fill="#f6a98a"/><circle cx="-0.3" cy="76.5" r="1.75" fill="#fee0d2"/><circle cx="67.4" cy="-79.4" r="1.75" fill="#f6a98a"/><circle cx="5.3" cy="87.8" r="1.75" fill="#f6a98a"/><circle cx="-0.6" cy="72.3" r="1.75" fill="#fee0d2"/><circle cx="-95.0" cy="16.5" r="1.75" fill="#fee0d2"/><circle cx="92.8" cy="-46.4" r="1.75" fill="#fee0d2"/><circle cx="58.9" cy="83.2" r="1.75" fill="#fee0d2"/><circle cx="-3.5" cy="70.5" r="1.75" fill="#fee0d2"/><circle cx="105.0" cy="-41.2" r="1.75" fill="#fee0d2"/><circle cx="62.8" cy="-77.6" r="1.75" fill="#fee0d2"/><circle cx="42.1" cy="55.1" r="1.75" fill="#fee0d2"/><circle cx="-88.9" cy="11.4" r="1.75" fill="#fee0d2"/><circle cx="100.9" cy="-48.2" r="1.75" fill="#fee0d2"/><circle cx="-90.9" cy="23.2" r="1.75" fill="#f6a98a"/><circle cx="30.3" cy="81.6" r="1.75" fill="#fee0d2"/><circle cx="7.3" cy="69.9" r="1.75" fill="#fee0d2"/><circle cx="81.1" cy="-50.8" r="1.75" fill="#c5c5e6"/><circle cx="103.9" cy="-41.8" r="1.75" fill="#fee0d2"/><circle cx="-101.6" cy="-30.2" r="1.75" fill="#fee0d2"/><circle cx="10.9" cy="80.6" r="1.75" fill="#fee0d2"/><circle cx="53.8" cy="84.7" r="1.75" fill="#fee0d2"/><circle cx="98.3" cy="-48.8" r="1.75" fill="#fee0d2"/><circle cx="66.9" cy="8.3" r="1.75" fill="#fee0d2"/><circle cx="47.2" cy="54.0" r="1.75" fill="#fee0d2"/><circle cx="40.0" cy="52.0" r="1.75" fill="#fee0d2"/><circle cx="-109.8" cy="4.8" r="1.75" fill="#fee0d2"/><circle cx="82.3" cy="-48.8" r="1.75" fill="#fee0d2"/><circle cx="-93.0" cy="26.2" r="1.75" fill="#f6a98a"/><circle cx="52.8" cy="63.2" r="1.75" fill="#fee0d2"/><circle cx="12.4" cy="74.0" r="1.75" fill="#fee0d2"/><circle cx="15.0" cy="70.4" r="1.75" fill="#fee0d2"/><circle cx="64.4" cy="19.4" r="1.75" fill="#fee0d2"/><circle cx="79.7" cy="-57.2" r="1.75" fill="#fee0d2"/><circle cx="84.0" cy="-47.5" r="1.75" fill="#f6a98a"/><circle cx="9.9" cy="75.5" r="1.75" fill="#fee0d2"/><circle cx="35.9" cy="83.7" r="1.75" fill="#f6a98a"/><circle cx="-98.6" cy="12.4" r="1.75" fill="#fee0d2"/><circle cx="-94.0" cy="11.4" r="1.75" fill="#fee0d2"/><circle cx="38.5" cy="65.8" r="1.75" fill="#fee0d2"/><circle cx="95.7" cy="-41.2" r="1.75" fill="#fee0d2"/><circle cx="71.0" cy="-53.1" r="1.75" fill="#f6a98a"/><circle cx="102.8" cy="-45.7" r="1.75" fill="#fee0d2"/><circle cx="-73.9" cy="-41.2" r="1.75" fill="#fee0d2"/><circle cx="-96.5" cy="-25.1" r="1.75" fill="#d9614c"/><circle cx="88.4" cy="-37.7" r="1.75" fill="#fee0d2"/><circle cx="-97.6" cy="19.1" r="1.75" fill="#fee0d2"/><circle cx="100.1" cy="-40.3" r="1.75" fill="#fee0d2"/><circle cx="27.8" cy="65.8" r="1.75" fill="#fee0d2"/><circle cx="90.4" cy="29.4" r="1.75" fill="#fee0d2"/><circle cx="78.7" cy="-49.0" r="1.75" fill="#fee0d2"/><circle cx="-84.8" cy="-48.3" r="1.75" fill="#f6a98a"/><circle cx="57.4" cy="64.2" r="1.75" fill="#fee0d2"/><circle cx="52.3" cy="81.1" r="1.75" fill="#fee0d2"/><circle cx="98.6" cy="-53.7" r="1.75" fill="#fee0d2"/><circle cx="-97.1" cy="3.2" r="1.75" fill="#fee0d2"/><circle cx="-103.7" cy="-10.8" r="1.75" fill="#fee0d2"/><circle cx="102.1" cy="-52.3" r="1.75" fill="#fee0d2"/><circle cx="23.7" cy="52.0" r="1.75" fill="#fee0d2"/><circle cx="-91.9" cy="1.7" r="1.75" fill="#fee0d2"/><circle cx="-65.9" cy="-42.5" r="1.75" fill="#f6a98a"/><circle cx="90.4" cy="-49.1" r="1.75" fill="#fee0d2"/><circle cx="85.8" cy="-52.6" r="1.75" fill="#fee0d2"/><circle cx="96.9" cy="-49.7" r="1.75" fill="#fee0d2"/><circle cx="38.5" cy="79.1" r="1.75" fill="#fee0d2"/><circle cx="98.6" cy="-52.5" r="1.75" fill="#fee0d2"/><circle cx="-104.7" cy="-13.9" r="1.75" fill="#fee0d2"/><circle cx="101.0" cy="-42.7" r="1.75" fill="#fee0d2"/><circle cx="86.6" cy="68.6" r="1.75" fill="#fee0d2"/><circle cx="75.6" cy="-75.1" r="1.75" fill="#f6a98a"/><circle cx="87.9" cy="-37.2" r="1.75" fill="#fee0d2"/><circle cx="26.2" cy="72.4" r="1.75" fill="#fee0d2"/><circle cx="99.4" cy="-49.4" r="1.75" fill="#fee0d2"/><circle cx="7.3" cy="74.5" r="1.75" fill="#fee0d2"/><circle cx="-74.6" cy="-48.3" r="1.75" fill="#fee0d2"/><circle cx="79.7" cy="-73.0" r="1.75" fill="#fee0d2"/><circle cx="45.1" cy="46.9" r="1.75" fill="#fee0d2"/><circle cx="39.5" cy="72.4" r="1.75" fill="#fee0d2"/><circle cx="101.8" cy="-40.6" r="1.75" fill="#fee0d2"/><circle cx="7.3" cy="81.6" r="1.75" fill="#fee0d2"/><circle cx="54.3" cy="45.3" r="1.75" fill="#fee0d2"/><circle cx="102.7" cy="-46.4" r="1.75" fill="#fee0d2"/><circle cx="-87.9" cy="25.7" r="1.75" fill="#fee0d2"/><circle cx="31.3" cy="70.9" r="1.75" fill="#fee0d2"/><circle cx="100.4" cy="-45.3" r="1.75" fill="#fee0d2"/><circle cx="-4.6" cy="65.4" r="1.75" fill="#fee0d2"/><circle cx="23.7" cy="63.7" r="1.75" fill="#fee0d2"/><circle cx="2.7" cy="93.9" r="1.75" fill="#f6a98a"/><circle cx="100.1" cy="-57.5" r="1.75" fill="#fee0d2"/><circle cx="-104.5" cy="-39.9" r="1.75" fill="#fee0d2"/><circle cx="-100.6" cy="17.5" r="1.75" fill="#fee0d2"/><circle cx="-90.4" cy="14.0" r="1.75" fill="#f6a98a"/><circle cx="96.7" cy="-54.1" r="1.75" fill="#fee0d2"/><circle cx="8.9" cy="86.2" r="1.75" fill="#f6a98a"/><circle cx="98.6" cy="-42.4" r="1.75" fill="#fee0d2"/><circle cx="-88.5" cy="-35.5" r="1.75" fill="#f6a98a"/><circle cx="103.0" cy="-39.4" r="1.75" fill="#fee0d2"/><circle cx="42.6" cy="72.4" r="1.75" fill="#fee0d2"/><circle cx="103.9" cy="31.6" r="1.75" fill="#f6a98a"/><circle cx="89.2" cy="38.3" r="1.75" fill="#fee0d2"/><circle cx="-114.4" cy="17.0" r="1.75" fill="#fee0d2"/><circle cx="-67.6" cy="-38.1" r="1.75" fill="#f6a98a"/><circle cx="-111.9" cy="7.3" r="1.75" fill="#fee0d2"/><circle cx="-99.6" cy="7.3" r="1.75" fill="#fee0d2"/><circle cx="-8.7" cy="70.9" r="1.75" fill="#fee0d2"/><circle cx="87.2" cy="-45.0" r="1.75" fill="#fee0d2"/><circle cx="-94.5" cy="19.6" r="1.75" fill="#fee0d2"/><circle cx="2.2" cy="89.3" r="1.75" fill="#fee0d2"/><circle cx="45.1" cy="62.2" r="1.75" fill="#fee0d2"/><circle cx="109.8" cy="-28.1" r="1.75" fill="#fee0d2"/><circle cx="70.3" cy="-75.1" r="1.75" fill="#fee0d2"/><circle cx="111.4" cy="26.2" r="1.75" fill="#fee0d2"/><circle cx="12.9" cy="60.7" r="1.75" fill="#fee0d2"/><circle cx="70.3" cy="7.9" r="1.75" fill="#fee0d2"/><circle cx="94.8" cy="-40.0" r="1.75" fill="#fee0d2"/><circle cx="56.2" cy="38.3" r="1.75" fill="#fee0d2"/><circle cx="-88.4" cy="18.0" r="1.75" fill="#fee0d2"/><circle cx="25.7" cy="68.8" r="1.75" fill="#fee0d2"/><circle cx="-14.1" cy="93.1" r="1.75" fill="#fee0d2"/><circle cx="101.5" cy="-50.5" r="1.75" fill="#fee0d2"/><circle cx="-110.8" cy="9.9" r="1.75" fill="#fee0d2"/><circle cx="101.7" cy="-34.7" r="1.75" fill="#f6a98a"/><circle cx="90.7" cy="-48.5" r="1.75" fill="#fee0d2"/><circle cx="59.1" cy="32.1" r="1.75" fill="#fee0d2"/><circle cx="81.5" cy="65.6" r="1.75" fill="#fee0d2"/><circle cx="-3.5" cy="74.1" r="1.75" fill="#fee0d2"/><circle cx="-0.3" cy="74.9" r="1.75" fill="#fee0d2"/><circle cx="96.3" cy="-43.2" r="1.75" fill="#fee0d2"/><circle cx="46.2" cy="82.6" r="1.75" fill="#fee0d2"/><circle cx="82.3" cy="-48.5" r="1.75" fill="#fee0d2"/><circle cx="97.7" cy="-36.2" r="1.75" fill="#f6a98a"/><circle cx="4.3" cy="68.3" r="1.75" fill="#fee0d2"/><circle cx="-96.0" cy="5.3" r="1.75" fill="#fee0d2"/><circle cx="-70.0" cy="-44.5" r="1.75" fill="#fee0d2"/><circle cx="8.9" cy="78.6" r="1.75" fill="#fee0d2"/><circle cx="94.8" cy="-40.4" r="1.75" fill="#fee0d2"/><circle cx="8.4" cy="89.8" r="1.75" fill="#f6a98a"/><circle cx="-108.3" cy="11.4" r="1.75" fill="#fee0d2"/><circle cx="49.2" cy="63.7" r="1.75" fill="#fee0d2"/><circle cx="56.2" cy="-70.5" r="1.75" fill="#f6a98a"/><circle cx="-68.9" cy="-30.6" r="1.75" fill="#f6a98a"/><circle cx="53.3" cy="51.5" r="1.75" fill="#fee0d2"/><circle cx="8.4" cy="67.8" r="1.75" fill="#fee0d2"/><circle cx="23.2" cy="77.0" r="1.75" fill="#fee0d2"/><circle cx="89.7" cy="29.6" r="1.75" fill="#c5c5e6"/><circle cx="19.6" cy="90.8" r="1.75" fill="#d9614c"/><circle cx="97.7" cy="-55.8" r="1.75" fill="#fee0d2"/><circle cx="-111.4" cy="-0.4" r="1.75" fill="#fee0d2"/><circle cx="73.1" cy="-76.6" r="1.75" fill="#f6a98a"/><circle cx="19.6" cy="68.3" r="1.75" fill="#fee0d2"/><circle cx="-96.3" cy="-8.2" r="1.75" fill="#fee0d2"/><circle cx="95.0" cy="-48.4" r="1.75" fill="#fee0d2"/><circle cx="67.4" cy="68.9" r="1.75" fill="#fee0d2"/><circle cx="90.7" cy="-44.4" r="1.75" fill="#fee0d2"/><circle cx="46.7" cy="57.6" r="1.75" fill="#fee0d2"/><circle cx="49.7" cy="43.3" r="1.75" fill="#fee0d2"/><circle cx="97.1" cy="-51.7" r="1.75" fill="#fee0d2"/><circle cx="-104.2" cy="5.8" r="1.75" fill="#fee0d2"/><circle cx="-73.0" cy="-37.6" r="1.75" fill="#fee0d2"/><circle cx="86.0" cy="29.1" r="1.75" fill="#fee0d2"/><circle cx="84.3" cy="-63.3" r="1.75" fill="#f6a98a"/><circle cx="98.2" cy="-47.6" r="1.75" fill="#fee0d2"/><circle cx="89.6" cy="-52.0" r="1.75" fill="#fee0d2"/><circle cx="-83.8" cy="21.1" r="1.75" fill="#fee0d2"/><circle cx="101.3" cy="-49.0" r="1.75" fill="#fee0d2"/><circle cx="82.8" cy="-51.6" r="1.75" fill="#fee0d2"/><circle cx="99.2" cy="-38.0" r="1.75" fill="#fee0d2"/><circle cx="95.2" cy="-48.4" r="1.75" fill="#fee0d2"/><circle cx="21.6" cy="74.5" r="1.75" fill="#fee0d2"/><circle cx="89.2" cy="52.6" r="1.75" fill="#fee0d2"/><circle cx="52.3" cy="40.2" r="1.75" fill="#fee0d2"/><circle cx="56.4" cy="-56.7" r="1.75" fill="#fee0d2"/><circle cx="109.3" cy="-31.1" r="1.75" fill="#fee0d2"/><circle cx="95.1" cy="-54.9" r="1.75" fill="#fee0d2"/><circle cx="-115.4" cy="9.4" r="1.75" fill="#fee0d2"/><circle cx="3.2" cy="76.0" r="1.75" fill="#fee0d2"/><circle cx="91.9" cy="-40.0" r="1.75" fill="#f6a98a"/><circle cx="11.9" cy="78.0" r="1.75" fill="#fee0d2"/><circle cx="14.5" cy="84.2" r="1.75" fill="#d9614c"/><circle cx="43.6" cy="68.3" r="1.75" fill="#fee0d2"/><circle cx="65.4" cy="66.1" r="1.75" fill="#fee0d2"/><circle cx="65.9" cy="-76.1" r="1.75" fill="#fee0d2"/><circle cx="23.2" cy="82.1" r="1.75" fill="#f6a98a"/><circle cx="92.3" cy="35.9" r="1.75" fill="#fee0d2"/><circle cx="77.5" cy="-23.5" r="1.75" fill="#f6a98a"/><circle cx="63.1" cy="-53.8" r="1.75" fill="#fee0d2"/><circle cx="-4.9" cy="89.8" r="1.75" fill="#f6a98a"/><circle cx="105.9" cy="-46.2" r="1.75" fill="#fee0d2"/><circle cx="92.8" cy="-52.3" r="1.75" fill="#fee0d2"/><circle cx="-115.1" cy="-2.4" r="1.75" fill="#fee0d2"/><circle cx="87.4" cy="-42.4" r="1.75" fill="#fee0d2"/><circle cx="-77.1" cy="-9.5" r="1.75" fill="#fee0d2"/><circle cx="46.5" cy="84.4" r="1.75" fill="#d9614c"/><circle cx="-2.1" cy="67.9" r="1.75" fill="#fee0d2"/><circle cx="96.3" cy="-38.6" r="1.75" fill="#fee0d2"/><circle cx="99.8" cy="-50.5" r="1.75" fill="#fee0d2"/><circle cx="-96.0" cy="0.7" r="1.75" fill="#fee0d2"/><circle cx="-90.4" cy="20.1" r="1.75" fill="#fee0d2"/><circle cx="86.3" cy="-52.6" r="1.75" fill="#fee0d2"/><circle cx="16.5" cy="87.2" r="1.75" fill="#f6a98a"/><circle cx="83.1" cy="-51.1" r="1.75" fill="#fee0d2"/><circle cx="-97.6" cy="9.4" r="1.75" fill="#fee0d2"/><circle cx="102.2" cy="-31.6" r="1.75" fill="#f6a98a"/><circle cx="-99.1" cy="21.6" r="1.75" fill="#fee0d2"/><circle cx="95.6" cy="-49.2" r="1.75" fill="#fee0d2"/><circle cx="4.3" cy="85.2" r="1.75" fill="#f6a98a"/><circle cx="-93.5" cy="14.5" r="1.75" fill="#fee0d2"/><circle cx="94.8" cy="-57.0" r="1.75" fill="#c5c5e6"/><circle cx="-107.3" cy="-16.2" r="1.75" fill="#fee0d2"/><circle cx="28.8" cy="49.4" r="1.75" fill="#fee0d2"/><circle cx="-109.3" cy="-13.6" r="1.75" fill="#fee0d2"/><circle cx="18.1" cy="78.6" r="1.75" fill="#fee0d2"/><circle cx="84.0" cy="-47.6" r="1.75" fill="#f6a98a"/><circle cx="93.9" cy="-49.1" r="1.75" fill="#fee0d2"/><circle cx="-106.8" cy="-4.9" r="1.75" fill="#fee0d2"/><circle cx="98.2" cy="-43.6" r="1.75" fill="#fee0d2"/><circle cx="94.5" cy="-51.7" r="1.75" fill="#f6a98a"/><circle cx="96.3" cy="-47.6" r="1.75" fill="#fee0d2"/><circle cx="25.7" cy="57.6" r="1.75" fill="#fee0d2"/><circle cx="-89.9" cy="9.4" r="1.75" fill="#fee0d2"/><circle cx="95.7" cy="-53.7" r="1.75" fill="#fee0d2"/><circle cx="-111.4" cy="-7.5" r="1.75" fill="#fee0d2"/><circle cx="87.7" cy="33.2" r="1.75" fill="#fee0d2"/><circle cx="98.6" cy="-59.6" r="1.75" fill="#fee0d2"/><circle cx="-98.1" cy="-8.0" r="1.75" fill="#fee0d2"/><circle cx="16.0" cy="73.4" r="1.75" fill="#fee0d2"/><circle cx="-115.1" cy="2.2" r="1.75" fill="#fee0d2"/><circle cx="87.4" cy="24.3" r="1.75" fill="#fee0d2"/><circle cx="55.5" cy="31.4" r="1.75" fill="#fee0d2"/><circle cx="-110.3" cy="12.4" r="1.75" fill="#fee0d2"/><circle cx="-72.3" cy="-42.2" r="1.75" fill="#fee0d2"/><circle cx="18.1" cy="56.1" r="1.75" fill="#fee0d2"/><circle cx="77.5" cy="-51.0" r="1.75" fill="#f6a98a"/><circle cx="-116.0" cy="-8.2" r="1.75" fill="#fee0d2"/><circle cx="104.4" cy="-48.8" r="1.75" fill="#fee0d2"/><circle cx="48.2" cy="72.4" r="1.75" fill="#fee0d2"/><circle cx="-87.0" cy="-5.2" r="1.75" fill="#fee0d2"/><circle cx="70.5" cy="-18.3" r="1.75" fill="#f6a98a"/><circle cx="-114.9" cy="5.8" r="1.75" fill="#fee0d2"/><circle cx="-113.4" cy="-15.2" r="1.75" fill="#fee0d2"/><circle cx="88.7" cy="-48.8" r="1.75" fill="#fee0d2"/><circle cx="18.6" cy="72.4" r="1.75" fill="#fee0d2"/><circle cx="-88.4" cy="22.1" r="1.75" fill="#fee0d2"/><circle cx="37.0" cy="87.8" r="1.75" fill="#f6a98a"/></g>
</g>
<g transform="translate(511.5,630.4)">
<g transform="scale(0.9983)"><use href="#base"/></g>
<g transform="scale(0.9983)"><use href="#rim"/></g>
<g stroke="#111" stroke-width="0.6"><circle cx="96.0" cy="-45.5" r="1.75" fill="#fee0d2"/><circle cx="2.2" cy="79.1" r="1.75" fill="#fee0d2"/><circle cx="-90.9" cy="16.4" r="1.75" fill="#fee0d2"/><circle cx="52.0" cy="87.7" r="1.75" fill="#d9614c"/><circle cx="100.9" cy="-42.7" r="1.75" fill="#fee0d2"/><circle cx="102.7" cy="-43.8" r="1.75" fill="#f6a98a"/><circle cx="21.0" cy="64.4" r="1.75" fill="#f6a98a"/><circle cx="-91.9" cy="8.8" r="1.75" fill="#fee0d2"/><circle cx="-82.2" cy="24.0" r="1.75" fill="#f6a98a"/><circle cx="4.2" cy="80.1" r="1.75" fill="#fee0d2"/><circle cx="54.0" cy="66.9" r="1.75" fill="#fee0d2"/><circle cx="-105.6" cy="0.2" r="1.75" fill="#fee0d2"/><circle cx="-80.0" cy="-39.4" r="1.75" fill="#f6a98a"/><circle cx="-92.4" cy="21.5" r="1.75" fill="#f6a98a"/><circle cx="83.3" cy="-72.1" r="1.75" fill="#f6a98a"/><circle cx="91.0" cy="-49.9" r="1.75" fill="#fee0d2"/><circle cx="-71.9" cy="-46.0" r="1.75" fill="#f6a98a"/><circle cx="93.9" cy="-44.4" r="1.75" fill="#f6a98a"/><circle cx="10.8" cy="85.2" r="1.75" fill="#d9614c"/><circle cx="-107.4" cy="-31.8" r="1.75" fill="#fee0d2"/><circle cx="1.2" cy="72.0" r="1.75" fill="#fee0d2"/><circle cx="73.1" cy="-50.7" r="1.75" fill="#f6a98a"/><circle cx="17.4" cy="68.9" r="1.75" fill="#f6a98a"/><circle cx="-96.0" cy="13.9" r="1.75" fill="#fee0d2"/><circle cx="69.6" cy="-22.0" r="1.75" fill="#fee0d2"/><circle cx="12.4" cy="83.2" r="1.75" fill="#d9614c"/><circle cx="-93.7" cy="-24.8" r="1.75" fill="#f6a98a"/><circle cx="-66.8" cy="-42.4" r="1.75" fill="#f6a98a"/><circle cx="-90.9" cy="26.6" r="1.75" fill="#f6a98a"/><circle cx="23.3" cy="91.3" r="1.75" fill="#d9614c"/><circle cx="-90.9" cy="12.3" r="1.75" fill="#fee0d2"/><circle cx="55.5" cy="56.2" r="1.75" fill="#fee0d2"/><circle cx="105.8" cy="-43.3" r="1.75" fill="#f6a98a"/><circle cx="-64.3" cy="-27.9" r="1.75" fill="#fee0d2"/><circle cx="-110.7" cy="-10.5" r="1.75" fill="#fee0d2"/><circle cx="-105.6" cy="8.8" r="1.75" fill="#f6a98a"/><circle cx="50.8" cy="34.0" r="1.75" fill="#fee0d2"/><circle cx="95.2" cy="-43.7" r="1.75" fill="#fee0d2"/><circle cx="70.1" cy="-78.7" r="1.75" fill="#f6a98a"/><circle cx="26.6" cy="77.1" r="1.75" fill="#f6a98a"/><circle cx="-92.9" cy="4.2" r="1.75" fill="#fee0d2"/><circle cx="67.8" cy="-50.2" r="1.75" fill="#fee0d2"/><circle cx="1.7" cy="68.9" r="1.75" fill="#fee0d2"/><circle cx="65.0" cy="-3.1" r="1.75" fill="#fee0d2"/><circle cx="22.5" cy="68.4" r="1.75" fill="#f6a98a"/><circle cx="63.2" cy="38.7" r="1.75" fill="#fee0d2"/><circle cx="85.8" cy="-45.1" r="1.75" fill="#fee0d2"/><circle cx="9.3" cy="82.1" r="1.75" fill="#f6a98a"/><circle cx="92.3" cy="-52.7" r="1.75" fill="#fee0d2"/><circle cx="-100.0" cy="4.2" r="1.75" fill="#fee0d2"/><circle cx="88.4" cy="-34.5" r="1.75" fill="#f6a98a"/><circle cx="44.9" cy="69.4" r="1.75" fill="#fee0d2"/><circle cx="-87.8" cy="29.6" r="1.75" fill="#f6a98a"/><circle cx="13.9" cy="79.6" r="1.75" fill="#fee0d2"/><circle cx="-80.7" cy="-27.0" r="1.75" fill="#fee0d2"/><circle cx="13.9" cy="75.0" r="1.75" fill="#f6a98a"/><circle cx="-91.7" cy="-24.6" r="1.75" fill="#fee0d2"/><circle cx="-87.3" cy="2.7" r="1.75" fill="#fee0d2"/><circle cx="-95.4" cy="22.0" r="1.75" fill="#fee0d2"/><circle cx="29.1" cy="67.4" r="1.75" fill="#f6a98a"/><circle cx="92.8" cy="-42.7" r="1.75" fill="#fee0d2"/><circle cx="-89.4" cy="28.6" r="1.75" fill="#f6a98a"/><circle cx="88.9" cy="-31.9" r="1.75" fill="#fee0d2"/><circle cx="24.6" cy="74.0" r="1.75" fill="#f6a98a"/><circle cx="87.1" cy="20.3" r="1.75" fill="#f6a98a"/><circle cx="-99.0" cy="-0.3" r="1.75" fill="#fee0d2"/><circle cx="67.5" cy="-45.9" r="1.75" fill="#fee0d2"/><circle cx="98.9" cy="-46.7" r="1.75" fill="#f6a98a"/><circle cx="81.2" cy="-63.9" r="1.75" fill="#f6a98a"/><circle cx="-109.2" cy="-18.6" r="1.75" fill="#fee0d2"/><circle cx="80.7" cy="-66.5" r="1.75" fill="#f6a98a"/><circle cx="11.9" cy="68.9" r="1.75" fill="#f6a98a"/><circle cx="84.1" cy="-44.7" r="1.75" fill="#f6a98a"/><circle cx="100.0" cy="-20.8" r="1.75" fill="#f6a98a"/><circle cx="-78.7" cy="26.4" r="1.75" fill="#f6a98a"/><circle cx="16.4" cy="78.6" r="1.75" fill="#f6a98a"/><circle cx="88.4" cy="-41.8" r="1.75" fill="#f6a98a"/><circle cx="87.9" cy="-40.1" r="1.75" fill="#f6a98a"/><circle cx="-94.4" cy="8.3" r="1.75" fill="#f6a98a"/><circle cx="21.5" cy="71.5" r="1.75" fill="#f6a98a"/><circle cx="100.0" cy="-24.3" r="1.75" fill="#f6a98a"/><circle cx="92.2" cy="-38.0" r="1.75" fill="#fee0d2"/><circle cx="-7.2" cy="67.9" r="1.75" fill="#fee0d2"/><circle cx="10.5" cy="57.0" r="1.75" fill="#f6a98a"/><circle cx="42.8" cy="51.7" r="1.75" fill="#fee0d2"/><circle cx="9.3" cy="71.0" r="1.75" fill="#fee0d2"/><circle cx="-69.7" cy="-20.9" r="1.75" fill="#fee0d2"/><circle cx="66.3" cy="61.1" r="1.75" fill="#fee0d2"/><circle cx="-91.9" cy="5.7" r="1.75" fill="#fee0d2"/><circle cx="-89.9" cy="5.7" r="1.75" fill="#fee0d2"/><circle cx="92.8" cy="-45.1" r="1.75" fill="#fee0d2"/><circle cx="87.3" cy="-50.7" r="1.75" fill="#f6a98a"/><circle cx="16.9" cy="84.2" r="1.75" fill="#f6a98a"/><circle cx="13.9" cy="64.4" r="1.75" fill="#f6a98a"/><circle cx="81.8" cy="-70.5" r="1.75" fill="#f6a98a"/><circle cx="96.3" cy="-57.2" r="1.75" fill="#f6a98a"/><circle cx="72.1" cy="61.4" r="1.75" fill="#fee0d2"/><circle cx="5.8" cy="77.6" r="1.75" fill="#fee0d2"/><circle cx="70.6" cy="23.8" r="1.75" fill="#fee0d2"/><circle cx="14.9" cy="76.6" r="1.75" fill="#f6a98a"/><circle cx="80.7" cy="-60.4" r="1.75" fill="#f6a98a"/><circle cx="77.2" cy="-73.1" r="1.75" fill="#fee0d2"/><circle cx="17.9" cy="75.0" r="1.75" fill="#fee0d2"/><circle cx="33.2" cy="85.7" r="1.75" fill="#f6a98a"/><circle cx="74.6" cy="12.9" r="1.75" fill="#fee0d2"/><circle cx="59.9" cy="36.0" r="1.75" fill="#fee0d2"/><circle cx="95.7" cy="-52.7" r="1.75" fill="#fee0d2"/><circle cx="-93.4" cy="-1.4" r="1.75" fill="#fee0d2"/><circle cx="-1.3" cy="86.7" r="1.75" fill="#d9614c"/><circle cx="96.8" cy="-45.6" r="1.75" fill="#f6a98a"/><circle cx="5.3" cy="72.5" r="1.75" fill="#f6a98a"/><circle cx="98.7" cy="-47.5" r="1.75" fill="#f6a98a"/><circle cx="100.2" cy="-45.4" r="1.75" fill="#fee0d2"/><circle cx="80.2" cy="-50.7" r="1.75" fill="#f6a98a"/><circle cx="46.4" cy="65.9" r="1.75" fill="#fee0d2"/><circle cx="-2.9" cy="82.1" r="1.75" fill="#f6a98a"/><circle cx="-99.0" cy="24.0" r="1.75" fill="#f6a98a"/><circle cx="6.8" cy="84.2" r="1.75" fill="#d9614c"/><circle cx="-0.3" cy="76.0" r="1.75" fill="#f6a98a"/><circle cx="67.0" cy="-78.9" r="1.75" fill="#f6a98a"/><circle cx="5.3" cy="87.2" r="1.75" fill="#fee0d2"/><circle cx="-0.6" cy="71.9" r="1.75" fill="#fee0d2"/><circle cx="-94.4" cy="16.4" r="1.75" fill="#f6a98a"/><circle cx="92.2" cy="-46.2" r="1.75" fill="#f6a98a"/><circle cx="58.6" cy="82.6" r="1.75" fill="#fee0d2"/><circle cx="-3.5" cy="70.1" r="1.75" fill="#fee0d2"/><circle cx="104.4" cy="-40.9" r="1.75" fill="#fee0d2"/><circle cx="62.5" cy="-77.1" r="1.75" fill="#f6a98a"/><circle cx="41.8" cy="54.7" r="1.75" fill="#fee0d2"/><circle cx="-88.3" cy="11.3" r="1.75" fill="#fee0d2"/><circle cx="100.3" cy="-47.9" r="1.75" fill="#f6a98a"/><circle cx="-90.4" cy="23.0" r="1.75" fill="#f6a98a"/><circle cx="30.1" cy="81.1" r="1.75" fill="#f6a98a"/><circle cx="7.3" cy="69.4" r="1.75" fill="#f6a98a"/><circle cx="80.6" cy="-50.5" r="1.75" fill="#f6a98a"/><circle cx="103.2" cy="-41.5" r="1.75" fill="#fee0d2"/><circle cx="-101.0" cy="-30.0" r="1.75" fill="#f6a98a"/><circle cx="10.8" cy="80.1" r="1.75" fill="#f6a98a"/><circle cx="53.5" cy="84.2" r="1.75" fill="#f6a98a"/><circle cx="97.7" cy="-48.5" r="1.75" fill="#fee0d2"/><circle cx="66.5" cy="8.3" r="1.75" fill="#fee0d2"/><circle cx="46.9" cy="53.7" r="1.75" fill="#fee0d2"/><circle cx="39.8" cy="51.7" r="1.75" fill="#fee0d2"/><circle cx="-109.2" cy="4.7" r="1.75" fill="#fee0d2"/><circle cx="81.8" cy="-48.5" r="1.75" fill="#f6a98a"/><circle cx="-92.4" cy="26.1" r="1.75" fill="#fee0d2"/><circle cx="52.5" cy="62.8" r="1.75" fill="#fee0d2"/><circle cx="12.4" cy="73.5" r="1.75" fill="#fee0d2"/><circle cx="14.9" cy="70.0" r="1.75" fill="#fee0d2"/><circle cx="64.0" cy="19.2" r="1.75" fill="#fee0d2"/><circle cx="79.2" cy="-56.8" r="1.75" fill="#fee0d2"/><circle cx="83.5" cy="-47.2" r="1.75" fill="#f6a98a"/><circle cx="9.8" cy="75.0" r="1.75" fill="#f6a98a"/><circle cx="35.7" cy="83.2" r="1.75" fill="#d9614c"/><circle cx="-98.0" cy="12.3" r="1.75" fill="#fee0d2"/><circle cx="-93.4" cy="11.3" r="1.75" fill="#fee0d2"/><circle cx="38.3" cy="65.4" r="1.75" fill="#fee0d2"/><circle cx="95.1" cy="-40.9" r="1.75" fill="#fee0d2"/><circle cx="70.6" cy="-52.8" r="1.75" fill="#f6a98a"/><circle cx="102.2" cy="-45.5" r="1.75" fill="#fee0d2"/><circle cx="-73.4" cy="-40.9" r="1.75" fill="#fee0d2"/><circle cx="-96.0" cy="-25.0" r="1.75" fill="#d9614c"/><circle cx="87.9" cy="-37.5" r="1.75" fill="#f6a98a"/><circle cx="-97.0" cy="18.9" r="1.75" fill="#fee0d2"/><circle cx="99.5" cy="-40.1" r="1.75" fill="#f6a98a"/><circle cx="27.6" cy="65.4" r="1.75" fill="#f6a98a"/><circle cx="89.9" cy="29.2" r="1.75" fill="#fee0d2"/><circle cx="78.2" cy="-48.7" r="1.75" fill="#fee0d2"/><circle cx="-84.3" cy="-48.0" r="1.75" fill="#f6a98a"/><circle cx="57.1" cy="63.9" r="1.75" fill="#fee0d2"/><circle cx="52.0" cy="80.6" r="1.75" fill="#f6a98a"/><circle cx="98.0" cy="-53.4" r="1.75" fill="#fee0d2"/><circle cx="-96.5" cy="3.2" r="1.75" fill="#fee0d2"/><circle cx="-103.1" cy="-10.7" r="1.75" fill="#fee0d2"/><circle cx="101.5" cy="-52.0" r="1.75" fill="#fee0d2"/><circle cx="23.5" cy="51.7" r="1.75" fill="#fee0d2"/><circle cx="-91.4" cy="1.7" r="1.75" fill="#fee0d2"/><circle cx="-65.5" cy="-42.2" r="1.75" fill="#f6a98a"/><circle cx="89.9" cy="-48.8" r="1.75" fill="#f6a98a"/><circle cx="85.3" cy="-52.3" r="1.75" fill="#f6a98a"/><circle cx="96.3" cy="-49.4" r="1.75" fill="#fee0d2"/><circle cx="38.3" cy="78.6" r="1.75" fill="#f6a98a"/><circle cx="98.0" cy="-52.1" r="1.75" fill="#fee0d2"/><circle cx="-104.1" cy="-13.9" r="1.75" fill="#fee0d2"/><circle cx="100.4" cy="-42.4" r="1.75" fill="#fee0d2"/><circle cx="86.1" cy="68.2" r="1.75" fill="#fee0d2"/><circle cx="75.2" cy="-74.6" r="1.75" fill="#f6a98a"/><circle cx="87.3" cy="-37.0" r="1.75" fill="#f6a98a"/><circle cx="26.1" cy="72.0" r="1.75" fill="#f6a98a"/><circle cx="98.8" cy="-49.1" r="1.75" fill="#fee0d2"/><circle cx="7.3" cy="74.0" r="1.75" fill="#f6a98a"/><circle cx="-74.1" cy="-48.0" r="1.75" fill="#f6a98a"/><circle cx="79.2" cy="-72.6" r="1.75" fill="#f6a98a"/><circle cx="44.9" cy="46.6" r="1.75" fill="#fee0d2"/><circle cx="39.3" cy="72.0" r="1.75" fill="#fee0d2"/><circle cx="101.2" cy="-40.4" r="1.75" fill="#fee0d2"/><circle cx="7.3" cy="81.1" r="1.75" fill="#f6a98a"/><circle cx="54.0" cy="45.1" r="1.75" fill="#fee0d2"/><circle cx="102.1" cy="-46.2" r="1.75" fill="#f6a98a"/><circle cx="-87.3" cy="25.6" r="1.75" fill="#f6a98a"/><circle cx="31.2" cy="70.5" r="1.75" fill="#fee0d2"/><circle cx="99.7" cy="-45.0" r="1.75" fill="#fee0d2"/><circle cx="-4.6" cy="65.0" r="1.75" fill="#fee0d2"/><circle cx="23.5" cy="63.4" r="1.75" fill="#f6a98a"/><circle cx="2.7" cy="93.3" r="1.75" fill="#d9614c"/><circle cx="99.5" cy="-57.2" r="1.75" fill="#fee0d2"/><circle cx="-103.9" cy="-39.7" r="1.75" fill="#fee0d2"/><circle cx="-100.0" cy="17.4" r="1.75" fill="#f6a98a"/><circle cx="-89.9" cy="13.9" r="1.75" fill="#fee0d2"/><circle cx="96.1" cy="-53.8" r="1.75" fill="#fee0d2"/><circle cx="8.8" cy="85.7" r="1.75" fill="#f6a98a"/><circle cx="98.0" cy="-42.1" r="1.75" fill="#f6a98a"/><circle cx="-87.9" cy="-35.3" r="1.75" fill="#d9614c"/><circle cx="102.4" cy="-39.2" r="1.75" fill="#fee0d2"/><circle cx="42.3" cy="72.0" r="1.75" fill="#fee0d2"/><circle cx="103.3" cy="31.4" r="1.75" fill="#f6a98a"/><circle cx="88.7" cy="38.0" r="1.75" fill="#fee0d2"/><circle cx="-113.7" cy="16.9" r="1.75" fill="#fee0d2"/><circle cx="-67.2" cy="-37.9" r="1.75" fill="#f6a98a"/><circle cx="-111.2" cy="7.3" r="1.75" fill="#fee0d2"/><circle cx="-99.0" cy="7.3" r="1.75" fill="#fee0d2"/><circle cx="-8.6" cy="70.4" r="1.75" fill="#fee0d2"/><circle cx="86.7" cy="-44.7" r="1.75" fill="#f6a98a"/><circle cx="-93.9" cy="19.5" r="1.75" fill="#fee0d2"/><circle cx="2.2" cy="88.7" r="1.75" fill="#d9614c"/><circle cx="44.9" cy="61.8" r="1.75" fill="#fee0d2"/><circle cx="109.2" cy="-27.9" r="1.75" fill="#fee0d2"/><circle cx="69.9" cy="-74.6" r="1.75" fill="#f6a98a"/><circle cx="110.7" cy="26.0" r="1.75" fill="#fee0d2"/><circle cx="12.9" cy="60.3" r="1.75" fill="#f6a98a"/><circle cx="69.9" cy="7.9" r="1.75" fill="#fee0d2"/><circle cx="94.2" cy="-39.8" r="1.75" fill="#fee0d2"/><circle cx="55.9" cy="38.0" r="1.75" fill="#fee0d2"/><circle cx="-87.8" cy="17.9" r="1.75" fill="#fee0d2"/><circle cx="25.6" cy="68.4" r="1.75" fill="#fee0d2"/><circle cx="-14.0" cy="92.6" r="1.75" fill="#fee0d2"/><circle cx="100.9" cy="-50.2" r="1.75" fill="#f6a98a"/><circle cx="-110.2" cy="9.8" r="1.75" fill="#fee0d2"/><circle cx="101.1" cy="-34.5" r="1.75" fill="#f6a98a"/><circle cx="90.2" cy="-48.2" r="1.75" fill="#f6a98a"/><circle cx="58.7" cy="31.9" r="1.75" fill="#fee0d2"/><circle cx="81.0" cy="65.2" r="1.75" fill="#fee0d2"/><circle cx="-3.5" cy="73.7" r="1.75" fill="#fee0d2"/><circle cx="-0.3" cy="74.4" r="1.75" fill="#fee0d2"/><circle cx="95.7" cy="-43.0" r="1.75" fill="#fee0d2"/><circle cx="45.9" cy="82.1" r="1.75" fill="#f6a98a"/><circle cx="81.8" cy="-48.2" r="1.75" fill="#fee0d2"/><circle cx="97.1" cy="-36.0" r="1.75" fill="#fee0d2"/><circle cx="4.2" cy="67.9" r="1.75" fill="#fee0d2"/><circle cx="-95.4" cy="5.2" r="1.75" fill="#fee0d2"/><circle cx="-69.5" cy="-44.3" r="1.75" fill="#f6a98a"/><circle cx="8.8" cy="78.1" r="1.75" fill="#fee0d2"/><circle cx="94.2" cy="-40.1" r="1.75" fill="#fee0d2"/><circle cx="8.3" cy="89.3" r="1.75" fill="#f6a98a"/><circle cx="-107.6" cy="11.3" r="1.75" fill="#fee0d2"/><circle cx="48.9" cy="63.4" r="1.75" fill="#fee0d2"/><circle cx="55.9" cy="-70.0" r="1.75" fill="#f6a98a"/><circle cx="-68.5" cy="-30.4" r="1.75" fill="#f6a98a"/><circle cx="53.0" cy="51.2" r="1.75" fill="#fee0d2"/><circle cx="8.3" cy="67.4" r="1.75" fill="#f6a98a"/><circle cx="23.0" cy="76.6" r="1.75" fill="#f6a98a"/><circle cx="89.2" cy="29.4" r="1.75" fill="#fee0d2"/><circle cx="19.5" cy="90.3" r="1.75" fill="#d9614c"/><circle cx="97.1" cy="-55.5" r="1.75" fill="#f6a98a"/><circle cx="-110.7" cy="-0.3" r="1.75" fill="#fee0d2"/><circle cx="72.6" cy="-76.1" r="1.75" fill="#f6a98a"/><circle cx="19.5" cy="67.9" r="1.75" fill="#f6a98a"/><circle cx="-95.8" cy="-8.2" r="1.75" fill="#fee0d2"/><circle cx="94.5" cy="-48.1" r="1.75" fill="#f6a98a"/><circle cx="67.0" cy="68.5" r="1.75" fill="#fee0d2"/><circle cx="90.2" cy="-44.1" r="1.75" fill="#f6a98a"/><circle cx="46.4" cy="57.3" r="1.75" fill="#fee0d2"/><circle cx="49.4" cy="43.0" r="1.75" fill="#fee0d2"/><circle cx="96.6" cy="-51.4" r="1.75" fill="#fee0d2"/><circle cx="-103.6" cy="5.7" r="1.75" fill="#fee0d2"/><circle cx="-72.6" cy="-37.3" r="1.75" fill="#f6a98a"/><circle cx="85.5" cy="28.9" r="1.75" fill="#fee0d2"/><circle cx="83.8" cy="-62.9" r="1.75" fill="#f6a98a"/><circle cx="97.6" cy="-47.3" r="1.75" fill="#fee0d2"/><circle cx="89.0" cy="-51.7" r="1.75" fill="#f6a98a"/><circle cx="-83.3" cy="21.0" r="1.75" fill="#f6a98a"/><circle cx="100.7" cy="-48.7" r="1.75" fill="#fee0d2"/><circle cx="82.3" cy="-51.2" r="1.75" fill="#f6a98a"/><circle cx="98.6" cy="-37.7" r="1.75" fill="#f6a98a"/><circle cx="94.6" cy="-48.1" r="1.75" fill="#f6a98a"/><circle cx="21.5" cy="74.0" r="1.75" fill="#f6a98a"/><circle cx="88.7" cy="52.3" r="1.75" fill="#fee0d2"/><circle cx="52.0" cy="40.0" r="1.75" fill="#fee0d2"/><circle cx="56.1" cy="-56.3" r="1.75" fill="#fee0d2"/><circle cx="108.7" cy="-30.9" r="1.75" fill="#fee0d2"/><circle cx="94.5" cy="-54.6" r="1.75" fill="#fee0d2"/><circle cx="-114.7" cy="9.3" r="1.75" fill="#fee0d2"/><circle cx="3.2" cy="75.5" r="1.75" fill="#f6a98a"/><circle cx="91.3" cy="-39.8" r="1.75" fill="#fee0d2"/><circle cx="11.9" cy="77.6" r="1.75" fill="#fee0d2"/><circle cx="14.4" cy="83.7" r="1.75" fill="#d9614c"/><circle cx="43.3" cy="67.9" r="1.75" fill="#fee0d2"/><circle cx="65.0" cy="65.7" r="1.75" fill="#fee0d2"/><circle cx="65.5" cy="-75.6" r="1.75" fill="#fee0d2"/><circle cx="23.0" cy="81.6" r="1.75" fill="#f6a98a"/><circle cx="91.7" cy="35.7" r="1.75" fill="#fee0d2"/><circle cx="77.0" cy="-23.3" r="1.75" fill="#fee0d2"/><circle cx="62.8" cy="-53.5" r="1.75" fill="#fee0d2"/><circle cx="-4.9" cy="89.3" r="1.75" fill="#d9614c"/><circle cx="105.3" cy="-45.9" r="1.75" fill="#fee0d2"/><circle cx="92.2" cy="-52.0" r="1.75" fill="#fee0d2"/><circle cx="-114.4" cy="-2.4" r="1.75" fill="#fee0d2"/><circle cx="86.8" cy="-42.1" r="1.75" fill="#f6a98a"/><circle cx="-76.7" cy="-9.5" r="1.75" fill="#fee0d2"/><circle cx="46.2" cy="83.9" r="1.75" fill="#d9614c"/><circle cx="-2.1" cy="67.5" r="1.75" fill="#fee0d2"/><circle cx="95.7" cy="-38.3" r="1.75" fill="#fee0d2"/><circle cx="99.2" cy="-50.2" r="1.75" fill="#fee0d2"/><circle cx="-95.4" cy="0.7" r="1.75" fill="#fee0d2"/><circle cx="-89.9" cy="20.0" r="1.75" fill="#f6a98a"/><circle cx="85.8" cy="-52.3" r="1.75" fill="#f6a98a"/><circle cx="16.4" cy="86.7" r="1.75" fill="#f6a98a"/><circle cx="82.6" cy="-50.8" r="1.75" fill="#fee0d2"/><circle cx="-97.0" cy="9.3" r="1.75" fill="#fee0d2"/><circle cx="101.6" cy="-31.4" r="1.75" fill="#f6a98a"/><circle cx="-98.5" cy="21.5" r="1.75" fill="#fee0d2"/><circle cx="95.0" cy="-49.0" r="1.75" fill="#fee0d2"/><circle cx="4.2" cy="84.7" r="1.75" fill="#d9614c"/><circle cx="-92.9" cy="14.4" r="1.75" fill="#fee0d2"/><circle cx="94.2" cy="-56.6" r="1.75" fill="#f6a98a"/><circle cx="-106.6" cy="-16.1" r="1.75" fill="#fee0d2"/><circle cx="28.6" cy="49.1" r="1.75" fill="#fee0d2"/><circle cx="-108.7" cy="-13.6" r="1.75" fill="#fee0d2"/><circle cx="17.9" cy="78.1" r="1.75" fill="#f6a98a"/><circle cx="83.5" cy="-47.3" r="1.75" fill="#fee0d2"/><circle cx="93.4" cy="-48.8" r="1.75" fill="#f6a98a"/><circle cx="-106.1" cy="-4.9" r="1.75" fill="#fee0d2"/><circle cx="97.6" cy="-43.4" r="1.75" fill="#f6a98a"/><circle cx="93.9" cy="-51.4" r="1.75" fill="#fee0d2"/><circle cx="95.7" cy="-47.3" r="1.75" fill="#f6a98a"/><circle cx="25.6" cy="57.3" r="1.75" fill="#fee0d2"/><circle cx="-89.4" cy="9.3" r="1.75" fill="#fee0d2"/><circle cx="95.1" cy="-53.4" r="1.75" fill="#f6a98a"/><circle cx="-110.7" cy="-7.5" r="1.75" fill="#fee0d2"/><circle cx="87.1" cy="33.0" r="1.75" fill="#fee0d2"/><circle cx="98.0" cy="-59.2" r="1.75" fill="#fee0d2"/><circle cx="-97.5" cy="-8.0" r="1.75" fill="#fee0d2"/><circle cx="15.9" cy="73.0" r="1.75" fill="#f6a98a"/><circle cx="-114.4" cy="2.2" r="1.75" fill="#fee0d2"/><circle cx="86.8" cy="24.1" r="1.75" fill="#fee0d2"/><circle cx="55.1" cy="31.2" r="1.75" fill="#fee0d2"/><circle cx="-109.7" cy="12.3" r="1.75" fill="#fee0d2"/><circle cx="-71.9" cy="-41.9" r="1.75" fill="#f6a98a"/><circle cx="17.9" cy="55.7" r="1.75" fill="#f6a98a"/><circle cx="77.0" cy="-50.7" r="1.75" fill="#f6a98a"/><circle cx="-115.3" cy="-8.2" r="1.75" fill="#fee0d2"/><circle cx="103.8" cy="-48.5" r="1.75" fill="#fee0d2"/><circle cx="47.9" cy="72.0" r="1.75" fill="#f6a98a"/><circle cx="-86.5" cy="-5.1" r="1.75" fill="#fee0d2"/><circle cx="70.1" cy="-18.2" r="1.75" fill="#f6a98a"/><circle cx="-114.2" cy="5.7" r="1.75" fill="#f6a98a"/><circle cx="-112.7" cy="-15.1" r="1.75" fill="#fee0d2"/><circle cx="88.1" cy="-48.5" r="1.75" fill="#f6a98a"/><circle cx="18.5" cy="72.0" r="1.75" fill="#f6a98a"/><circle cx="-87.8" cy="22.0" r="1.75" fill="#fee0d2"/><circle cx="36.7" cy="87.2" r="1.75" fill="#f6a98a"/></g>
</g>
<rect x="279.00" y="205.11" width="8.20" height="28.74" fill="#3f007d"/>
<rect x="279.00" y="176.43" width="8.20" height="28.74" fill="#54278f"/>
<rect x="279.00" y="147.74" width="8.20" height="28.74" fill="#7c70b6"/>
<rect x="279.00" y="119.05" width="8.20" height="28.74" fill="#c5c5e6"/>
<rect x="279.00" y="90.36" width="8.20" height="28.74" fill="#fee0d2"/>
<rect x="279.00" y="61.68" width="8.20" height="28.74" fill="#f9b596"/>
<rect x="279.00" y="32.99" width="8.20" height="28.74" fill="#e2735b"/>
<rect x="279.00" y="4.30" width="8.20" height="28.74" fill="#b81d2f"/>
<path d="M287.20,205.11h-3.6M287.20,176.43h-3.6M287.20,147.74h-3.6M287.20,119.05h-3.6M287.20,90.36h-3.6M287.20,61.68h-3.6M287.20,32.99h-3.6" stroke="#222" stroke-width="0.6" fill="none"/>
<rect x="279.00" y="4.30" width="8.20" height="229.50" fill="none" stroke="#2a2a2a" stroke-width="0.6"/>
<text x="292.7" y="7.0" font-size="10.3">20</text>
<text x="292.7" y="35.7" font-size="10.3">15</text>
<text x="292.7" y="64.4" font-size="10.3">10</text>
<text x="292.7" y="93.1" font-size="10.3">5</text>
<text x="292.7" y="121.8" font-size="10.3">0</text>
<text x="292.7" y="150.4" font-size="10.3">−5</text>
<text x="292.7" y="179.1" font-size="10.3">−10</text>
<text x="292.7" y="207.8" font-size="10.3">−15</text>
<text x="292.7" y="236.5" font-size="10.3">−20</text>
<text transform="translate(317.9,119.0) rotate(90)" font-size="12.3" text-anchor="middle" textLength="67.0" lengthAdjust="spacingAndGlyphs"><tspan>ΔSOS (days)</tspan></text>
<rect x="35.7" y="173.1" width="102.7" height="53.2" fill="#fff"/>
<path d="M41.84,226.30V224.53H43.28V226.30ZM45.12,226.30V224.53H46.57V226.30ZM46.76,226.30V220.98H48.21V226.30ZM48.41,226.30V222.75H49.85V226.30ZM50.05,226.30V222.75H51.49V226.30ZM51.69,226.30V219.21H53.13V226.30ZM53.33,226.30V215.66H54.78V226.30ZM54.97,226.30V212.11H56.42V226.30ZM56.61,226.30V212.11H58.06V226.30ZM58.25,226.30V212.11H59.70V226.30ZM59.90,226.30V206.79H61.34V226.30ZM61.54,226.30V205.02H62.98V226.30ZM63.18,226.30V192.61H64.62V226.30ZM64.82,226.30V210.34H66.27V226.30ZM66.46,226.30V187.29H67.91V226.30ZM68.10,226.30V189.06H69.55V226.30ZM69.75,226.30V196.15H71.19V226.30ZM71.39,226.30V189.06H72.83V226.30ZM73.03,226.30V197.93H74.47V226.30ZM74.67,226.30V205.02H76.11V226.30ZM76.31,226.30V197.93H77.76V226.30ZM77.95,226.30V199.70H79.40V226.30ZM79.59,226.30V205.02H81.04V226.30ZM81.24,226.30V206.79H82.68V226.30ZM82.88,226.30V210.34H84.32V226.30ZM84.52,226.30V205.02H85.96V226.30ZM86.16,226.30V212.11H87.61V226.30ZM87.80,226.30V212.11H89.25V226.30ZM89.44,226.30V208.57H90.89V226.30ZM91.08,226.30V212.11H92.53V226.30ZM92.73,226.30V219.21H94.17V226.30ZM94.37,226.30V224.53H95.81V226.30ZM96.01,226.30V222.75H97.45V226.30ZM97.65,226.30V222.75H99.10V226.30ZM102.58,226.30V222.75H104.02V226.30ZM104.22,226.30V224.53H105.66V226.30ZM112.42,226.30V224.53H113.87V226.30Z" fill="#9f94d0" fill-opacity="0.92"/>
<path d="M40.10,226.30v-2.2M63.55,226.30v-2.2M87.00,226.30v-2.2M110.45,226.30v-2.2M133.90,226.30v-2.2M35.70,226.30h2.2M35.70,208.57h2.2M35.70,190.83h2.2M35.70,173.10h2.2" stroke="#222" stroke-width="0.6" fill="none"/>
<rect x="35.7" y="173.1" width="102.7" height="53.2" fill="none" stroke="#333" stroke-width="0.7"/>
<path d="M71.90,173.10V226.30" stroke="#111" stroke-width="1.3"/>
<text x="87.2" y="194.0" font-size="8.6" text-anchor="start">−6.44</text>
<text x="38.9" y="238.6" font-size="8.6" text-anchor="middle">−20</text>
<text x="62.4" y="238.6" font-size="8.6" text-anchor="middle">−10</text>
<text x="87.0" y="238.6" font-size="8.6" text-anchor="middle">0</text>
<text x="110.5" y="238.6" font-size="8.6" text-anchor="middle">10</text>
<text x="133.9" y="238.6" font-size="8.6" text-anchor="middle">20</text>
<text x="30.1" y="229.4" font-size="8.6" text-anchor="end">0</text>
<text x="30.1" y="211.7" font-size="8.6" text-anchor="end">10</text>
<text x="30.1" y="193.9" font-size="8.6" text-anchor="end">20</text>
<text x="30.1" y="176.2" font-size="8.6" text-anchor="end">30</text>
<text transform="translate(10.4,199.8) rotate(-90)" font-size="10.6" text-anchor="middle">Frequency</text>
<text x="-0.5" y="13.5" font-size="17.6" font-weight="bold" style="fill:#000;stroke:#000;stroke-width:0.55px">a</text>
<rect x="628.20" y="205.11" width="8.40" height="28.74" fill="#3f007d"/>
<rect x="628.20" y="176.43" width="8.40" height="28.74" fill="#54278f"/>
<rect x="628.20" y="147.74" width="8.40" height="28.74" fill="#7c70b6"/>
<rect x="628.20" y="119.05" width="8.40" height="28.74" fill="#c5c5e6"/>
<rect x="628.20" y="90.36" width="8.40" height="28.74" fill="#fee0d2"/>
<rect x="628.20" y="61.68" width="8.40" height="28.74" fill="#f9b596"/>
<rect x="628.20" y="32.99" width="8.40" height="28.74" fill="#e2735b"/>
<rect x="628.20" y="4.30" width="8.40" height="28.74" fill="#b81d2f"/>
<path d="M636.60,205.11h-3.6M636.60,176.43h-3.6M636.60,147.74h-3.6M636.60,119.05h-3.6M636.60,90.36h-3.6M636.60,61.68h-3.6M636.60,32.99h-3.6" stroke="#222" stroke-width="0.6" fill="none"/>
<rect x="628.20" y="4.30" width="8.40" height="229.50" fill="none" stroke="#2a2a2a" stroke-width="0.6"/>
<text x="642.1" y="7.0" font-size="10.3">20</text>
<text x="642.1" y="35.7" font-size="10.3">15</text>
<text x="642.1" y="64.4" font-size="10.3">10</text>
<text x="642.1" y="93.1" font-size="10.3">5</text>
<text x="642.1" y="121.8" font-size="10.3">0</text>
<text x="642.1" y="150.4" font-size="10.3">−5</text>
<text x="642.1" y="179.1" font-size="10.3">−10</text>
<text x="642.1" y="207.8" font-size="10.3">−15</text>
<text x="642.1" y="236.5" font-size="10.3">−20</text>
<text transform="translate(669.6,120.0) rotate(90)" font-size="12.3" text-anchor="middle" textLength="66.6" lengthAdjust="spacingAndGlyphs"><tspan>ΔEOS (days)</tspan></text>
<rect x="386.8" y="172.5" width="103.4" height="53.2" fill="#fff"/>
<path d="M404.47,225.70V223.93H405.92V225.70ZM417.65,225.70V223.93H419.10V225.70ZM420.94,225.70V223.93H422.39V225.70ZM422.59,225.70V223.93H424.04V225.70ZM424.23,225.70V223.93H425.68V225.70ZM425.88,225.70V220.38H427.33V225.70ZM427.53,225.70V222.15H428.98V225.70ZM429.17,225.70V223.93H430.62V225.70ZM430.82,225.70V223.93H432.27V225.70ZM432.47,225.70V220.38H433.92V225.70ZM434.11,225.70V216.83H435.56V225.70ZM435.76,225.70V215.06H437.21V225.70ZM437.41,225.70V206.19H438.86V225.70ZM439.05,225.70V209.74H440.50V225.70ZM440.70,225.70V209.74H442.15V225.70ZM442.35,225.70V199.10H443.80V225.70ZM443.99,225.70V200.87H445.44V225.70ZM445.64,225.70V199.10H447.09V225.70ZM447.29,225.70V184.91H448.74V225.70ZM448.94,225.70V197.33H450.38V225.70ZM450.58,225.70V188.46H452.03V225.70ZM452.23,225.70V202.65H453.68V225.70ZM453.88,225.70V200.87H455.32V225.70ZM455.52,225.70V195.55H456.97V225.70ZM457.17,225.70V200.87H458.62V225.70ZM458.82,225.70V206.19H460.26V225.70ZM460.46,225.70V207.97H461.91V225.70ZM462.11,225.70V206.19H463.56V225.70ZM463.76,225.70V211.51H465.20V225.70ZM465.40,225.70V216.83H466.85V225.70ZM467.05,225.70V211.51H468.50V225.70ZM468.70,225.70V211.51H470.15V225.70ZM470.34,225.70V215.06H471.79V225.70ZM471.99,225.70V216.83H473.44V225.70ZM473.64,225.70V216.83H475.09V225.70ZM475.28,225.70V218.61H476.73V225.70ZM476.93,225.70V220.38H478.38V225.70ZM478.58,225.70V220.38H480.03V225.70ZM480.22,225.70V220.38H481.67V225.70ZM481.87,225.70V220.38H483.32V225.70ZM483.52,225.70V222.15H484.97V225.70Z" fill="#e27f6b" fill-opacity="0.92"/>
<path d="M391.20,225.70v-2.2M414.73,225.70v-2.2M438.25,225.70v-2.2M461.77,225.70v-2.2M485.30,225.70v-2.2M386.80,225.70h2.2M386.80,207.97h2.2M386.80,190.23h2.2M386.80,172.50h2.2" stroke="#222" stroke-width="0.6" fill="none"/>
<rect x="386.8" y="172.5" width="103.4" height="53.2" fill="none" stroke="#333" stroke-width="0.7"/>
<path d="M454.93,172.50V225.70" stroke="#111" stroke-width="1.3"/>
<text x="439.4" y="193.0" font-size="8.6" text-anchor="end">7.09</text>
<text x="390.0" y="238.0" font-size="8.6" text-anchor="middle">−20</text>
<text x="413.5" y="238.0" font-size="8.6" text-anchor="middle">−10</text>
<text x="438.2" y="238.0" font-size="8.6" text-anchor="middle">0</text>
<text x="461.8" y="238.0" font-size="8.6" text-anchor="middle">10</text>
<text x="485.3" y="238.0" font-size="8.6" text-anchor="middle">20</text>
<text x="381.2" y="228.8" font-size="8.6" text-anchor="end">0</text>
<text x="381.2" y="211.1" font-size="8.6" text-anchor="end">10</text>
<text x="381.2" y="193.3" font-size="8.6" text-anchor="end">20</text>
<text x="381.2" y="175.6" font-size="8.6" text-anchor="end">30</text>
<text transform="translate(360.5,199.0) rotate(-90)" font-size="10.6" text-anchor="middle">Frequency</text>
<text x="354.0" y="13.5" font-size="17.6" font-weight="bold" style="fill:#000;stroke:#000;stroke-width:0.55px">b</text>
<rect x="278.70" y="445.60" width="8.40" height="46.15" fill="#c5c5e6"/>
<rect x="278.70" y="399.50" width="8.40" height="46.15" fill="#fee0d2"/>
<rect x="278.70" y="353.40" width="8.40" height="46.15" fill="#f9b596"/>
<rect x="278.70" y="307.30" width="8.40" height="46.15" fill="#e2735b"/>
<rect x="278.70" y="261.20" width="8.40" height="46.15" fill="#b81d2f"/>
<path d="M287.10,445.60h-3.6M287.10,399.50h-3.6M287.10,353.40h-3.6M287.10,307.30h-3.6" stroke="#222" stroke-width="0.6" fill="none"/>
<rect x="278.70" y="261.20" width="8.40" height="230.50" fill="none" stroke="#2a2a2a" stroke-width="0.6"/>
<text x="292.6" y="263.9" font-size="10.3">60</text>
<text x="292.6" y="310.0" font-size="10.3">45</text>
<text x="292.6" y="356.1" font-size="10.3">30</text>
<text x="292.6" y="402.2" font-size="10.3">15</text>
<text x="292.6" y="448.3" font-size="10.3">0</text>
<text x="292.6" y="494.4" font-size="10.3">−15</text>
<text transform="translate(317.9,374.6) rotate(90)" font-size="12.3" text-anchor="middle" textLength="151.5" lengthAdjust="spacingAndGlyphs"><tspan>Spring ΔALAN (nW cm</tspan><tspan font-size="7.6" dy="-4.6">−2</tspan><tspan dy="4.6"> sr</tspan><tspan font-size="7.6" dy="-4.6">−1</tspan><tspan dy="4.6">)</tspan></text>
<rect x="33.3" y="427.5" width="104.6" height="53.6" fill="#fff"/>
<path d="M59.14,481.10V477.53H60.17V481.10ZM60.40,481.10V477.53H61.42V481.10ZM61.65,481.10V477.53H62.68V481.10ZM62.90,481.10V473.95H63.93V481.10ZM64.15,481.10V470.38H65.18V481.10ZM65.40,481.10V463.23H66.43V481.10ZM66.66,481.10V459.66H67.68V481.10ZM67.91,481.10V452.51H68.94V481.10ZM69.16,481.10V445.37H70.19V481.10ZM70.41,481.10V452.51H71.44V481.10ZM71.66,481.10V456.09H72.69V481.10ZM72.92,481.10V438.22H73.94V481.10ZM74.17,481.10V445.37H75.20V481.10ZM75.42,481.10V445.37H76.45V481.10ZM76.67,481.10V441.79H77.70V481.10ZM77.92,481.10V448.94H78.95V481.10ZM79.18,481.10V456.09H80.20V481.10ZM80.43,481.10V459.66H81.46V481.10ZM81.68,481.10V459.66H82.71V481.10ZM82.93,481.10V459.66H83.96V481.10ZM84.18,481.10V438.22H85.21V481.10ZM85.44,481.10V441.79H86.46V481.10ZM86.69,481.10V452.51H87.72V481.10ZM87.94,481.10V452.51H88.97V481.10ZM89.19,481.10V459.66H90.22V481.10ZM90.44,481.10V459.66H91.47V481.10ZM91.70,481.10V463.23H92.72V481.10ZM92.95,481.10V456.09H93.98V481.10ZM94.20,481.10V463.23H95.23V481.10ZM95.45,481.10V470.38H96.48V481.10ZM96.70,481.10V466.81H97.73V481.10ZM97.96,481.10V459.66H98.98V481.10ZM99.21,481.10V463.23H100.24V481.10ZM100.46,481.10V463.23H101.49V481.10ZM101.71,481.10V456.09H102.74V481.10ZM102.96,481.10V456.09H103.99V481.10ZM104.22,481.10V463.23H105.24V481.10ZM105.47,481.10V466.81H106.50V481.10ZM106.72,481.10V470.38H107.75V481.10ZM107.97,481.10V470.38H109.00V481.10ZM109.22,481.10V470.38H110.25V481.10ZM110.48,481.10V470.38H111.50V481.10ZM111.73,481.10V473.95H112.76V481.10ZM112.98,481.10V477.53H114.01V481.10ZM116.74,481.10V477.53H117.76V481.10ZM117.99,481.10V477.53H119.02V481.10ZM119.24,481.10V477.53H120.27V481.10ZM120.49,481.10V477.53H121.52V481.10ZM123.00,481.10V477.53H124.02V481.10ZM124.25,481.10V473.95H125.28V481.10ZM125.50,481.10V477.53H126.53V481.10ZM126.75,481.10V477.53H127.78V481.10ZM130.51,481.10V477.53H131.54V481.10ZM131.76,481.10V473.95H132.79V481.10Z" fill="#da553e" fill-opacity="0.92"/>
<path d="M39.00,481.10v-2.2M57.78,481.10v-2.2M76.56,481.10v-2.2M95.34,481.10v-2.2M114.12,481.10v-2.2M132.90,481.10v-2.2M33.30,481.10h2.2M33.30,463.23h2.2M33.30,445.37h2.2M33.30,427.50h2.2" stroke="#222" stroke-width="0.6" fill="none"/>
<rect x="33.3" y="427.5" width="104.6" height="53.6" fill="none" stroke="#333" stroke-width="0.7"/>
<path d="M89.64,427.50V481.10" stroke="#111" stroke-width="1.3"/>
<text x="93.8" y="444.7" font-size="8.6" text-anchor="start">25.45</text>
<text x="37.8" y="493.4" font-size="8.6" text-anchor="middle">−15</text>
<text x="57.8" y="493.4" font-size="8.6" text-anchor="middle">0</text>
<text x="76.6" y="493.4" font-size="8.6" text-anchor="middle">15</text>
<text x="95.3" y="493.4" font-size="8.6" text-anchor="middle">30</text>
<text x="114.1" y="493.4" font-size="8.6" text-anchor="middle">45</text>
<text x="132.9" y="493.4" font-size="8.6" text-anchor="middle">60</text>
<text x="27.7" y="484.2" font-size="8.6" text-anchor="end">0</text>
<text x="27.7" y="466.3" font-size="8.6" text-anchor="end">5</text>
<text x="27.7" y="448.5" font-size="8.6" text-anchor="end">10</text>
<text x="27.7" y="430.6" font-size="8.6" text-anchor="end">15</text>
<text transform="translate(10.4,454.4) rotate(-90)" font-size="10.6" text-anchor="middle">Frequency</text>
<text x="-0.3" y="273.3" font-size="17.6" font-weight="bold" style="fill:#000;stroke:#000;stroke-width:0.55px">c</text>
<rect x="628.30" y="446.36" width="8.30" height="46.09" fill="#c5c5e6"/>
<rect x="628.30" y="400.32" width="8.30" height="46.09" fill="#fee0d2"/>
<rect x="628.30" y="354.28" width="8.30" height="46.09" fill="#f9b596"/>
<rect x="628.30" y="308.24" width="8.30" height="46.09" fill="#e2735b"/>
<rect x="628.30" y="262.20" width="8.30" height="46.09" fill="#b81d2f"/>
<path d="M636.60,446.36h-3.6M636.60,400.32h-3.6M636.60,354.28h-3.6M636.60,308.24h-3.6" stroke="#222" stroke-width="0.6" fill="none"/>
<rect x="628.30" y="262.20" width="8.30" height="230.20" fill="none" stroke="#2a2a2a" stroke-width="0.6"/>
<text x="642.1" y="264.9" font-size="10.3">60</text>
<text x="642.1" y="310.9" font-size="10.3">45</text>
<text x="642.1" y="357.0" font-size="10.3">30</text>
<text x="642.1" y="403.0" font-size="10.3">15</text>
<text x="642.1" y="449.1" font-size="10.3">0</text>
<text x="642.1" y="495.1" font-size="10.3">−15</text>
<text transform="translate(673.7,377.3) rotate(90)" font-size="12.3" text-anchor="middle" textLength="161.0" lengthAdjust="spacingAndGlyphs"><tspan>Autumn ΔALAN (nW cm</tspan><tspan font-size="7.6" dy="-4.6">−2</tspan><tspan dy="4.6"> sr</tspan><tspan font-size="7.6" dy="-4.6">−1</tspan><tspan dy="4.6">)</tspan></text>
<rect x="389.4" y="428.6" width="104.1" height="53.3" fill="#fff"/>
<path d="M413.69,481.90V479.23H414.71V481.90ZM414.94,481.90V479.23H415.96V481.90ZM416.18,481.90V476.57H417.20V481.90ZM417.43,481.90V476.57H418.45V481.90ZM418.67,481.90V476.57H419.69V481.90ZM419.92,481.90V473.90H420.94V481.90ZM421.16,481.90V465.91H422.19V481.90ZM422.41,481.90V465.91H423.43V481.90ZM423.65,481.90V457.92H424.68V481.90ZM424.90,481.90V463.25H425.92V481.90ZM426.15,481.90V460.58H427.17V481.90ZM427.39,481.90V457.92H428.41V481.90ZM428.64,481.90V449.92H429.66V481.90ZM429.88,481.90V441.93H430.90V481.90ZM431.13,481.90V441.93H432.15V481.90ZM432.37,481.90V436.60H433.39V481.90ZM433.62,481.90V444.59H434.64V481.90ZM434.86,481.90V452.58H435.88V481.90ZM436.11,481.90V447.25H437.13V481.90ZM437.35,481.90V444.59H438.37V481.90ZM438.60,481.90V457.92H439.62V481.90ZM439.84,481.90V455.25H440.87V481.90ZM441.09,481.90V452.58H442.11V481.90ZM442.33,481.90V455.25H443.36V481.90ZM443.58,481.90V460.58H444.60V481.90ZM444.83,481.90V452.58H445.85V481.90ZM446.07,481.90V457.92H447.09V481.90ZM447.32,481.90V457.92H448.34V481.90ZM448.56,481.90V463.25H449.58V481.90ZM449.81,481.90V471.24H450.83V481.90ZM451.05,481.90V468.57H452.07V481.90ZM452.30,481.90V468.57H453.32V481.90ZM453.54,481.90V473.90H454.56V481.90ZM454.79,481.90V465.91H455.81V481.90ZM456.03,481.90V471.24H457.05V481.90ZM457.28,481.90V473.90H458.30V481.90ZM458.52,481.90V476.57H459.55V481.90ZM459.77,481.90V476.57H460.79V481.90ZM461.01,481.90V476.57H462.04V481.90ZM462.26,481.90V473.90H463.28V481.90ZM463.51,481.90V476.57H464.53V481.90ZM464.75,481.90V476.57H465.77V481.90ZM466.00,481.90V479.23H467.02V481.90ZM468.49,481.90V476.57H469.51V481.90ZM469.73,481.90V479.23H470.75V481.90ZM472.22,481.90V479.23H473.24V481.90ZM473.47,481.90V479.23H474.49V481.90ZM475.96,481.90V479.23H476.98V481.90Z" fill="#da553e" fill-opacity="0.92"/>
<path d="M394.90,481.90v-2.2M413.58,481.90v-2.2M432.26,481.90v-2.2M450.94,481.90v-2.2M469.62,481.90v-2.2M488.30,481.90v-2.2M389.40,481.90h2.2M389.40,455.25h2.2M389.40,428.60h2.2" stroke="#222" stroke-width="0.6" fill="none"/>
<rect x="389.4" y="428.6" width="104.1" height="53.3" fill="none" stroke="#333" stroke-width="0.7"/>
<path d="M438.61,428.60V481.90" stroke="#111" stroke-width="1.3"/>
<text x="446.0" y="442.5" font-size="8.6" text-anchor="start">20.1</text>
<text x="393.7" y="494.2" font-size="8.6" text-anchor="middle">−15</text>
<text x="413.6" y="494.2" font-size="8.6" text-anchor="middle">0</text>
<text x="432.3" y="494.2" font-size="8.6" text-anchor="middle">15</text>
<text x="450.9" y="494.2" font-size="8.6" text-anchor="middle">30</text>
<text x="469.6" y="494.2" font-size="8.6" text-anchor="middle">45</text>
<text x="488.3" y="494.2" font-size="8.6" text-anchor="middle">60</text>
<text x="383.8" y="485.0" font-size="8.6" text-anchor="end">0</text>
<text x="383.8" y="458.4" font-size="8.6" text-anchor="end">10</text>
<text x="383.8" y="431.7" font-size="8.6" text-anchor="end">20</text>
<text transform="translate(364.3,455.5) rotate(-90)" font-size="10.6" text-anchor="middle">Frequency</text>
<text x="354.0" y="273.3" font-size="17.6" font-weight="bold" style="fill:#000;stroke:#000;stroke-width:0.55px">d</text>
<rect x="279.00" y="688.97" width="8.40" height="57.87" fill="#c5c5e6"/>
<rect x="279.00" y="631.15" width="8.40" height="57.87" fill="#fee0d2"/>
<rect x="279.00" y="573.33" width="8.40" height="57.87" fill="#f6a98a"/>
<rect x="279.00" y="515.50" width="8.40" height="57.87" fill="#d9614c"/>
<path d="M287.40,688.97h-3.6M287.40,631.15h-3.6M287.40,573.33h-3.6" stroke="#222" stroke-width="0.6" fill="none"/>
<rect x="279.00" y="515.50" width="8.40" height="231.30" fill="none" stroke="#2a2a2a" stroke-width="0.6"/>
<text x="292.9" y="518.2" font-size="10.3">1.5</text>
<text x="292.9" y="576.0" font-size="10.3">1.0</text>
<text x="292.9" y="633.9" font-size="10.3">0.5</text>
<text x="292.9" y="691.7" font-size="10.3">0</text>
<text x="292.9" y="749.5" font-size="10.3">−0.5</text>
<text transform="translate(319.7,631.4) rotate(90)" font-size="12.3" text-anchor="middle" textLength="81.6" lengthAdjust="spacingAndGlyphs"><tspan>Spring ΔT</tspan><tspan font-size="7.6" dy="2.6">a</tspan><tspan dy="-2.6"> (°C)</tspan></text>
<rect x="35.7" y="681.4" width="102.7" height="53.6" fill="#fff"/>
<path d="M59.75,735.00V731.43H60.52V735.00ZM60.69,735.00V733.21H61.46V735.00ZM61.63,735.00V733.21H62.40V735.00ZM62.57,735.00V733.21H63.34V735.00ZM63.51,735.00V733.21H64.28V735.00ZM64.45,735.00V731.43H65.22V735.00ZM65.39,735.00V726.07H66.16V735.00ZM66.33,735.00V722.49H67.10V735.00ZM67.27,735.00V717.13H68.05V735.00ZM68.21,735.00V717.13H68.99V735.00ZM69.16,735.00V715.35H69.93V735.00ZM70.10,735.00V704.63H70.87V735.00ZM71.04,735.00V697.48H71.81V735.00ZM71.98,735.00V706.41H72.75V735.00ZM72.92,735.00V697.48H73.69V735.00ZM73.86,735.00V713.56H74.63V735.00ZM74.80,735.00V715.35H75.57V735.00ZM75.74,735.00V713.56H76.51V735.00ZM76.68,735.00V702.84H77.46V735.00ZM77.62,735.00V708.20H78.40V735.00ZM78.57,735.00V702.84H79.34V735.00ZM79.51,735.00V713.56H80.28V735.00ZM80.45,735.00V718.92H81.22V735.00ZM81.39,735.00V720.71H82.16V735.00ZM82.33,735.00V727.85H83.10V735.00ZM83.27,735.00V729.64H84.04V735.00ZM84.21,735.00V729.64H84.98V735.00ZM85.15,735.00V727.85H85.92V735.00ZM86.09,735.00V727.85H86.87V735.00ZM87.03,735.00V727.85H87.81V735.00ZM87.98,735.00V727.85H88.75V735.00ZM88.92,735.00V727.85H89.69V735.00ZM89.86,735.00V731.43H90.63V735.00ZM90.80,735.00V727.85H91.57V735.00ZM91.74,735.00V729.64H92.51V735.00ZM92.68,735.00V731.43H93.45V735.00ZM93.62,735.00V731.43H94.39V735.00ZM94.56,735.00V727.85H95.33V735.00ZM95.50,735.00V729.64H96.28V735.00ZM96.44,735.00V729.64H97.22V735.00ZM97.39,735.00V731.43H98.16V735.00ZM98.33,735.00V731.43H99.10V735.00ZM99.27,735.00V731.43H100.04V735.00ZM100.21,735.00V731.43H100.98V735.00ZM101.15,735.00V733.21H101.92V735.00ZM102.09,735.00V733.21H102.86V735.00ZM103.03,735.00V733.21H103.80V735.00ZM103.97,735.00V733.21H104.74V735.00ZM104.91,735.00V733.21H105.69V735.00ZM108.68,735.00V733.21H109.45V735.00ZM109.62,735.00V733.21H110.39V735.00ZM112.44,735.00V733.21H113.21V735.00ZM113.38,735.00V733.21H114.15V735.00ZM114.32,735.00V733.21H115.10V735.00ZM116.21,735.00V733.21H116.98V735.00ZM117.15,735.00V733.21H117.92V735.00Z" fill="#da553e" fill-opacity="0.92"/>
<path d="M39.90,735.00v-2.2M63.42,735.00v-2.2M86.95,735.00v-2.2M110.47,735.00v-2.2M134.00,735.00v-2.2M35.70,735.00h2.2M35.70,717.13h2.2M35.70,699.27h2.2M35.70,681.40h2.2" stroke="#222" stroke-width="0.6" fill="none"/>
<rect x="35.7" y="681.4" width="102.7" height="53.6" fill="none" stroke="#333" stroke-width="0.7"/>
<path d="M78.48,681.40V735.00" stroke="#111" stroke-width="1.3"/>
<text x="87.0" y="704.3" font-size="8.6" text-anchor="start">0.32</text>
<text x="38.7" y="747.3" font-size="8.6" text-anchor="middle">−0.5</text>
<text x="63.4" y="747.3" font-size="8.6" text-anchor="middle">0</text>
<text x="86.9" y="747.3" font-size="8.6" text-anchor="middle">0.5</text>
<text x="110.5" y="747.3" font-size="8.6" text-anchor="middle">1.0</text>
<text x="134.0" y="747.3" font-size="8.6" text-anchor="middle">1.5</text>
<text x="30.1" y="738.1" font-size="8.6" text-anchor="end">0</text>
<text x="30.1" y="720.2" font-size="8.6" text-anchor="end">10</text>
<text x="30.1" y="702.4" font-size="8.6" text-anchor="end">20</text>
<text x="30.1" y="684.5" font-size="8.6" text-anchor="end">30</text>
<text transform="translate(10.4,708.0) rotate(-90)" font-size="10.6" text-anchor="middle">Frequency</text>
<text x="-0.3" y="526.4" font-size="17.6" font-weight="bold" style="fill:#000;stroke:#000;stroke-width:0.55px">e</text>
<rect x="628.80" y="688.08" width="8.80" height="57.58" fill="#c5c5e6"/>
<rect x="628.80" y="630.55" width="8.80" height="57.58" fill="#fee0d2"/>
<rect x="628.80" y="573.02" width="8.80" height="57.58" fill="#f6a98a"/>
<rect x="628.80" y="515.50" width="8.80" height="57.58" fill="#d9614c"/>
<path d="M637.60,688.08h-3.6M637.60,630.55h-3.6M637.60,573.02h-3.6" stroke="#222" stroke-width="0.6" fill="none"/>
<rect x="628.80" y="515.50" width="8.80" height="230.10" fill="none" stroke="#2a2a2a" stroke-width="0.6"/>
<text x="643.1" y="518.2" font-size="10.3">1.5</text>
<text x="643.1" y="575.7" font-size="10.3">1.0</text>
<text x="643.1" y="633.2" font-size="10.3">0.5</text>
<text x="643.1" y="690.8" font-size="10.3">0</text>
<text x="643.1" y="748.3" font-size="10.3">−0.5</text>
<text transform="translate(674.8,630.5) rotate(90)" font-size="12.3" text-anchor="middle" textLength="88.3" lengthAdjust="spacingAndGlyphs"><tspan>Autumn ΔT</tspan><tspan font-size="7.6" dy="2.6">a</tspan><tspan dy="-2.6"> (°C)</tspan></text>
<rect x="386.8" y="684.4" width="103.6" height="53.7" fill="#fff"/>
<path d="M410.52,738.10V734.52H411.30V738.10ZM415.23,738.10V734.52H416.01V738.10ZM416.18,738.10V734.52H416.95V738.10ZM418.06,738.10V734.52H418.83V738.10ZM419.00,738.10V734.52H419.78V738.10ZM419.94,738.10V730.94H420.72V738.10ZM420.89,738.10V727.36H421.66V738.10ZM421.83,738.10V723.78H422.60V738.10ZM422.77,738.10V720.20H423.54V738.10ZM423.71,738.10V713.04H424.49V738.10ZM424.65,738.10V713.04H425.43V738.10ZM425.60,738.10V705.88H426.37V738.10ZM426.54,738.10V705.88H427.31V738.10ZM427.48,738.10V713.04H428.25V738.10ZM428.42,738.10V709.46H429.20V738.10ZM429.36,738.10V698.72H430.14V738.10ZM430.31,738.10V691.56H431.08V738.10ZM431.25,738.10V698.72H432.02V738.10ZM432.19,738.10V684.40H432.96V738.10ZM433.13,738.10V687.98H433.91V738.10ZM434.07,738.10V705.88H434.85V738.10ZM435.02,738.10V698.72H435.79V738.10ZM435.96,738.10V713.04H436.73V738.10ZM436.90,738.10V716.62H437.67V738.10ZM437.84,738.10V716.62H438.62V738.10ZM438.78,738.10V705.88H439.56V738.10ZM439.73,738.10V709.46H440.50V738.10ZM440.67,738.10V713.04H441.44V738.10ZM441.61,738.10V720.20H442.38V738.10ZM442.55,738.10V727.36H443.33V738.10ZM443.49,738.10V727.36H444.27V738.10ZM444.44,738.10V723.78H445.21V738.10ZM445.38,738.10V716.62H446.15V738.10ZM446.32,738.10V713.04H447.09V738.10ZM447.26,738.10V713.04H448.04V738.10ZM448.20,738.10V720.20H448.98V738.10ZM449.15,738.10V727.36H449.92V738.10ZM450.09,738.10V720.20H450.86V738.10ZM451.03,738.10V720.20H451.80V738.10ZM451.97,738.10V720.20H452.75V738.10ZM452.91,738.10V723.78H453.69V738.10ZM453.86,738.10V727.36H454.63V738.10ZM454.80,738.10V727.36H455.57V738.10ZM455.74,738.10V730.94H456.51V738.10ZM456.68,738.10V730.94H457.46V738.10ZM457.62,738.10V734.52H458.40V738.10ZM458.57,738.10V734.52H459.34V738.10ZM459.51,738.10V734.52H460.28V738.10ZM462.33,738.10V734.52H463.11V738.10ZM464.22,738.10V730.94H464.99V738.10ZM465.16,738.10V734.52H465.93V738.10ZM466.10,738.10V734.52H466.88V738.10ZM467.99,738.10V734.52H468.76V738.10ZM468.93,738.10V734.52H469.70V738.10ZM469.87,738.10V734.52H470.64V738.10ZM470.81,738.10V734.52H471.59V738.10ZM472.70,738.10V734.52H473.47V738.10ZM473.64,738.10V734.52H474.41V738.10ZM474.58,738.10V734.52H475.35V738.10ZM475.52,738.10V734.52H476.30V738.10ZM477.41,738.10V734.52H478.18V738.10ZM478.35,738.10V730.94H479.12V738.10ZM479.29,738.10V734.52H480.06V738.10ZM480.23,738.10V734.52H481.01V738.10ZM481.17,738.10V734.52H481.95V738.10ZM482.12,738.10V734.52H482.89V738.10ZM484.94,738.10V734.52H485.72V738.10Z" fill="#da553e" fill-opacity="0.92"/>
<path d="M391.60,738.10v-2.2M415.15,738.10v-2.2M438.70,738.10v-2.2M462.25,738.10v-2.2M485.80,738.10v-2.2M386.80,738.10h2.2M386.80,720.20h2.2M386.80,702.30h2.2M386.80,684.40h2.2" stroke="#222" stroke-width="0.6" fill="none"/>
<rect x="386.8" y="684.4" width="103.6" height="53.7" fill="none" stroke="#333" stroke-width="0.7"/>
<path d="M437.76,684.40V738.10" stroke="#111" stroke-width="1.3"/>
<text x="443.8" y="697.7" font-size="8.6" text-anchor="start">0.48</text>
<text x="390.4" y="750.4" font-size="8.6" text-anchor="middle">−0.5</text>
<text x="415.2" y="750.4" font-size="8.6" text-anchor="middle">0</text>
<text x="438.7" y="750.4" font-size="8.6" text-anchor="middle">0.5</text>
<text x="462.2" y="750.4" font-size="8.6" text-anchor="middle">1.0</text>
<text x="485.8" y="750.4" font-size="8.6" text-anchor="middle">1.5</text>
<text x="381.2" y="741.2" font-size="8.6" text-anchor="end">0</text>
<text x="381.2" y="723.3" font-size="8.6" text-anchor="end">5</text>
<text x="381.2" y="705.4" font-size="8.6" text-anchor="end">10</text>
<text x="381.2" y="687.5" font-size="8.6" text-anchor="end">15</text>
<text transform="translate(363.2,711.4) rotate(-90)" font-size="10.6" text-anchor="middle">Frequency</text>
<text x="353.6" y="526.3" font-size="17.6" font-weight="bold" style="fill:#000;stroke:#000;stroke-width:0.55px">f</text>
</svg>
</body></html>
